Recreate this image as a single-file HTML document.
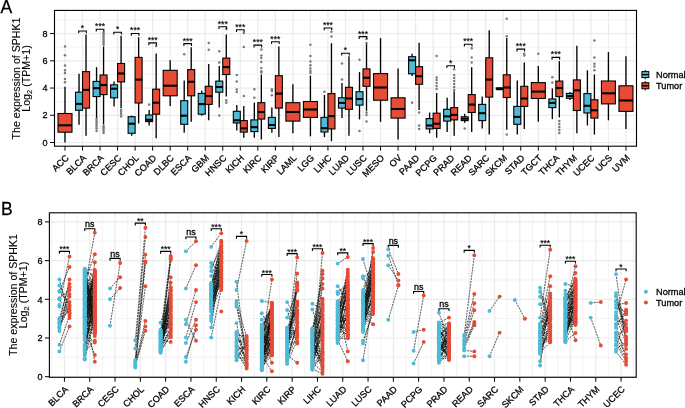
<!DOCTYPE html>
<html><head><meta charset="utf-8"><title>SPHK1 expression</title>
<style>html,body{margin:0;padding:0;background:#fff;width:685px;height:408px;overflow:hidden}
text{stroke:#000;stroke-width:0.28px}
svg{display:block;will-change:transform;font-family:"Liberation Sans",sans-serif}</style></head>
<body><svg width="685" height="408" viewBox="0 0 685 408">
<rect width="685" height="408" fill="#fff"/>
<line x1="54.5" y1="128.89" x2="636.5" y2="128.89" stroke="#EBEBEB" stroke-width="0.6" />
<line x1="54.5" y1="101.67" x2="636.5" y2="101.67" stroke="#EBEBEB" stroke-width="0.6" />
<line x1="54.5" y1="74.45" x2="636.5" y2="74.45" stroke="#EBEBEB" stroke-width="0.6" />
<line x1="54.5" y1="47.23" x2="636.5" y2="47.23" stroke="#EBEBEB" stroke-width="0.6" />
<line x1="54.5" y1="20.01" x2="636.5" y2="20.01" stroke="#EBEBEB" stroke-width="0.6" />
<line x1="54.5" y1="142.5" x2="636.5" y2="142.5" stroke="#EBEBEB" stroke-width="1.2" />
<line x1="54.5" y1="115.28" x2="636.5" y2="115.28" stroke="#EBEBEB" stroke-width="1.2" />
<line x1="54.5" y1="88.06" x2="636.5" y2="88.06" stroke="#EBEBEB" stroke-width="1.2" />
<line x1="54.5" y1="60.84" x2="636.5" y2="60.84" stroke="#EBEBEB" stroke-width="1.2" />
<line x1="54.5" y1="33.62" x2="636.5" y2="33.62" stroke="#EBEBEB" stroke-width="1.2" />
<line x1="65" y1="10.4" x2="65" y2="146.2" stroke="#EBEBEB" stroke-width="1.2" />
<line x1="82.53" y1="10.4" x2="82.53" y2="146.2" stroke="#EBEBEB" stroke-width="1.2" />
<line x1="100.06" y1="10.4" x2="100.06" y2="146.2" stroke="#EBEBEB" stroke-width="1.2" />
<line x1="117.59" y1="10.4" x2="117.59" y2="146.2" stroke="#EBEBEB" stroke-width="1.2" />
<line x1="135.12" y1="10.4" x2="135.12" y2="146.2" stroke="#EBEBEB" stroke-width="1.2" />
<line x1="152.65" y1="10.4" x2="152.65" y2="146.2" stroke="#EBEBEB" stroke-width="1.2" />
<line x1="170.18" y1="10.4" x2="170.18" y2="146.2" stroke="#EBEBEB" stroke-width="1.2" />
<line x1="187.71" y1="10.4" x2="187.71" y2="146.2" stroke="#EBEBEB" stroke-width="1.2" />
<line x1="205.24" y1="10.4" x2="205.24" y2="146.2" stroke="#EBEBEB" stroke-width="1.2" />
<line x1="222.77" y1="10.4" x2="222.77" y2="146.2" stroke="#EBEBEB" stroke-width="1.2" />
<line x1="240.3" y1="10.4" x2="240.3" y2="146.2" stroke="#EBEBEB" stroke-width="1.2" />
<line x1="257.83" y1="10.4" x2="257.83" y2="146.2" stroke="#EBEBEB" stroke-width="1.2" />
<line x1="275.36" y1="10.4" x2="275.36" y2="146.2" stroke="#EBEBEB" stroke-width="1.2" />
<line x1="292.89" y1="10.4" x2="292.89" y2="146.2" stroke="#EBEBEB" stroke-width="1.2" />
<line x1="310.42" y1="10.4" x2="310.42" y2="146.2" stroke="#EBEBEB" stroke-width="1.2" />
<line x1="327.95" y1="10.4" x2="327.95" y2="146.2" stroke="#EBEBEB" stroke-width="1.2" />
<line x1="345.48" y1="10.4" x2="345.48" y2="146.2" stroke="#EBEBEB" stroke-width="1.2" />
<line x1="363.01" y1="10.4" x2="363.01" y2="146.2" stroke="#EBEBEB" stroke-width="1.2" />
<line x1="380.54" y1="10.4" x2="380.54" y2="146.2" stroke="#EBEBEB" stroke-width="1.2" />
<line x1="398.07" y1="10.4" x2="398.07" y2="146.2" stroke="#EBEBEB" stroke-width="1.2" />
<line x1="415.6" y1="10.4" x2="415.6" y2="146.2" stroke="#EBEBEB" stroke-width="1.2" />
<line x1="433.13" y1="10.4" x2="433.13" y2="146.2" stroke="#EBEBEB" stroke-width="1.2" />
<line x1="450.66" y1="10.4" x2="450.66" y2="146.2" stroke="#EBEBEB" stroke-width="1.2" />
<line x1="468.19" y1="10.4" x2="468.19" y2="146.2" stroke="#EBEBEB" stroke-width="1.2" />
<line x1="485.72" y1="10.4" x2="485.72" y2="146.2" stroke="#EBEBEB" stroke-width="1.2" />
<line x1="503.25" y1="10.4" x2="503.25" y2="146.2" stroke="#EBEBEB" stroke-width="1.2" />
<line x1="520.78" y1="10.4" x2="520.78" y2="146.2" stroke="#EBEBEB" stroke-width="1.2" />
<line x1="538.31" y1="10.4" x2="538.31" y2="146.2" stroke="#EBEBEB" stroke-width="1.2" />
<line x1="555.84" y1="10.4" x2="555.84" y2="146.2" stroke="#EBEBEB" stroke-width="1.2" />
<line x1="573.37" y1="10.4" x2="573.37" y2="146.2" stroke="#EBEBEB" stroke-width="1.2" />
<line x1="590.9" y1="10.4" x2="590.9" y2="146.2" stroke="#EBEBEB" stroke-width="1.2" />
<line x1="608.43" y1="10.4" x2="608.43" y2="146.2" stroke="#EBEBEB" stroke-width="1.2" />
<line x1="625.96" y1="10.4" x2="625.96" y2="146.2" stroke="#EBEBEB" stroke-width="1.2" />
<line x1="65" y1="86.8" x2="65" y2="142.6" stroke="#000" stroke-width="1.35" />
<circle cx="65" cy="46.5" r="1.25" fill="#7a7a7a"/>
<circle cx="65" cy="55.2" r="1.25" fill="#7a7a7a"/>
<circle cx="65" cy="65.6" r="1.25" fill="#7a7a7a"/>
<circle cx="65" cy="70.3" r="1.25" fill="#7a7a7a"/>
<circle cx="65" cy="73" r="1.25" fill="#7a7a7a"/>
<circle cx="65" cy="79.1" r="1.25" fill="#7a7a7a"/>
<circle cx="65" cy="82.2" r="1.25" fill="#7a7a7a"/>
<rect x="58" y="113.5" width="14" height="18.7" fill="#E64B35" stroke="#000" stroke-width="1.1"/>
<line x1="58" y1="125.3" x2="72" y2="125.3" stroke="#000" stroke-width="2.1" />
<line x1="79.03" y1="73.8" x2="79.03" y2="124.8" stroke="#000" stroke-width="1.35" />
<rect x="75.53" y="92.2" width="7" height="18.1" fill="#4DBBD5" stroke="#000" stroke-width="1.1"/>
<line x1="75.53" y1="103.9" x2="82.53" y2="103.9" stroke="#000" stroke-width="2.1" />
<line x1="86.03" y1="34.4" x2="86.03" y2="135.8" stroke="#000" stroke-width="1.35" />
<rect x="82.53" y="71.6" width="7" height="36.5" fill="#E64B35" stroke="#000" stroke-width="1.1"/>
<line x1="82.53" y1="89.9" x2="89.53" y2="89.9" stroke="#000" stroke-width="2.1" />
<path d="M78.73 33.3V31H86.33V33.3" fill="none" stroke="#000" stroke-width="1.1"/>
<text x="82.53" y="30.9" font-size="8.6" text-anchor="middle" fill="#000" style="stroke-width:0.15px">*</text>
<line x1="96.56" y1="67.2" x2="96.56" y2="118.6" stroke="#000" stroke-width="1.35" />
<circle cx="96.56" cy="119" r="1.25" fill="#7a7a7a"/>
<circle cx="96.56" cy="121" r="1.25" fill="#7a7a7a"/>
<circle cx="96.56" cy="122.8" r="1.25" fill="#7a7a7a"/>
<circle cx="96.56" cy="124.5" r="1.25" fill="#7a7a7a"/>
<circle cx="96.56" cy="126.5" r="1.25" fill="#7a7a7a"/>
<circle cx="96.56" cy="128.5" r="1.25" fill="#7a7a7a"/>
<circle cx="96.56" cy="131" r="1.25" fill="#7a7a7a"/>
<rect x="93.06" y="81.4" width="7" height="15.2" fill="#4DBBD5" stroke="#000" stroke-width="1.1"/>
<line x1="93.06" y1="88.2" x2="100.06" y2="88.2" stroke="#000" stroke-width="2.1" />
<line x1="103.56" y1="46.5" x2="103.56" y2="124.5" stroke="#000" stroke-width="1.35" />
<circle cx="103.56" cy="32.3" r="1.25" fill="#7a7a7a"/>
<circle cx="103.56" cy="34" r="1.25" fill="#7a7a7a"/>
<circle cx="103.56" cy="35.8" r="1.25" fill="#7a7a7a"/>
<circle cx="103.56" cy="37.6" r="1.25" fill="#7a7a7a"/>
<circle cx="103.56" cy="39.4" r="1.25" fill="#7a7a7a"/>
<circle cx="103.56" cy="41.2" r="1.25" fill="#7a7a7a"/>
<circle cx="103.56" cy="43" r="1.25" fill="#7a7a7a"/>
<circle cx="103.56" cy="44.8" r="1.25" fill="#7a7a7a"/>
<circle cx="103.56" cy="126" r="1.25" fill="#7a7a7a"/>
<circle cx="103.56" cy="127.5" r="1.25" fill="#7a7a7a"/>
<circle cx="103.56" cy="129" r="1.25" fill="#7a7a7a"/>
<circle cx="103.56" cy="131" r="1.25" fill="#7a7a7a"/>
<circle cx="103.56" cy="133" r="1.25" fill="#7a7a7a"/>
<rect x="100.06" y="75" width="7" height="19.6" fill="#E64B35" stroke="#000" stroke-width="1.1"/>
<line x1="100.06" y1="85" x2="107.06" y2="85" stroke="#000" stroke-width="2.1" />
<path d="M96.26 31.5V29.2H103.86V31.5" fill="none" stroke="#000" stroke-width="1.1"/>
<text x="100.06" y="29.1" font-size="8.6" text-anchor="middle" fill="#000" style="stroke-width:0.15px">***</text>
<line x1="114.09" y1="81.4" x2="114.09" y2="106.6" stroke="#000" stroke-width="1.35" />
<rect x="110.59" y="84.8" width="7" height="13" fill="#4DBBD5" stroke="#000" stroke-width="1.1"/>
<line x1="110.59" y1="88.7" x2="117.59" y2="88.7" stroke="#000" stroke-width="2.1" />
<line x1="121.09" y1="35.8" x2="121.09" y2="108.2" stroke="#000" stroke-width="1.35" />
<circle cx="121.09" cy="110" r="1.25" fill="#7a7a7a"/>
<circle cx="121.09" cy="112" r="1.25" fill="#7a7a7a"/>
<circle cx="121.09" cy="114.2" r="1.25" fill="#7a7a7a"/>
<circle cx="121.09" cy="116.4" r="1.25" fill="#7a7a7a"/>
<rect x="117.59" y="63.5" width="7" height="18.4" fill="#E64B35" stroke="#000" stroke-width="1.1"/>
<line x1="117.59" y1="73.5" x2="124.59" y2="73.5" stroke="#000" stroke-width="2.1" />
<path d="M113.79 34.5V32.2H121.39V34.5" fill="none" stroke="#000" stroke-width="1.1"/>
<text x="117.59" y="32.1" font-size="8.6" text-anchor="middle" fill="#000" style="stroke-width:0.15px">*</text>
<line x1="131.62" y1="115.7" x2="131.62" y2="135.8" stroke="#000" stroke-width="1.35" />
<rect x="128.12" y="116.7" width="7" height="16.6" fill="#4DBBD5" stroke="#000" stroke-width="1.1"/>
<line x1="128.12" y1="123.7" x2="135.12" y2="123.7" stroke="#000" stroke-width="2.1" />
<line x1="138.62" y1="37.2" x2="138.62" y2="123.5" stroke="#000" stroke-width="1.35" />
<rect x="135.12" y="57.4" width="7" height="45.6" fill="#E64B35" stroke="#000" stroke-width="1.1"/>
<line x1="135.12" y1="79.6" x2="142.12" y2="79.6" stroke="#000" stroke-width="2.1" />
<path d="M131.32 35.8V33.5H138.92V35.8" fill="none" stroke="#000" stroke-width="1.1"/>
<text x="135.12" y="33.4" font-size="8.6" text-anchor="middle" fill="#000" style="stroke-width:0.15px">***</text>
<line x1="149.15" y1="110" x2="149.15" y2="125.5" stroke="#000" stroke-width="1.35" />
<circle cx="149.15" cy="104.4" r="1.25" fill="#7a7a7a"/>
<rect x="145.65" y="115" width="7" height="6.6" fill="#4DBBD5" stroke="#000" stroke-width="1.1"/>
<line x1="145.65" y1="119.8" x2="152.65" y2="119.8" stroke="#000" stroke-width="2.1" />
<line x1="156.15" y1="53.4" x2="156.15" y2="138.2" stroke="#000" stroke-width="1.35" />
<circle cx="156.15" cy="46.1" r="1.25" fill="#7a7a7a"/>
<rect x="152.65" y="89.2" width="7" height="25" fill="#E64B35" stroke="#000" stroke-width="1.1"/>
<line x1="152.65" y1="102.7" x2="159.65" y2="102.7" stroke="#000" stroke-width="2.1" />
<path d="M148.85 45.2V42.9H156.45V45.2" fill="none" stroke="#000" stroke-width="1.1"/>
<text x="152.65" y="42.8" font-size="8.6" text-anchor="middle" fill="#000" style="stroke-width:0.15px">***</text>
<line x1="170.18" y1="60.3" x2="170.18" y2="105.9" stroke="#000" stroke-width="1.35" />
<rect x="163.18" y="70.3" width="14" height="25.5" fill="#E64B35" stroke="#000" stroke-width="1.1"/>
<line x1="163.18" y1="85.7" x2="177.18" y2="85.7" stroke="#000" stroke-width="2.1" />
<line x1="184.21" y1="80.6" x2="184.21" y2="132.8" stroke="#000" stroke-width="1.35" />
<circle cx="184.21" cy="54.2" r="1.25" fill="#7a7a7a"/>
<rect x="180.71" y="100.7" width="7" height="23.6" fill="#4DBBD5" stroke="#000" stroke-width="1.1"/>
<line x1="180.71" y1="115.7" x2="187.71" y2="115.7" stroke="#000" stroke-width="2.1" />
<line x1="191.21" y1="47.3" x2="191.21" y2="121.8" stroke="#000" stroke-width="1.35" />
<rect x="187.71" y="69.6" width="7" height="26.2" fill="#E64B35" stroke="#000" stroke-width="1.1"/>
<line x1="187.71" y1="81.8" x2="194.71" y2="81.8" stroke="#000" stroke-width="2.1" />
<path d="M183.91 45.9V43.6H191.51V45.9" fill="none" stroke="#000" stroke-width="1.1"/>
<text x="187.71" y="43.5" font-size="8.6" text-anchor="middle" fill="#000" style="stroke-width:0.15px">***</text>
<line x1="201.74" y1="90.4" x2="201.74" y2="115.7" stroke="#000" stroke-width="1.35" />
<rect x="198.24" y="93.4" width="7" height="20.8" fill="#4DBBD5" stroke="#000" stroke-width="1.1"/>
<line x1="198.24" y1="104.1" x2="205.24" y2="104.1" stroke="#000" stroke-width="2.1" />
<line x1="208.74" y1="64" x2="208.74" y2="120.3" stroke="#000" stroke-width="1.35" />
<circle cx="208.74" cy="43" r="1.25" fill="#7a7a7a"/>
<circle cx="208.74" cy="49.7" r="1.25" fill="#7a7a7a"/>
<rect x="205.24" y="86.3" width="7" height="18.1" fill="#E64B35" stroke="#000" stroke-width="1.1"/>
<line x1="205.24" y1="96" x2="212.24" y2="96" stroke="#000" stroke-width="2.1" />
<line x1="219.27" y1="65.9" x2="219.27" y2="107.6" stroke="#000" stroke-width="1.35" />
<circle cx="219.27" cy="51.3" r="1.25" fill="#7a7a7a"/>
<circle cx="219.27" cy="62.4" r="1.25" fill="#7a7a7a"/>
<circle cx="219.27" cy="115.4" r="1.25" fill="#7a7a7a"/>
<rect x="215.77" y="81.1" width="7" height="11.1" fill="#4DBBD5" stroke="#000" stroke-width="1.1"/>
<line x1="215.77" y1="87" x2="222.77" y2="87" stroke="#000" stroke-width="2.1" />
<line x1="226.27" y1="34.4" x2="226.27" y2="96.6" stroke="#000" stroke-width="1.35" />
<circle cx="226.27" cy="28.9" r="1.25" fill="#7a7a7a"/>
<circle cx="226.27" cy="100.2" r="1.25" fill="#7a7a7a"/>
<circle cx="226.27" cy="102.7" r="1.25" fill="#7a7a7a"/>
<rect x="222.77" y="58.1" width="7" height="16.4" fill="#E64B35" stroke="#000" stroke-width="1.1"/>
<line x1="222.77" y1="67.1" x2="229.77" y2="67.1" stroke="#000" stroke-width="2.1" />
<path d="M218.97 29V26.7H226.57V29" fill="none" stroke="#000" stroke-width="1.1"/>
<text x="222.77" y="26.6" font-size="8.6" text-anchor="middle" fill="#000" style="stroke-width:0.15px">***</text>
<line x1="236.8" y1="105.1" x2="236.8" y2="130.6" stroke="#000" stroke-width="1.35" />
<circle cx="236.8" cy="75" r="1.25" fill="#7a7a7a"/>
<circle cx="236.8" cy="81.5" r="1.25" fill="#7a7a7a"/>
<circle cx="236.8" cy="89.5" r="1.25" fill="#7a7a7a"/>
<circle cx="236.8" cy="92" r="1.25" fill="#7a7a7a"/>
<rect x="233.3" y="111.3" width="7" height="11.7" fill="#4DBBD5" stroke="#000" stroke-width="1.1"/>
<line x1="233.3" y1="120.3" x2="240.3" y2="120.3" stroke="#000" stroke-width="2.1" />
<line x1="243.8" y1="105.9" x2="243.8" y2="137.7" stroke="#000" stroke-width="1.35" />
<circle cx="243.8" cy="33" r="1.25" fill="#7a7a7a"/>
<circle cx="243.8" cy="46.9" r="1.25" fill="#7a7a7a"/>
<circle cx="243.8" cy="96.1" r="1.25" fill="#7a7a7a"/>
<rect x="240.3" y="120.6" width="7" height="11.5" fill="#E64B35" stroke="#000" stroke-width="1.1"/>
<line x1="240.3" y1="128.4" x2="247.3" y2="128.4" stroke="#000" stroke-width="2.1" />
<path d="M236.5 32.1V29.8H244.1V32.1" fill="none" stroke="#000" stroke-width="1.1"/>
<text x="240.3" y="29.7" font-size="8.6" text-anchor="middle" fill="#000" style="stroke-width:0.15px">***</text>
<line x1="254.33" y1="102.7" x2="254.33" y2="137.7" stroke="#000" stroke-width="1.35" />
<circle cx="254.33" cy="89.2" r="1.25" fill="#7a7a7a"/>
<circle cx="254.33" cy="97.8" r="1.25" fill="#7a7a7a"/>
<rect x="250.83" y="119.9" width="7" height="11.7" fill="#4DBBD5" stroke="#000" stroke-width="1.1"/>
<line x1="250.83" y1="127.2" x2="257.83" y2="127.2" stroke="#000" stroke-width="2.1" />
<line x1="261.33" y1="74.5" x2="261.33" y2="139.5" stroke="#000" stroke-width="1.35" />
<circle cx="261.33" cy="49.4" r="1.25" fill="#7a7a7a"/>
<circle cx="261.33" cy="55.5" r="1.25" fill="#7a7a7a"/>
<circle cx="261.33" cy="58" r="1.25" fill="#7a7a7a"/>
<circle cx="261.33" cy="62" r="1.25" fill="#7a7a7a"/>
<circle cx="261.33" cy="68" r="1.25" fill="#7a7a7a"/>
<circle cx="261.33" cy="71.2" r="1.25" fill="#7a7a7a"/>
<circle cx="261.33" cy="72.6" r="1.25" fill="#7a7a7a"/>
<rect x="257.83" y="102.7" width="7" height="16.4" fill="#E64B35" stroke="#000" stroke-width="1.1"/>
<line x1="257.83" y1="112" x2="264.83" y2="112" stroke="#000" stroke-width="2.1" />
<path d="M254.03 47.4V45.1H261.63V47.4" fill="none" stroke="#000" stroke-width="1.1"/>
<text x="257.83" y="45" font-size="8.6" text-anchor="middle" fill="#000" style="stroke-width:0.15px">***</text>
<line x1="271.86" y1="107.6" x2="271.86" y2="132.8" stroke="#000" stroke-width="1.35" />
<circle cx="271.86" cy="89.2" r="1.25" fill="#7a7a7a"/>
<circle cx="271.86" cy="90.9" r="1.25" fill="#7a7a7a"/>
<circle cx="271.86" cy="95.3" r="1.25" fill="#7a7a7a"/>
<rect x="268.36" y="117.4" width="7" height="11" fill="#4DBBD5" stroke="#000" stroke-width="1.1"/>
<line x1="268.36" y1="125" x2="275.36" y2="125" stroke="#000" stroke-width="2.1" />
<line x1="278.86" y1="46.4" x2="278.86" y2="137" stroke="#000" stroke-width="1.35" />
<rect x="275.36" y="75.7" width="7" height="32.4" fill="#E64B35" stroke="#000" stroke-width="1.1"/>
<line x1="275.36" y1="93.6" x2="282.36" y2="93.6" stroke="#000" stroke-width="2.1" />
<path d="M271.56 44.1V41.8H279.16V44.1" fill="none" stroke="#000" stroke-width="1.1"/>
<text x="275.36" y="41.7" font-size="8.6" text-anchor="middle" fill="#000" style="stroke-width:0.15px">***</text>
<line x1="292.89" y1="84.3" x2="292.89" y2="133.3" stroke="#000" stroke-width="1.35" />
<rect x="285.89" y="102.7" width="14" height="18.4" fill="#E64B35" stroke="#000" stroke-width="1.1"/>
<line x1="285.89" y1="112" x2="299.89" y2="112" stroke="#000" stroke-width="2.1" />
<line x1="310.42" y1="75.7" x2="310.42" y2="136.3" stroke="#000" stroke-width="1.35" />
<circle cx="310.42" cy="44.7" r="1.25" fill="#7a7a7a"/>
<circle cx="310.42" cy="55.9" r="1.25" fill="#7a7a7a"/>
<circle cx="310.42" cy="61.4" r="1.25" fill="#7a7a7a"/>
<circle cx="310.42" cy="65.3" r="1.25" fill="#7a7a7a"/>
<circle cx="310.42" cy="68.5" r="1.25" fill="#7a7a7a"/>
<circle cx="310.42" cy="71" r="1.25" fill="#7a7a7a"/>
<circle cx="310.42" cy="73" r="1.25" fill="#7a7a7a"/>
<rect x="303.42" y="101.5" width="14" height="15.9" fill="#E64B35" stroke="#000" stroke-width="1.1"/>
<line x1="303.42" y1="109.5" x2="317.42" y2="109.5" stroke="#000" stroke-width="2.1" />
<line x1="324.45" y1="95" x2="324.45" y2="137.2" stroke="#000" stroke-width="1.35" />
<circle cx="324.45" cy="91.7" r="1.25" fill="#7a7a7a"/>
<rect x="320.95" y="117.4" width="7" height="14.6" fill="#4DBBD5" stroke="#000" stroke-width="1.1"/>
<line x1="320.95" y1="128.2" x2="327.95" y2="128.2" stroke="#000" stroke-width="2.1" />
<line x1="331.45" y1="43.2" x2="331.45" y2="141.2" stroke="#000" stroke-width="1.35" />
<circle cx="331.45" cy="31.7" r="1.25" fill="#7a7a7a"/>
<circle cx="331.45" cy="36.6" r="1.25" fill="#7a7a7a"/>
<rect x="327.95" y="93.6" width="7" height="35.3" fill="#E64B35" stroke="#000" stroke-width="1.1"/>
<line x1="327.95" y1="116.1" x2="334.95" y2="116.1" stroke="#000" stroke-width="2.1" />
<path d="M324.15 30.3V28H331.75V30.3" fill="none" stroke="#000" stroke-width="1.1"/>
<text x="327.95" y="27.9" font-size="8.6" text-anchor="middle" fill="#000" style="stroke-width:0.15px">***</text>
<line x1="341.98" y1="83.1" x2="341.98" y2="117.9" stroke="#000" stroke-width="1.35" />
<circle cx="341.98" cy="63.5" r="1.25" fill="#7a7a7a"/>
<circle cx="341.98" cy="79.4" r="1.25" fill="#7a7a7a"/>
<rect x="338.48" y="97.8" width="7" height="10.3" fill="#4DBBD5" stroke="#000" stroke-width="1.1"/>
<line x1="338.48" y1="102.9" x2="345.48" y2="102.9" stroke="#000" stroke-width="2.1" />
<line x1="348.98" y1="56.3" x2="348.98" y2="135.8" stroke="#000" stroke-width="1.35" />
<rect x="345.48" y="87.3" width="7" height="22" fill="#E64B35" stroke="#000" stroke-width="1.1"/>
<line x1="345.48" y1="98.5" x2="352.48" y2="98.5" stroke="#000" stroke-width="2.1" />
<path d="M341.68 55.5V53.2H349.28V55.5" fill="none" stroke="#000" stroke-width="1.1"/>
<text x="345.48" y="53.1" font-size="8.6" text-anchor="middle" fill="#000" style="stroke-width:0.15px">*</text>
<line x1="359.51" y1="72.1" x2="359.51" y2="119.4" stroke="#000" stroke-width="1.35" />
<circle cx="359.51" cy="59.8" r="1.25" fill="#7a7a7a"/>
<circle cx="359.51" cy="130.9" r="1.25" fill="#7a7a7a"/>
<rect x="356.01" y="91.7" width="7" height="13.4" fill="#4DBBD5" stroke="#000" stroke-width="1.1"/>
<line x1="356.01" y1="99" x2="363.01" y2="99" stroke="#000" stroke-width="2.1" />
<line x1="366.51" y1="43.6" x2="366.51" y2="110.8" stroke="#000" stroke-width="1.35" />
<circle cx="366.51" cy="39" r="1.25" fill="#7a7a7a"/>
<circle cx="366.51" cy="43" r="1.25" fill="#7a7a7a"/>
<circle cx="366.51" cy="112.5" r="1.25" fill="#7a7a7a"/>
<circle cx="366.51" cy="115" r="1.25" fill="#7a7a7a"/>
<circle cx="366.51" cy="121.6" r="1.25" fill="#7a7a7a"/>
<rect x="363.01" y="68.9" width="7" height="17.4" fill="#E64B35" stroke="#000" stroke-width="1.1"/>
<line x1="363.01" y1="77.7" x2="370.01" y2="77.7" stroke="#000" stroke-width="2.1" />
<path d="M359.21 38.9V36.6H366.81V38.9" fill="none" stroke="#000" stroke-width="1.1"/>
<text x="363.01" y="36.5" font-size="8.6" text-anchor="middle" fill="#000" style="stroke-width:0.15px">***</text>
<line x1="380.54" y1="38.1" x2="380.54" y2="121.8" stroke="#000" stroke-width="1.35" />
<rect x="373.54" y="73.6" width="14" height="26.6" fill="#E64B35" stroke="#000" stroke-width="1.1"/>
<line x1="373.54" y1="87.5" x2="387.54" y2="87.5" stroke="#000" stroke-width="2.1" />
<line x1="398.07" y1="68.4" x2="398.07" y2="139.5" stroke="#000" stroke-width="1.35" />
<rect x="391.07" y="97.8" width="14" height="20.3" fill="#E64B35" stroke="#000" stroke-width="1.1"/>
<line x1="391.07" y1="109" x2="405.07" y2="109" stroke="#000" stroke-width="2.1" />
<line x1="412.1" y1="53.7" x2="412.1" y2="76" stroke="#000" stroke-width="1.35" />
<circle cx="412.1" cy="102.7" r="1.25" fill="#7a7a7a"/>
<rect x="408.6" y="56.7" width="7" height="17.1" fill="#4DBBD5" stroke="#000" stroke-width="1.1"/>
<line x1="408.6" y1="60.3" x2="415.6" y2="60.3" stroke="#000" stroke-width="2.1" />
<line x1="419.1" y1="42.7" x2="419.1" y2="110" stroke="#000" stroke-width="1.35" />
<circle cx="419.1" cy="112.5" r="1.25" fill="#7a7a7a"/>
<circle cx="419.1" cy="125.5" r="1.25" fill="#7a7a7a"/>
<circle cx="419.1" cy="129" r="1.25" fill="#7a7a7a"/>
<rect x="415.6" y="66.7" width="7" height="17.6" fill="#E64B35" stroke="#000" stroke-width="1.1"/>
<line x1="415.6" y1="76.2" x2="422.6" y2="76.2" stroke="#000" stroke-width="2.1" />
<line x1="429.63" y1="112.5" x2="429.63" y2="133.3" stroke="#000" stroke-width="1.35" />
<rect x="426.13" y="118.6" width="7" height="10.3" fill="#4DBBD5" stroke="#000" stroke-width="1.1"/>
<line x1="426.13" y1="125.5" x2="433.13" y2="125.5" stroke="#000" stroke-width="2.1" />
<line x1="436.63" y1="92.9" x2="436.63" y2="137.7" stroke="#000" stroke-width="1.35" />
<circle cx="436.63" cy="56.1" r="1.25" fill="#7a7a7a"/>
<circle cx="436.63" cy="77.6" r="1.25" fill="#7a7a7a"/>
<circle cx="436.63" cy="80" r="1.25" fill="#7a7a7a"/>
<circle cx="436.63" cy="83" r="1.25" fill="#7a7a7a"/>
<circle cx="436.63" cy="86" r="1.25" fill="#7a7a7a"/>
<circle cx="436.63" cy="89" r="1.25" fill="#7a7a7a"/>
<rect x="433.13" y="113.2" width="7" height="15.2" fill="#E64B35" stroke="#000" stroke-width="1.1"/>
<line x1="433.13" y1="123.7" x2="440.13" y2="123.7" stroke="#000" stroke-width="2.1" />
<line x1="447.16" y1="97.8" x2="447.16" y2="132.1" stroke="#000" stroke-width="1.35" />
<rect x="443.66" y="109.3" width="7" height="11.8" fill="#4DBBD5" stroke="#000" stroke-width="1.1"/>
<line x1="443.66" y1="116.4" x2="450.66" y2="116.4" stroke="#000" stroke-width="2.1" />
<line x1="454.16" y1="91.2" x2="454.16" y2="135.8" stroke="#000" stroke-width="1.35" />
<circle cx="454.16" cy="69.3" r="1.25" fill="#7a7a7a"/>
<circle cx="454.16" cy="74.9" r="1.25" fill="#7a7a7a"/>
<circle cx="454.16" cy="78" r="1.25" fill="#7a7a7a"/>
<circle cx="454.16" cy="81" r="1.25" fill="#7a7a7a"/>
<circle cx="454.16" cy="84" r="1.25" fill="#7a7a7a"/>
<circle cx="454.16" cy="87" r="1.25" fill="#7a7a7a"/>
<circle cx="454.16" cy="90" r="1.25" fill="#7a7a7a"/>
<rect x="450.66" y="107.6" width="7" height="12.3" fill="#E64B35" stroke="#000" stroke-width="1.1"/>
<line x1="450.66" y1="114.9" x2="457.66" y2="114.9" stroke="#000" stroke-width="2.1" />
<path d="M446.86 68V65.7H454.46V68" fill="none" stroke="#000" stroke-width="1.1"/>
<text x="450.66" y="65.6" font-size="8.6" text-anchor="middle" fill="#000" style="stroke-width:0.15px">*</text>
<line x1="464.69" y1="113.8" x2="464.69" y2="122.7" stroke="#000" stroke-width="1.35" />
<circle cx="464.69" cy="128.4" r="1.25" fill="#7a7a7a"/>
<rect x="461.19" y="116.8" width="7" height="3.8" fill="#4DBBD5" stroke="#000" stroke-width="1.1"/>
<line x1="461.19" y1="118.7" x2="468.19" y2="118.7" stroke="#000" stroke-width="2.1" />
<line x1="471.69" y1="67.2" x2="471.69" y2="132.1" stroke="#000" stroke-width="1.35" />
<circle cx="471.69" cy="48.2" r="1.25" fill="#7a7a7a"/>
<circle cx="471.69" cy="57.4" r="1.25" fill="#7a7a7a"/>
<circle cx="471.69" cy="62.4" r="1.25" fill="#7a7a7a"/>
<rect x="468.19" y="94.6" width="7" height="17.9" fill="#E64B35" stroke="#000" stroke-width="1.1"/>
<line x1="468.19" y1="104.6" x2="475.19" y2="104.6" stroke="#000" stroke-width="2.1" />
<path d="M464.39 46.5V44.2H471.99V46.5" fill="none" stroke="#000" stroke-width="1.1"/>
<text x="468.19" y="44.1" font-size="8.6" text-anchor="middle" fill="#000" style="stroke-width:0.15px">***</text>
<line x1="482.22" y1="96.6" x2="482.22" y2="128.4" stroke="#000" stroke-width="1.35" />
<rect x="478.72" y="104.4" width="7" height="16.2" fill="#4DBBD5" stroke="#000" stroke-width="1.1"/>
<line x1="478.72" y1="113.2" x2="485.72" y2="113.2" stroke="#000" stroke-width="2.1" />
<line x1="489.22" y1="30.2" x2="489.22" y2="134.6" stroke="#000" stroke-width="1.35" />
<rect x="485.72" y="57.8" width="7" height="39.3" fill="#E64B35" stroke="#000" stroke-width="1.1"/>
<line x1="485.72" y1="79.6" x2="492.72" y2="79.6" stroke="#000" stroke-width="2.1" />
<line x1="499.75" y1="87.8" x2="499.75" y2="89.2" stroke="#000" stroke-width="1.35" />
<rect x="496.25" y="87.8" width="7" height="1.4" fill="#4DBBD5" stroke="#000" stroke-width="1.1"/>
<line x1="496.25" y1="89.2" x2="503.25" y2="89.2" stroke="#000" stroke-width="2.1" />
<line x1="506.75" y1="38.1" x2="506.75" y2="129.7" stroke="#000" stroke-width="1.35" />
<circle cx="506.75" cy="18.8" r="1.25" fill="#7a7a7a"/>
<circle cx="506.75" cy="36.3" r="1.25" fill="#7a7a7a"/>
<circle cx="506.75" cy="134.6" r="1.25" fill="#7a7a7a"/>
<rect x="503.25" y="74.8" width="7" height="22.7" fill="#E64B35" stroke="#000" stroke-width="1.1"/>
<line x1="503.25" y1="87.5" x2="510.25" y2="87.5" stroke="#000" stroke-width="2.1" />
<line x1="517.28" y1="80.6" x2="517.28" y2="134.6" stroke="#000" stroke-width="1.35" />
<rect x="513.78" y="106.4" width="7" height="17.9" fill="#4DBBD5" stroke="#000" stroke-width="1.1"/>
<line x1="513.78" y1="116.9" x2="520.78" y2="116.9" stroke="#000" stroke-width="2.1" />
<line x1="524.28" y1="62.4" x2="524.28" y2="128.9" stroke="#000" stroke-width="1.35" />
<circle cx="524.28" cy="53.7" r="1.25" fill="#7a7a7a"/>
<circle cx="524.28" cy="55.5" r="1.25" fill="#7a7a7a"/>
<rect x="520.78" y="86.3" width="7" height="20.1" fill="#E64B35" stroke="#000" stroke-width="1.1"/>
<line x1="520.78" y1="98.5" x2="527.78" y2="98.5" stroke="#000" stroke-width="2.1" />
<path d="M516.98 51.4V49.1H524.58V51.4" fill="none" stroke="#000" stroke-width="1.1"/>
<text x="520.78" y="49" font-size="8.6" text-anchor="middle" fill="#000" style="stroke-width:0.15px">***</text>
<line x1="538.31" y1="65.9" x2="538.31" y2="121.8" stroke="#000" stroke-width="1.35" />
<circle cx="538.31" cy="53.7" r="1.25" fill="#7a7a7a"/>
<rect x="531.31" y="82.6" width="14" height="15.9" fill="#E64B35" stroke="#000" stroke-width="1.1"/>
<line x1="531.31" y1="91.6" x2="545.31" y2="91.6" stroke="#000" stroke-width="2.1" />
<line x1="552.34" y1="88.5" x2="552.34" y2="119.1" stroke="#000" stroke-width="1.35" />
<circle cx="552.34" cy="77.3" r="1.25" fill="#7a7a7a"/>
<circle cx="552.34" cy="82.4" r="1.25" fill="#7a7a7a"/>
<rect x="548.84" y="99" width="7" height="8.6" fill="#4DBBD5" stroke="#000" stroke-width="1.1"/>
<line x1="548.84" y1="102.9" x2="555.84" y2="102.9" stroke="#000" stroke-width="2.1" />
<line x1="559.34" y1="61.1" x2="559.34" y2="117.4" stroke="#000" stroke-width="1.35" />
<circle cx="559.34" cy="121" r="1.25" fill="#7a7a7a"/>
<circle cx="559.34" cy="124" r="1.25" fill="#7a7a7a"/>
<circle cx="559.34" cy="127" r="1.25" fill="#7a7a7a"/>
<circle cx="559.34" cy="130" r="1.25" fill="#7a7a7a"/>
<circle cx="559.34" cy="133" r="1.25" fill="#7a7a7a"/>
<rect x="555.84" y="81.1" width="7" height="15.5" fill="#E64B35" stroke="#000" stroke-width="1.1"/>
<line x1="555.84" y1="88" x2="562.84" y2="88" stroke="#000" stroke-width="2.1" />
<path d="M552.04 59.7V57.4H559.64V59.7" fill="none" stroke="#000" stroke-width="1.1"/>
<text x="555.84" y="57.3" font-size="8.6" text-anchor="middle" fill="#000" style="stroke-width:0.15px">***</text>
<line x1="569.87" y1="92" x2="569.87" y2="100" stroke="#000" stroke-width="1.35" />
<rect x="566.37" y="93.4" width="7" height="4.9" fill="#4DBBD5" stroke="#000" stroke-width="1.1"/>
<line x1="566.37" y1="96" x2="573.37" y2="96" stroke="#000" stroke-width="2.1" />
<line x1="576.87" y1="45.8" x2="576.87" y2="133.3" stroke="#000" stroke-width="1.35" />
<rect x="573.37" y="79.9" width="7" height="30.6" fill="#E64B35" stroke="#000" stroke-width="1.1"/>
<line x1="573.37" y1="90.4" x2="580.37" y2="90.4" stroke="#000" stroke-width="2.1" />
<line x1="587.4" y1="70.3" x2="587.4" y2="125.5" stroke="#000" stroke-width="1.35" />
<rect x="583.9" y="93.6" width="7" height="19.4" fill="#4DBBD5" stroke="#000" stroke-width="1.1"/>
<line x1="583.9" y1="105.8" x2="590.9" y2="105.8" stroke="#000" stroke-width="2.1" />
<line x1="594.4" y1="74.5" x2="594.4" y2="134.6" stroke="#000" stroke-width="1.35" />
<circle cx="594.4" cy="40.5" r="1.25" fill="#7a7a7a"/>
<circle cx="594.4" cy="57.4" r="1.25" fill="#7a7a7a"/>
<circle cx="594.4" cy="63.8" r="1.25" fill="#7a7a7a"/>
<circle cx="594.4" cy="66.5" r="1.25" fill="#7a7a7a"/>
<circle cx="594.4" cy="70.3" r="1.25" fill="#7a7a7a"/>
<rect x="590.9" y="99.8" width="7" height="18.3" fill="#E64B35" stroke="#000" stroke-width="1.1"/>
<line x1="590.9" y1="110.3" x2="597.9" y2="110.3" stroke="#000" stroke-width="2.1" />
<line x1="608.43" y1="52.1" x2="608.43" y2="120.3" stroke="#000" stroke-width="1.35" />
<rect x="601.43" y="81" width="14" height="22.9" fill="#E64B35" stroke="#000" stroke-width="1.1"/>
<line x1="601.43" y1="93.3" x2="615.43" y2="93.3" stroke="#000" stroke-width="2.1" />
<line x1="625.96" y1="56.2" x2="625.96" y2="129" stroke="#000" stroke-width="1.35" />
<rect x="618.96" y="85.8" width="14" height="25.6" fill="#E64B35" stroke="#000" stroke-width="1.1"/>
<line x1="618.96" y1="100.5" x2="632.96" y2="100.5" stroke="#000" stroke-width="2.1" />
<rect x="54.5" y="10.4" width="582" height="135.8" fill="none" stroke="#000" stroke-width="1.1"/>
<line x1="50.1" y1="142.5" x2="54.5" y2="142.5" stroke="#000" stroke-width="1" />
<text x="47.6" y="145.7" font-size="9.1" text-anchor="end" fill="#000" >0</text>
<line x1="50.1" y1="115.28" x2="54.5" y2="115.28" stroke="#000" stroke-width="1" />
<text x="47.6" y="118.48" font-size="9.1" text-anchor="end" fill="#000" >2</text>
<line x1="50.1" y1="88.06" x2="54.5" y2="88.06" stroke="#000" stroke-width="1" />
<text x="47.6" y="91.26" font-size="9.1" text-anchor="end" fill="#000" >4</text>
<line x1="50.1" y1="60.84" x2="54.5" y2="60.84" stroke="#000" stroke-width="1" />
<text x="47.6" y="64.04" font-size="9.1" text-anchor="end" fill="#000" >6</text>
<line x1="50.1" y1="33.62" x2="54.5" y2="33.62" stroke="#000" stroke-width="1" />
<text x="47.6" y="36.82" font-size="9.1" text-anchor="end" fill="#000" >8</text>
<line x1="65" y1="146.2" x2="65" y2="150.6" stroke="#000" stroke-width="1" />
<text x="69.3" y="158.5" font-size="9.1" text-anchor="end" fill="#000" transform="rotate(-45 69.3 158.5)">ACC</text>
<line x1="82.53" y1="146.2" x2="82.53" y2="150.6" stroke="#000" stroke-width="1" />
<text x="86.83" y="158.5" font-size="9.1" text-anchor="end" fill="#000" transform="rotate(-45 86.83 158.5)">BLCA</text>
<line x1="100.06" y1="146.2" x2="100.06" y2="150.6" stroke="#000" stroke-width="1" />
<text x="104.36" y="158.5" font-size="9.1" text-anchor="end" fill="#000" transform="rotate(-45 104.36 158.5)">BRCA</text>
<line x1="117.59" y1="146.2" x2="117.59" y2="150.6" stroke="#000" stroke-width="1" />
<text x="121.89" y="158.5" font-size="9.1" text-anchor="end" fill="#000" transform="rotate(-45 121.89 158.5)">CESC</text>
<line x1="135.12" y1="146.2" x2="135.12" y2="150.6" stroke="#000" stroke-width="1" />
<text x="139.42" y="158.5" font-size="9.1" text-anchor="end" fill="#000" transform="rotate(-45 139.42 158.5)">CHOL</text>
<line x1="152.65" y1="146.2" x2="152.65" y2="150.6" stroke="#000" stroke-width="1" />
<text x="156.95" y="158.5" font-size="9.1" text-anchor="end" fill="#000" transform="rotate(-45 156.95 158.5)">COAD</text>
<line x1="170.18" y1="146.2" x2="170.18" y2="150.6" stroke="#000" stroke-width="1" />
<text x="174.48" y="158.5" font-size="9.1" text-anchor="end" fill="#000" transform="rotate(-45 174.48 158.5)">DLBC</text>
<line x1="187.71" y1="146.2" x2="187.71" y2="150.6" stroke="#000" stroke-width="1" />
<text x="192.01" y="158.5" font-size="9.1" text-anchor="end" fill="#000" transform="rotate(-45 192.01 158.5)">ESCA</text>
<line x1="205.24" y1="146.2" x2="205.24" y2="150.6" stroke="#000" stroke-width="1" />
<text x="209.54" y="158.5" font-size="9.1" text-anchor="end" fill="#000" transform="rotate(-45 209.54 158.5)">GBM</text>
<line x1="222.77" y1="146.2" x2="222.77" y2="150.6" stroke="#000" stroke-width="1" />
<text x="227.07" y="158.5" font-size="9.1" text-anchor="end" fill="#000" transform="rotate(-45 227.07 158.5)">HNSC</text>
<line x1="240.3" y1="146.2" x2="240.3" y2="150.6" stroke="#000" stroke-width="1" />
<text x="244.6" y="158.5" font-size="9.1" text-anchor="end" fill="#000" transform="rotate(-45 244.6 158.5)">KICH</text>
<line x1="257.83" y1="146.2" x2="257.83" y2="150.6" stroke="#000" stroke-width="1" />
<text x="262.13" y="158.5" font-size="9.1" text-anchor="end" fill="#000" transform="rotate(-45 262.13 158.5)">KIRC</text>
<line x1="275.36" y1="146.2" x2="275.36" y2="150.6" stroke="#000" stroke-width="1" />
<text x="279.66" y="158.5" font-size="9.1" text-anchor="end" fill="#000" transform="rotate(-45 279.66 158.5)">KIRP</text>
<line x1="292.89" y1="146.2" x2="292.89" y2="150.6" stroke="#000" stroke-width="1" />
<text x="297.19" y="158.5" font-size="9.1" text-anchor="end" fill="#000" transform="rotate(-45 297.19 158.5)">LAML</text>
<line x1="310.42" y1="146.2" x2="310.42" y2="150.6" stroke="#000" stroke-width="1" />
<text x="314.72" y="158.5" font-size="9.1" text-anchor="end" fill="#000" transform="rotate(-45 314.72 158.5)">LGG</text>
<line x1="327.95" y1="146.2" x2="327.95" y2="150.6" stroke="#000" stroke-width="1" />
<text x="332.25" y="158.5" font-size="9.1" text-anchor="end" fill="#000" transform="rotate(-45 332.25 158.5)">LIHC</text>
<line x1="345.48" y1="146.2" x2="345.48" y2="150.6" stroke="#000" stroke-width="1" />
<text x="349.78" y="158.5" font-size="9.1" text-anchor="end" fill="#000" transform="rotate(-45 349.78 158.5)">LUAD</text>
<line x1="363.01" y1="146.2" x2="363.01" y2="150.6" stroke="#000" stroke-width="1" />
<text x="367.31" y="158.5" font-size="9.1" text-anchor="end" fill="#000" transform="rotate(-45 367.31 158.5)">LUSC</text>
<line x1="380.54" y1="146.2" x2="380.54" y2="150.6" stroke="#000" stroke-width="1" />
<text x="384.84" y="158.5" font-size="9.1" text-anchor="end" fill="#000" transform="rotate(-45 384.84 158.5)">MESO</text>
<line x1="398.07" y1="146.2" x2="398.07" y2="150.6" stroke="#000" stroke-width="1" />
<text x="402.37" y="158.5" font-size="9.1" text-anchor="end" fill="#000" transform="rotate(-45 402.37 158.5)">OV</text>
<line x1="415.6" y1="146.2" x2="415.6" y2="150.6" stroke="#000" stroke-width="1" />
<text x="419.9" y="158.5" font-size="9.1" text-anchor="end" fill="#000" transform="rotate(-45 419.9 158.5)">PAAD</text>
<line x1="433.13" y1="146.2" x2="433.13" y2="150.6" stroke="#000" stroke-width="1" />
<text x="437.43" y="158.5" font-size="9.1" text-anchor="end" fill="#000" transform="rotate(-45 437.43 158.5)">PCPG</text>
<line x1="450.66" y1="146.2" x2="450.66" y2="150.6" stroke="#000" stroke-width="1" />
<text x="454.96" y="158.5" font-size="9.1" text-anchor="end" fill="#000" transform="rotate(-45 454.96 158.5)">PRAD</text>
<line x1="468.19" y1="146.2" x2="468.19" y2="150.6" stroke="#000" stroke-width="1" />
<text x="472.49" y="158.5" font-size="9.1" text-anchor="end" fill="#000" transform="rotate(-45 472.49 158.5)">READ</text>
<line x1="485.72" y1="146.2" x2="485.72" y2="150.6" stroke="#000" stroke-width="1" />
<text x="490.02" y="158.5" font-size="9.1" text-anchor="end" fill="#000" transform="rotate(-45 490.02 158.5)">SARC</text>
<line x1="503.25" y1="146.2" x2="503.25" y2="150.6" stroke="#000" stroke-width="1" />
<text x="507.55" y="158.5" font-size="9.1" text-anchor="end" fill="#000" transform="rotate(-45 507.55 158.5)">SKCM</text>
<line x1="520.78" y1="146.2" x2="520.78" y2="150.6" stroke="#000" stroke-width="1" />
<text x="525.08" y="158.5" font-size="9.1" text-anchor="end" fill="#000" transform="rotate(-45 525.08 158.5)">STAD</text>
<line x1="538.31" y1="146.2" x2="538.31" y2="150.6" stroke="#000" stroke-width="1" />
<text x="542.61" y="158.5" font-size="9.1" text-anchor="end" fill="#000" transform="rotate(-45 542.61 158.5)">TGCT</text>
<line x1="555.84" y1="146.2" x2="555.84" y2="150.6" stroke="#000" stroke-width="1" />
<text x="560.14" y="158.5" font-size="9.1" text-anchor="end" fill="#000" transform="rotate(-45 560.14 158.5)">THCA</text>
<line x1="573.37" y1="146.2" x2="573.37" y2="150.6" stroke="#000" stroke-width="1" />
<text x="577.67" y="158.5" font-size="9.1" text-anchor="end" fill="#000" transform="rotate(-45 577.67 158.5)">THYM</text>
<line x1="590.9" y1="146.2" x2="590.9" y2="150.6" stroke="#000" stroke-width="1" />
<text x="595.2" y="158.5" font-size="9.1" text-anchor="end" fill="#000" transform="rotate(-45 595.2 158.5)">UCEC</text>
<line x1="608.43" y1="146.2" x2="608.43" y2="150.6" stroke="#000" stroke-width="1" />
<text x="612.73" y="158.5" font-size="9.1" text-anchor="end" fill="#000" transform="rotate(-45 612.73 158.5)">UCS</text>
<line x1="625.96" y1="146.2" x2="625.96" y2="150.6" stroke="#000" stroke-width="1" />
<text x="630.26" y="158.5" font-size="9.1" text-anchor="end" fill="#000" transform="rotate(-45 630.26 158.5)">UVM</text>
<text x="19.8" y="78.5" font-size="10.6" text-anchor="middle" fill="#000" style="stroke-width:0.1px" transform="rotate(-90 19.8 78.5)">The expression of SPHK1</text>
<text x="29.7" y="78.5" font-size="10.6" text-anchor="middle" fill="#000" style="stroke-width:0.1px" transform="rotate(-90 29.7 78.5)">Log<tspan font-size="7.6" dy="2.4">2</tspan><tspan dy="-2.4"> (TPM+1)</tspan></text>
<text x="0.6" y="12.6" font-size="17.5" text-anchor="start" fill="#000" >A</text>
<line x1="645.3" y1="70" x2="645.3" y2="79.2" stroke="#000" stroke-width="1" />
<rect x="641.9" y="71.6" width="6.9" height="6" fill="#4DBBD5" stroke="#000" stroke-width="1"/>
<line x1="641.9" y1="74.6" x2="648.8" y2="74.6" stroke="#000" stroke-width="1.4" />
<line x1="645.3" y1="81.15" x2="645.3" y2="90.35" stroke="#000" stroke-width="1" />
<rect x="641.9" y="82.75" width="6.9" height="6" fill="#E64B35" stroke="#000" stroke-width="1"/>
<line x1="641.9" y1="85.75" x2="648.8" y2="85.75" stroke="#000" stroke-width="1.4" />
<text x="656" y="77.8" font-size="9.2" text-anchor="start" fill="#000" >Normal</text>
<text x="656" y="88.8" font-size="9.2" text-anchor="start" fill="#000" >Tumor</text>
<line x1="49.4" y1="357.35" x2="636.2" y2="357.35" stroke="#EBEBEB" stroke-width="0.6" />
<line x1="49.4" y1="318.65" x2="636.2" y2="318.65" stroke="#EBEBEB" stroke-width="0.6" />
<line x1="49.4" y1="279.95" x2="636.2" y2="279.95" stroke="#EBEBEB" stroke-width="0.6" />
<line x1="49.4" y1="241.25" x2="636.2" y2="241.25" stroke="#EBEBEB" stroke-width="0.6" />
<line x1="49.4" y1="376.7" x2="636.2" y2="376.7" stroke="#EBEBEB" stroke-width="1.2" />
<line x1="49.4" y1="338" x2="636.2" y2="338" stroke="#EBEBEB" stroke-width="1.2" />
<line x1="49.4" y1="299.3" x2="636.2" y2="299.3" stroke="#EBEBEB" stroke-width="1.2" />
<line x1="49.4" y1="260.6" x2="636.2" y2="260.6" stroke="#EBEBEB" stroke-width="1.2" />
<line x1="49.4" y1="221.9" x2="636.2" y2="221.9" stroke="#EBEBEB" stroke-width="1.2" />
<line x1="51.79" y1="212.8" x2="51.79" y2="377.3" stroke="#EBEBEB" stroke-width="0.6" />
<line x1="77.09" y1="212.8" x2="77.09" y2="377.3" stroke="#EBEBEB" stroke-width="0.6" />
<line x1="102.39" y1="212.8" x2="102.39" y2="377.3" stroke="#EBEBEB" stroke-width="0.6" />
<line x1="127.69" y1="212.8" x2="127.69" y2="377.3" stroke="#EBEBEB" stroke-width="0.6" />
<line x1="152.99" y1="212.8" x2="152.99" y2="377.3" stroke="#EBEBEB" stroke-width="0.6" />
<line x1="178.28" y1="212.8" x2="178.28" y2="377.3" stroke="#EBEBEB" stroke-width="0.6" />
<line x1="203.58" y1="212.8" x2="203.58" y2="377.3" stroke="#EBEBEB" stroke-width="0.6" />
<line x1="228.88" y1="212.8" x2="228.88" y2="377.3" stroke="#EBEBEB" stroke-width="0.6" />
<line x1="254.19" y1="212.8" x2="254.19" y2="377.3" stroke="#EBEBEB" stroke-width="0.6" />
<line x1="279.49" y1="212.8" x2="279.49" y2="377.3" stroke="#EBEBEB" stroke-width="0.6" />
<line x1="304.79" y1="212.8" x2="304.79" y2="377.3" stroke="#EBEBEB" stroke-width="0.6" />
<line x1="330.08" y1="212.8" x2="330.08" y2="377.3" stroke="#EBEBEB" stroke-width="0.6" />
<line x1="355.38" y1="212.8" x2="355.38" y2="377.3" stroke="#EBEBEB" stroke-width="0.6" />
<line x1="380.69" y1="212.8" x2="380.69" y2="377.3" stroke="#EBEBEB" stroke-width="0.6" />
<line x1="405.99" y1="212.8" x2="405.99" y2="377.3" stroke="#EBEBEB" stroke-width="0.6" />
<line x1="431.28" y1="212.8" x2="431.28" y2="377.3" stroke="#EBEBEB" stroke-width="0.6" />
<line x1="456.58" y1="212.8" x2="456.58" y2="377.3" stroke="#EBEBEB" stroke-width="0.6" />
<line x1="481.88" y1="212.8" x2="481.88" y2="377.3" stroke="#EBEBEB" stroke-width="0.6" />
<line x1="507.19" y1="212.8" x2="507.19" y2="377.3" stroke="#EBEBEB" stroke-width="0.6" />
<line x1="532.49" y1="212.8" x2="532.49" y2="377.3" stroke="#EBEBEB" stroke-width="0.6" />
<line x1="557.78" y1="212.8" x2="557.78" y2="377.3" stroke="#EBEBEB" stroke-width="0.6" />
<line x1="583.09" y1="212.8" x2="583.09" y2="377.3" stroke="#EBEBEB" stroke-width="0.6" />
<line x1="608.39" y1="212.8" x2="608.39" y2="377.3" stroke="#EBEBEB" stroke-width="0.6" />
<line x1="633.69" y1="212.8" x2="633.69" y2="377.3" stroke="#EBEBEB" stroke-width="0.6" />
<line x1="64.45" y1="212.8" x2="64.45" y2="377.3" stroke="#EBEBEB" stroke-width="1.2" />
<line x1="89.75" y1="212.8" x2="89.75" y2="377.3" stroke="#EBEBEB" stroke-width="1.2" />
<line x1="115.05" y1="212.8" x2="115.05" y2="377.3" stroke="#EBEBEB" stroke-width="1.2" />
<line x1="140.35" y1="212.8" x2="140.35" y2="377.3" stroke="#EBEBEB" stroke-width="1.2" />
<line x1="165.65" y1="212.8" x2="165.65" y2="377.3" stroke="#EBEBEB" stroke-width="1.2" />
<line x1="190.95" y1="212.8" x2="190.95" y2="377.3" stroke="#EBEBEB" stroke-width="1.2" />
<line x1="216.25" y1="212.8" x2="216.25" y2="377.3" stroke="#EBEBEB" stroke-width="1.2" />
<line x1="241.55" y1="212.8" x2="241.55" y2="377.3" stroke="#EBEBEB" stroke-width="1.2" />
<line x1="266.85" y1="212.8" x2="266.85" y2="377.3" stroke="#EBEBEB" stroke-width="1.2" />
<line x1="292.15" y1="212.8" x2="292.15" y2="377.3" stroke="#EBEBEB" stroke-width="1.2" />
<line x1="317.45" y1="212.8" x2="317.45" y2="377.3" stroke="#EBEBEB" stroke-width="1.2" />
<line x1="342.75" y1="212.8" x2="342.75" y2="377.3" stroke="#EBEBEB" stroke-width="1.2" />
<line x1="368.05" y1="212.8" x2="368.05" y2="377.3" stroke="#EBEBEB" stroke-width="1.2" />
<line x1="393.35" y1="212.8" x2="393.35" y2="377.3" stroke="#EBEBEB" stroke-width="1.2" />
<line x1="418.65" y1="212.8" x2="418.65" y2="377.3" stroke="#EBEBEB" stroke-width="1.2" />
<line x1="443.95" y1="212.8" x2="443.95" y2="377.3" stroke="#EBEBEB" stroke-width="1.2" />
<line x1="469.25" y1="212.8" x2="469.25" y2="377.3" stroke="#EBEBEB" stroke-width="1.2" />
<line x1="494.55" y1="212.8" x2="494.55" y2="377.3" stroke="#EBEBEB" stroke-width="1.2" />
<line x1="519.85" y1="212.8" x2="519.85" y2="377.3" stroke="#EBEBEB" stroke-width="1.2" />
<line x1="545.15" y1="212.8" x2="545.15" y2="377.3" stroke="#EBEBEB" stroke-width="1.2" />
<line x1="570.45" y1="212.8" x2="570.45" y2="377.3" stroke="#EBEBEB" stroke-width="1.2" />
<line x1="595.75" y1="212.8" x2="595.75" y2="377.3" stroke="#EBEBEB" stroke-width="1.2" />
<line x1="621.05" y1="212.8" x2="621.05" y2="377.3" stroke="#EBEBEB" stroke-width="1.2" />
<line x1="59.4" y1="279.5" x2="69.5" y2="318.01" stroke="#111" stroke-width="0.7" stroke-dasharray="2 0.9"/>
<line x1="59.4" y1="285.5" x2="69.5" y2="305.84" stroke="#111" stroke-width="0.7" stroke-dasharray="2 0.9"/>
<line x1="59.4" y1="291" x2="69.5" y2="304.66" stroke="#111" stroke-width="0.7" stroke-dasharray="2 0.9"/>
<line x1="59.4" y1="291.7" x2="69.5" y2="267" stroke="#111" stroke-width="0.7" stroke-dasharray="2 0.9"/>
<line x1="59.4" y1="298.3" x2="69.5" y2="290" stroke="#111" stroke-width="0.7" stroke-dasharray="2 0.9"/>
<line x1="59.4" y1="299.3" x2="69.5" y2="312.81" stroke="#111" stroke-width="0.7" stroke-dasharray="2 0.9"/>
<line x1="59.4" y1="305" x2="69.5" y2="256.4" stroke="#111" stroke-width="0.7" stroke-dasharray="2 0.9"/>
<line x1="59.4" y1="306.6" x2="69.5" y2="313.36" stroke="#111" stroke-width="0.7" stroke-dasharray="2 0.9"/>
<line x1="59.4" y1="318.18" x2="69.5" y2="284" stroke="#111" stroke-width="0.7" stroke-dasharray="2 0.9"/>
<line x1="59.4" y1="319.67" x2="69.5" y2="310.21" stroke="#111" stroke-width="0.7" stroke-dasharray="2 0.9"/>
<line x1="59.4" y1="322.37" x2="69.5" y2="294" stroke="#111" stroke-width="0.7" stroke-dasharray="2 0.9"/>
<line x1="59.4" y1="323.13" x2="69.5" y2="279.5" stroke="#111" stroke-width="0.7" stroke-dasharray="2 0.9"/>
<line x1="59.4" y1="325.76" x2="69.5" y2="307.73" stroke="#111" stroke-width="0.7" stroke-dasharray="2 0.9"/>
<line x1="59.4" y1="327.26" x2="69.5" y2="296.6" stroke="#111" stroke-width="0.7" stroke-dasharray="2 0.9"/>
<line x1="59.4" y1="328.5" x2="69.5" y2="302.07" stroke="#111" stroke-width="0.7" stroke-dasharray="2 0.9"/>
<line x1="59.4" y1="331.11" x2="69.5" y2="287.3" stroke="#111" stroke-width="0.7" stroke-dasharray="2 0.9"/>
<line x1="59.4" y1="344.7" x2="69.5" y2="315.4" stroke="#111" stroke-width="0.7" stroke-dasharray="2 0.9"/>
<line x1="59.4" y1="351.4" x2="69.5" y2="326.4" stroke="#111" stroke-width="0.7" stroke-dasharray="2 0.9"/>
<path d="M59.4 253.7V251.4H69.5V253.7" fill="none" stroke="#000" stroke-width="1.1"/>
<text x="64.45" y="252.4" font-size="8.6" text-anchor="middle" fill="#000" style="stroke-width:0.15px">***</text>
<line x1="84.7" y1="268.66" x2="94.8" y2="286.17" stroke="#111" stroke-width="0.7" stroke-dasharray="2 0.9"/>
<line x1="84.7" y1="269.1" x2="94.8" y2="270.04" stroke="#111" stroke-width="0.7" stroke-dasharray="2 0.9"/>
<line x1="84.7" y1="269.67" x2="94.8" y2="331.32" stroke="#111" stroke-width="0.7" stroke-dasharray="2 0.9"/>
<line x1="84.7" y1="270.76" x2="94.8" y2="275.18" stroke="#111" stroke-width="0.7" stroke-dasharray="2 0.9"/>
<line x1="84.7" y1="270.81" x2="94.8" y2="313.03" stroke="#111" stroke-width="0.7" stroke-dasharray="2 0.9"/>
<line x1="84.7" y1="272.07" x2="94.8" y2="276.42" stroke="#111" stroke-width="0.7" stroke-dasharray="2 0.9"/>
<line x1="84.7" y1="272.37" x2="94.8" y2="322.59" stroke="#111" stroke-width="0.7" stroke-dasharray="2 0.9"/>
<line x1="84.7" y1="272.96" x2="94.8" y2="310.28" stroke="#111" stroke-width="0.7" stroke-dasharray="2 0.9"/>
<line x1="84.7" y1="273.64" x2="94.8" y2="328.35" stroke="#111" stroke-width="0.7" stroke-dasharray="2 0.9"/>
<line x1="84.7" y1="274.47" x2="94.8" y2="292.1" stroke="#111" stroke-width="0.7" stroke-dasharray="2 0.9"/>
<line x1="84.7" y1="275.51" x2="94.8" y2="284.79" stroke="#111" stroke-width="0.7" stroke-dasharray="2 0.9"/>
<line x1="84.7" y1="275.77" x2="94.8" y2="311.57" stroke="#111" stroke-width="0.7" stroke-dasharray="2 0.9"/>
<line x1="84.7" y1="276.74" x2="94.8" y2="298.94" stroke="#111" stroke-width="0.7" stroke-dasharray="2 0.9"/>
<line x1="84.7" y1="277.48" x2="94.8" y2="284.13" stroke="#111" stroke-width="0.7" stroke-dasharray="2 0.9"/>
<line x1="84.7" y1="277.99" x2="94.8" y2="289.17" stroke="#111" stroke-width="0.7" stroke-dasharray="2 0.9"/>
<line x1="84.7" y1="278.8" x2="94.8" y2="290.83" stroke="#111" stroke-width="0.7" stroke-dasharray="2 0.9"/>
<line x1="84.7" y1="279.16" x2="94.8" y2="321.06" stroke="#111" stroke-width="0.7" stroke-dasharray="2 0.9"/>
<line x1="84.7" y1="279.85" x2="94.8" y2="326.58" stroke="#111" stroke-width="0.7" stroke-dasharray="2 0.9"/>
<line x1="84.7" y1="280.65" x2="94.8" y2="301.88" stroke="#111" stroke-width="0.7" stroke-dasharray="2 0.9"/>
<line x1="84.7" y1="281.67" x2="94.8" y2="318.51" stroke="#111" stroke-width="0.7" stroke-dasharray="2 0.9"/>
<line x1="84.7" y1="282.19" x2="94.8" y2="254.2" stroke="#111" stroke-width="0.7" stroke-dasharray="2 0.9"/>
<line x1="84.7" y1="282.81" x2="94.8" y2="303.43" stroke="#111" stroke-width="0.7" stroke-dasharray="2 0.9"/>
<line x1="84.7" y1="283.69" x2="94.8" y2="301.27" stroke="#111" stroke-width="0.7" stroke-dasharray="2 0.9"/>
<line x1="84.7" y1="284.29" x2="94.8" y2="311.83" stroke="#111" stroke-width="0.7" stroke-dasharray="2 0.9"/>
<line x1="84.7" y1="284.88" x2="94.8" y2="323.97" stroke="#111" stroke-width="0.7" stroke-dasharray="2 0.9"/>
<line x1="84.7" y1="285.92" x2="94.8" y2="271.41" stroke="#111" stroke-width="0.7" stroke-dasharray="2 0.9"/>
<line x1="84.7" y1="286.55" x2="94.8" y2="291.14" stroke="#111" stroke-width="0.7" stroke-dasharray="2 0.9"/>
<line x1="84.7" y1="286.93" x2="94.8" y2="306.66" stroke="#111" stroke-width="0.7" stroke-dasharray="2 0.9"/>
<line x1="84.7" y1="287.85" x2="94.8" y2="280.96" stroke="#111" stroke-width="0.7" stroke-dasharray="2 0.9"/>
<line x1="84.7" y1="288.51" x2="94.8" y2="232.7" stroke="#111" stroke-width="0.7" stroke-dasharray="2 0.9"/>
<line x1="84.7" y1="289.45" x2="94.8" y2="283.75" stroke="#111" stroke-width="0.7" stroke-dasharray="2 0.9"/>
<line x1="84.7" y1="290.04" x2="94.8" y2="328.06" stroke="#111" stroke-width="0.7" stroke-dasharray="2 0.9"/>
<line x1="84.7" y1="290.43" x2="94.8" y2="323.63" stroke="#111" stroke-width="0.7" stroke-dasharray="2 0.9"/>
<line x1="84.7" y1="291.61" x2="94.8" y2="277.6" stroke="#111" stroke-width="0.7" stroke-dasharray="2 0.9"/>
<line x1="84.7" y1="291.7" x2="94.8" y2="287.38" stroke="#111" stroke-width="0.7" stroke-dasharray="2 0.9"/>
<line x1="84.7" y1="292.61" x2="94.8" y2="320.5" stroke="#111" stroke-width="0.7" stroke-dasharray="2 0.9"/>
<line x1="84.7" y1="293.54" x2="94.8" y2="287.93" stroke="#111" stroke-width="0.7" stroke-dasharray="2 0.9"/>
<line x1="84.7" y1="293.81" x2="94.8" y2="304.79" stroke="#111" stroke-width="0.7" stroke-dasharray="2 0.9"/>
<line x1="84.7" y1="294.74" x2="94.8" y2="309.01" stroke="#111" stroke-width="0.7" stroke-dasharray="2 0.9"/>
<line x1="84.7" y1="295.12" x2="94.8" y2="282.8" stroke="#111" stroke-width="0.7" stroke-dasharray="2 0.9"/>
<line x1="84.7" y1="296.25" x2="94.8" y2="308.2" stroke="#111" stroke-width="0.7" stroke-dasharray="2 0.9"/>
<line x1="84.7" y1="297.02" x2="94.8" y2="287.17" stroke="#111" stroke-width="0.7" stroke-dasharray="2 0.9"/>
<line x1="84.7" y1="297.58" x2="94.8" y2="329.62" stroke="#111" stroke-width="0.7" stroke-dasharray="2 0.9"/>
<line x1="84.7" y1="298.48" x2="94.8" y2="333.78" stroke="#111" stroke-width="0.7" stroke-dasharray="2 0.9"/>
<line x1="84.7" y1="298.79" x2="94.8" y2="272.02" stroke="#111" stroke-width="0.7" stroke-dasharray="2 0.9"/>
<line x1="84.7" y1="299.75" x2="94.8" y2="282.06" stroke="#111" stroke-width="0.7" stroke-dasharray="2 0.9"/>
<line x1="84.7" y1="300.37" x2="94.8" y2="298.37" stroke="#111" stroke-width="0.7" stroke-dasharray="2 0.9"/>
<line x1="84.7" y1="301.06" x2="94.8" y2="324.91" stroke="#111" stroke-width="0.7" stroke-dasharray="2 0.9"/>
<line x1="84.7" y1="301.66" x2="94.8" y2="295.19" stroke="#111" stroke-width="0.7" stroke-dasharray="2 0.9"/>
<line x1="84.7" y1="302.63" x2="94.8" y2="317.03" stroke="#111" stroke-width="0.7" stroke-dasharray="2 0.9"/>
<line x1="84.7" y1="303.39" x2="94.8" y2="295.71" stroke="#111" stroke-width="0.7" stroke-dasharray="2 0.9"/>
<line x1="84.7" y1="303.76" x2="94.8" y2="289.93" stroke="#111" stroke-width="0.7" stroke-dasharray="2 0.9"/>
<line x1="84.7" y1="304.59" x2="94.8" y2="279.82" stroke="#111" stroke-width="0.7" stroke-dasharray="2 0.9"/>
<line x1="84.7" y1="304.86" x2="94.8" y2="330.74" stroke="#111" stroke-width="0.7" stroke-dasharray="2 0.9"/>
<line x1="84.7" y1="306" x2="94.8" y2="302.52" stroke="#111" stroke-width="0.7" stroke-dasharray="2 0.9"/>
<line x1="84.7" y1="306.66" x2="94.8" y2="299.96" stroke="#111" stroke-width="0.7" stroke-dasharray="2 0.9"/>
<line x1="84.7" y1="307.6" x2="94.8" y2="298.02" stroke="#111" stroke-width="0.7" stroke-dasharray="2 0.9"/>
<line x1="84.7" y1="308.17" x2="94.8" y2="307.29" stroke="#111" stroke-width="0.7" stroke-dasharray="2 0.9"/>
<line x1="84.7" y1="308.49" x2="94.8" y2="361.7" stroke="#111" stroke-width="0.7" stroke-dasharray="2 0.9"/>
<line x1="84.7" y1="309.26" x2="94.8" y2="273.84" stroke="#111" stroke-width="0.7" stroke-dasharray="2 0.9"/>
<line x1="84.7" y1="310.15" x2="94.8" y2="270.68" stroke="#111" stroke-width="0.7" stroke-dasharray="2 0.9"/>
<line x1="84.7" y1="310.39" x2="94.8" y2="318.69" stroke="#111" stroke-width="0.7" stroke-dasharray="2 0.9"/>
<line x1="84.7" y1="311.39" x2="94.8" y2="300.71" stroke="#111" stroke-width="0.7" stroke-dasharray="2 0.9"/>
<line x1="84.7" y1="311.89" x2="94.8" y2="272.78" stroke="#111" stroke-width="0.7" stroke-dasharray="2 0.9"/>
<line x1="84.7" y1="312.54" x2="94.8" y2="278.07" stroke="#111" stroke-width="0.7" stroke-dasharray="2 0.9"/>
<line x1="84.7" y1="313.2" x2="94.8" y2="327.57" stroke="#111" stroke-width="0.7" stroke-dasharray="2 0.9"/>
<line x1="84.7" y1="314.39" x2="94.8" y2="322.15" stroke="#111" stroke-width="0.7" stroke-dasharray="2 0.9"/>
<line x1="84.7" y1="314.64" x2="94.8" y2="316.62" stroke="#111" stroke-width="0.7" stroke-dasharray="2 0.9"/>
<line x1="84.7" y1="315.41" x2="94.8" y2="274.58" stroke="#111" stroke-width="0.7" stroke-dasharray="2 0.9"/>
<line x1="84.7" y1="316.21" x2="94.8" y2="293.03" stroke="#111" stroke-width="0.7" stroke-dasharray="2 0.9"/>
<line x1="84.7" y1="317.24" x2="94.8" y2="332.61" stroke="#111" stroke-width="0.7" stroke-dasharray="2 0.9"/>
<line x1="84.7" y1="317.38" x2="94.8" y2="305.22" stroke="#111" stroke-width="0.7" stroke-dasharray="2 0.9"/>
<line x1="84.7" y1="318.33" x2="94.8" y2="275.99" stroke="#111" stroke-width="0.7" stroke-dasharray="2 0.9"/>
<line x1="84.7" y1="319.1" x2="94.8" y2="303.11" stroke="#111" stroke-width="0.7" stroke-dasharray="2 0.9"/>
<line x1="84.7" y1="320.02" x2="94.8" y2="310.95" stroke="#111" stroke-width="0.7" stroke-dasharray="2 0.9"/>
<line x1="84.7" y1="320.67" x2="94.8" y2="309.33" stroke="#111" stroke-width="0.7" stroke-dasharray="2 0.9"/>
<line x1="84.7" y1="321.4" x2="94.8" y2="289.54" stroke="#111" stroke-width="0.7" stroke-dasharray="2 0.9"/>
<line x1="84.7" y1="321.69" x2="94.8" y2="296.73" stroke="#111" stroke-width="0.7" stroke-dasharray="2 0.9"/>
<line x1="84.7" y1="322.48" x2="94.8" y2="321.68" stroke="#111" stroke-width="0.7" stroke-dasharray="2 0.9"/>
<line x1="84.7" y1="323.13" x2="94.8" y2="283.1" stroke="#111" stroke-width="0.7" stroke-dasharray="2 0.9"/>
<line x1="84.7" y1="324.19" x2="94.8" y2="280.47" stroke="#111" stroke-width="0.7" stroke-dasharray="2 0.9"/>
<line x1="84.7" y1="324.94" x2="94.8" y2="319.7" stroke="#111" stroke-width="0.7" stroke-dasharray="2 0.9"/>
<line x1="84.7" y1="325.07" x2="94.8" y2="325.66" stroke="#111" stroke-width="0.7" stroke-dasharray="2 0.9"/>
<line x1="84.7" y1="325.79" x2="94.8" y2="335.93" stroke="#111" stroke-width="0.7" stroke-dasharray="2 0.9"/>
<line x1="84.7" y1="326.52" x2="94.8" y2="279.12" stroke="#111" stroke-width="0.7" stroke-dasharray="2 0.9"/>
<line x1="84.7" y1="327.21" x2="94.8" y2="331.53" stroke="#111" stroke-width="0.7" stroke-dasharray="2 0.9"/>
<line x1="84.7" y1="328.08" x2="94.8" y2="304.25" stroke="#111" stroke-width="0.7" stroke-dasharray="2 0.9"/>
<line x1="84.7" y1="328.85" x2="94.8" y2="316.02" stroke="#111" stroke-width="0.7" stroke-dasharray="2 0.9"/>
<line x1="84.7" y1="329.32" x2="94.8" y2="355" stroke="#111" stroke-width="0.7" stroke-dasharray="2 0.9"/>
<line x1="84.7" y1="329.83" x2="94.8" y2="312.38" stroke="#111" stroke-width="0.7" stroke-dasharray="2 0.9"/>
<line x1="84.7" y1="330.82" x2="94.8" y2="328.96" stroke="#111" stroke-width="0.7" stroke-dasharray="2 0.9"/>
<line x1="84.7" y1="331.48" x2="94.8" y2="294.49" stroke="#111" stroke-width="0.7" stroke-dasharray="2 0.9"/>
<line x1="84.7" y1="332.31" x2="94.8" y2="333.35" stroke="#111" stroke-width="0.7" stroke-dasharray="2 0.9"/>
<line x1="84.7" y1="333.27" x2="94.8" y2="342.52" stroke="#111" stroke-width="0.7" stroke-dasharray="2 0.9"/>
<line x1="84.7" y1="333.78" x2="94.8" y2="325.93" stroke="#111" stroke-width="0.7" stroke-dasharray="2 0.9"/>
<line x1="84.7" y1="335.1" x2="94.8" y2="262.3" stroke="#111" stroke-width="0.7" stroke-dasharray="2 0.9"/>
<line x1="84.7" y1="337.44" x2="94.8" y2="278.42" stroke="#111" stroke-width="0.7" stroke-dasharray="2 0.9"/>
<line x1="84.7" y1="339.69" x2="94.8" y2="315.2" stroke="#111" stroke-width="0.7" stroke-dasharray="2 0.9"/>
<line x1="84.7" y1="340.49" x2="94.8" y2="313.65" stroke="#111" stroke-width="0.7" stroke-dasharray="2 0.9"/>
<line x1="84.7" y1="344.41" x2="94.8" y2="294.13" stroke="#111" stroke-width="0.7" stroke-dasharray="2 0.9"/>
<line x1="84.7" y1="346.28" x2="94.8" y2="305.86" stroke="#111" stroke-width="0.7" stroke-dasharray="2 0.9"/>
<line x1="84.7" y1="348.61" x2="94.8" y2="297.22" stroke="#111" stroke-width="0.7" stroke-dasharray="2 0.9"/>
<line x1="84.7" y1="350.57" x2="94.8" y2="273.23" stroke="#111" stroke-width="0.7" stroke-dasharray="2 0.9"/>
<line x1="84.7" y1="351.83" x2="94.8" y2="340.8" stroke="#111" stroke-width="0.7" stroke-dasharray="2 0.9"/>
<line x1="84.7" y1="353.97" x2="94.8" y2="293.59" stroke="#111" stroke-width="0.7" stroke-dasharray="2 0.9"/>
<line x1="84.7" y1="355.47" x2="94.8" y2="314.29" stroke="#111" stroke-width="0.7" stroke-dasharray="2 0.9"/>
<line x1="84.7" y1="358.72" x2="94.8" y2="285.58" stroke="#111" stroke-width="0.7" stroke-dasharray="2 0.9"/>
<line x1="84.7" y1="359.5" x2="94.8" y2="317.78" stroke="#111" stroke-width="0.7" stroke-dasharray="2 0.9"/>
<path d="M84.7 231.1V228.8H94.8V231.1" fill="none" stroke="#000" stroke-width="1.1"/>
<text x="89.75" y="227" font-size="8.9" text-anchor="middle" fill="#000" >ns</text>
<line x1="110" y1="325.8" x2="120.1" y2="263" stroke="#111" stroke-width="0.7" stroke-dasharray="2 0.9"/>
<line x1="110" y1="299.3" x2="120.1" y2="288" stroke="#111" stroke-width="0.7" stroke-dasharray="2 0.9"/>
<line x1="110" y1="288.4" x2="120.1" y2="277.3" stroke="#111" stroke-width="0.7" stroke-dasharray="2 0.9"/>
<path d="M110 260.7V258.4H120.1V260.7" fill="none" stroke="#000" stroke-width="1.1"/>
<text x="115.05" y="256.6" font-size="8.9" text-anchor="middle" fill="#000" >ns</text>
<line x1="135.3" y1="340.3" x2="145.4" y2="227.7" stroke="#111" stroke-width="0.7" stroke-dasharray="2 0.9"/>
<line x1="135.3" y1="348.5" x2="145.4" y2="237" stroke="#111" stroke-width="0.7" stroke-dasharray="2 0.9"/>
<line x1="135.3" y1="360" x2="145.4" y2="254.8" stroke="#111" stroke-width="0.7" stroke-dasharray="2 0.9"/>
<line x1="135.3" y1="361.5" x2="145.4" y2="261.4" stroke="#111" stroke-width="0.7" stroke-dasharray="2 0.9"/>
<line x1="135.3" y1="363" x2="145.4" y2="286.2" stroke="#111" stroke-width="0.7" stroke-dasharray="2 0.9"/>
<line x1="135.3" y1="364" x2="145.4" y2="320.9" stroke="#111" stroke-width="0.7" stroke-dasharray="2 0.9"/>
<line x1="135.3" y1="365" x2="145.4" y2="326.4" stroke="#111" stroke-width="0.7" stroke-dasharray="2 0.9"/>
<line x1="135.3" y1="366.5" x2="145.4" y2="330.8" stroke="#111" stroke-width="0.7" stroke-dasharray="2 0.9"/>
<line x1="135.3" y1="367.5" x2="145.4" y2="262.5" stroke="#111" stroke-width="0.7" stroke-dasharray="2 0.9"/>
<path d="M135.3 225.4V223.1H145.4V225.4" fill="none" stroke="#000" stroke-width="1.1"/>
<text x="140.35" y="224.1" font-size="8.6" text-anchor="middle" fill="#000" style="stroke-width:0.15px">**</text>
<line x1="160.6" y1="322.7" x2="170.7" y2="294.09" stroke="#111" stroke-width="0.7" stroke-dasharray="2 0.9"/>
<line x1="160.6" y1="329.78" x2="170.7" y2="324.34" stroke="#111" stroke-width="0.7" stroke-dasharray="2 0.9"/>
<line x1="160.6" y1="330.29" x2="170.7" y2="298.53" stroke="#111" stroke-width="0.7" stroke-dasharray="2 0.9"/>
<line x1="160.6" y1="331.42" x2="170.7" y2="313.65" stroke="#111" stroke-width="0.7" stroke-dasharray="2 0.9"/>
<line x1="160.6" y1="331.82" x2="170.7" y2="255.9" stroke="#111" stroke-width="0.7" stroke-dasharray="2 0.9"/>
<line x1="160.6" y1="332.33" x2="170.7" y2="314.77" stroke="#111" stroke-width="0.7" stroke-dasharray="2 0.9"/>
<line x1="160.6" y1="333.14" x2="170.7" y2="325.8" stroke="#111" stroke-width="0.7" stroke-dasharray="2 0.9"/>
<line x1="160.6" y1="333.43" x2="170.7" y2="337.35" stroke="#111" stroke-width="0.7" stroke-dasharray="2 0.9"/>
<line x1="160.6" y1="334.27" x2="170.7" y2="289.32" stroke="#111" stroke-width="0.7" stroke-dasharray="2 0.9"/>
<line x1="160.6" y1="334.82" x2="170.7" y2="330.43" stroke="#111" stroke-width="0.7" stroke-dasharray="2 0.9"/>
<line x1="160.6" y1="335.04" x2="170.7" y2="300.24" stroke="#111" stroke-width="0.7" stroke-dasharray="2 0.9"/>
<line x1="160.6" y1="335.65" x2="170.7" y2="320.51" stroke="#111" stroke-width="0.7" stroke-dasharray="2 0.9"/>
<line x1="160.6" y1="336.25" x2="170.7" y2="304.09" stroke="#111" stroke-width="0.7" stroke-dasharray="2 0.9"/>
<line x1="160.6" y1="336.8" x2="170.7" y2="322.56" stroke="#111" stroke-width="0.7" stroke-dasharray="2 0.9"/>
<line x1="160.6" y1="337.58" x2="170.7" y2="318.11" stroke="#111" stroke-width="0.7" stroke-dasharray="2 0.9"/>
<line x1="160.6" y1="337.97" x2="170.7" y2="302.76" stroke="#111" stroke-width="0.7" stroke-dasharray="2 0.9"/>
<line x1="160.6" y1="338.64" x2="170.7" y2="287.16" stroke="#111" stroke-width="0.7" stroke-dasharray="2 0.9"/>
<line x1="160.6" y1="339.06" x2="170.7" y2="291.87" stroke="#111" stroke-width="0.7" stroke-dasharray="2 0.9"/>
<line x1="160.6" y1="340.09" x2="170.7" y2="259" stroke="#111" stroke-width="0.7" stroke-dasharray="2 0.9"/>
<line x1="160.6" y1="340.35" x2="170.7" y2="341.9" stroke="#111" stroke-width="0.7" stroke-dasharray="2 0.9"/>
<line x1="160.6" y1="340.99" x2="170.7" y2="260" stroke="#111" stroke-width="0.7" stroke-dasharray="2 0.9"/>
<line x1="160.6" y1="341.64" x2="170.7" y2="323.89" stroke="#111" stroke-width="0.7" stroke-dasharray="2 0.9"/>
<line x1="160.6" y1="342.4" x2="170.7" y2="316.52" stroke="#111" stroke-width="0.7" stroke-dasharray="2 0.9"/>
<line x1="160.6" y1="342.7" x2="170.7" y2="301.03" stroke="#111" stroke-width="0.7" stroke-dasharray="2 0.9"/>
<line x1="160.6" y1="343.57" x2="170.7" y2="290.34" stroke="#111" stroke-width="0.7" stroke-dasharray="2 0.9"/>
<line x1="160.6" y1="343.91" x2="170.7" y2="305.58" stroke="#111" stroke-width="0.7" stroke-dasharray="2 0.9"/>
<line x1="160.6" y1="344.51" x2="170.7" y2="310.07" stroke="#111" stroke-width="0.7" stroke-dasharray="2 0.9"/>
<line x1="160.6" y1="345.08" x2="170.7" y2="318.58" stroke="#111" stroke-width="0.7" stroke-dasharray="2 0.9"/>
<line x1="160.6" y1="345.37" x2="170.7" y2="296.75" stroke="#111" stroke-width="0.7" stroke-dasharray="2 0.9"/>
<line x1="160.6" y1="346.2" x2="170.7" y2="328.7" stroke="#111" stroke-width="0.7" stroke-dasharray="2 0.9"/>
<line x1="160.6" y1="346.63" x2="170.7" y2="257.5" stroke="#111" stroke-width="0.7" stroke-dasharray="2 0.9"/>
<line x1="160.6" y1="347.1" x2="170.7" y2="311.47" stroke="#111" stroke-width="0.7" stroke-dasharray="2 0.9"/>
<line x1="160.6" y1="348.14" x2="170.7" y2="331.67" stroke="#111" stroke-width="0.7" stroke-dasharray="2 0.9"/>
<line x1="160.6" y1="348.36" x2="170.7" y2="277.3" stroke="#111" stroke-width="0.7" stroke-dasharray="2 0.9"/>
<line x1="160.6" y1="349.11" x2="170.7" y2="327.76" stroke="#111" stroke-width="0.7" stroke-dasharray="2 0.9"/>
<line x1="160.6" y1="349.84" x2="170.7" y2="307.34" stroke="#111" stroke-width="0.7" stroke-dasharray="2 0.9"/>
<line x1="160.6" y1="350.32" x2="170.7" y2="308.47" stroke="#111" stroke-width="0.7" stroke-dasharray="2 0.9"/>
<line x1="160.6" y1="350.77" x2="170.7" y2="335.69" stroke="#111" stroke-width="0.7" stroke-dasharray="2 0.9"/>
<line x1="160.6" y1="351.46" x2="170.7" y2="295.18" stroke="#111" stroke-width="0.7" stroke-dasharray="2 0.9"/>
<line x1="160.6" y1="352.06" x2="170.7" y2="334.04" stroke="#111" stroke-width="0.7" stroke-dasharray="2 0.9"/>
<line x1="160.6" y1="352.77" x2="170.7" y2="282.8" stroke="#111" stroke-width="0.7" stroke-dasharray="2 0.9"/>
<path d="M160.6 253.7V251.4H170.7V253.7" fill="none" stroke="#000" stroke-width="1.1"/>
<text x="165.65" y="252.4" font-size="8.6" text-anchor="middle" fill="#000" style="stroke-width:0.15px">***</text>
<line x1="185.9" y1="251.3" x2="196" y2="241.3" stroke="#111" stroke-width="0.7" stroke-dasharray="2 0.9"/>
<line x1="185.9" y1="288.4" x2="196" y2="265.2" stroke="#111" stroke-width="0.7" stroke-dasharray="2 0.9"/>
<line x1="185.9" y1="319.8" x2="196" y2="340.8" stroke="#111" stroke-width="0.7" stroke-dasharray="2 0.9"/>
<line x1="185.9" y1="324.2" x2="196" y2="290" stroke="#111" stroke-width="0.7" stroke-dasharray="2 0.9"/>
<line x1="185.9" y1="337.5" x2="196" y2="302.1" stroke="#111" stroke-width="0.7" stroke-dasharray="2 0.9"/>
<line x1="185.9" y1="343" x2="196" y2="319.8" stroke="#111" stroke-width="0.7" stroke-dasharray="2 0.9"/>
<line x1="185.9" y1="357" x2="196" y2="329.7" stroke="#111" stroke-width="0.7" stroke-dasharray="2 0.9"/>
<line x1="185.9" y1="361.7" x2="196" y2="325.3" stroke="#111" stroke-width="0.7" stroke-dasharray="2 0.9"/>
<path d="M185.9 239.3V237H196V239.3" fill="none" stroke="#000" stroke-width="1.1"/>
<text x="190.95" y="235.2" font-size="8.9" text-anchor="middle" fill="#000" >ns</text>
<line x1="211.2" y1="246.9" x2="221.3" y2="233.2" stroke="#111" stroke-width="0.7" stroke-dasharray="2 0.9"/>
<line x1="211.2" y1="263" x2="221.3" y2="275.02" stroke="#111" stroke-width="0.7" stroke-dasharray="2 0.9"/>
<line x1="211.2" y1="267" x2="221.3" y2="248.61" stroke="#111" stroke-width="0.7" stroke-dasharray="2 0.9"/>
<line x1="211.2" y1="271" x2="221.3" y2="242.1" stroke="#111" stroke-width="0.7" stroke-dasharray="2 0.9"/>
<line x1="211.2" y1="276" x2="221.3" y2="252.19" stroke="#111" stroke-width="0.7" stroke-dasharray="2 0.9"/>
<line x1="211.2" y1="282.95" x2="221.3" y2="256.37" stroke="#111" stroke-width="0.7" stroke-dasharray="2 0.9"/>
<line x1="211.2" y1="284.47" x2="221.3" y2="265.67" stroke="#111" stroke-width="0.7" stroke-dasharray="2 0.9"/>
<line x1="211.2" y1="285.39" x2="221.3" y2="258.29" stroke="#111" stroke-width="0.7" stroke-dasharray="2 0.9"/>
<line x1="211.2" y1="285.86" x2="221.3" y2="243.07" stroke="#111" stroke-width="0.7" stroke-dasharray="2 0.9"/>
<line x1="211.2" y1="287.55" x2="221.3" y2="240.63" stroke="#111" stroke-width="0.7" stroke-dasharray="2 0.9"/>
<line x1="211.2" y1="288.61" x2="221.3" y2="263.32" stroke="#111" stroke-width="0.7" stroke-dasharray="2 0.9"/>
<line x1="211.2" y1="288.85" x2="221.3" y2="284.89" stroke="#111" stroke-width="0.7" stroke-dasharray="2 0.9"/>
<line x1="211.2" y1="290.54" x2="221.3" y2="266.55" stroke="#111" stroke-width="0.7" stroke-dasharray="2 0.9"/>
<line x1="211.2" y1="290.97" x2="221.3" y2="278.71" stroke="#111" stroke-width="0.7" stroke-dasharray="2 0.9"/>
<line x1="211.2" y1="292.03" x2="221.3" y2="283.56" stroke="#111" stroke-width="0.7" stroke-dasharray="2 0.9"/>
<line x1="211.2" y1="293.5" x2="221.3" y2="282.46" stroke="#111" stroke-width="0.7" stroke-dasharray="2 0.9"/>
<line x1="211.2" y1="294.32" x2="221.3" y2="245.89" stroke="#111" stroke-width="0.7" stroke-dasharray="2 0.9"/>
<line x1="211.2" y1="294.64" x2="221.3" y2="246.98" stroke="#111" stroke-width="0.7" stroke-dasharray="2 0.9"/>
<line x1="211.2" y1="295.87" x2="221.3" y2="251.63" stroke="#111" stroke-width="0.7" stroke-dasharray="2 0.9"/>
<line x1="211.2" y1="296.93" x2="221.3" y2="286.01" stroke="#111" stroke-width="0.7" stroke-dasharray="2 0.9"/>
<line x1="211.2" y1="297.73" x2="221.3" y2="270.88" stroke="#111" stroke-width="0.7" stroke-dasharray="2 0.9"/>
<line x1="211.2" y1="298.56" x2="221.3" y2="262.5" stroke="#111" stroke-width="0.7" stroke-dasharray="2 0.9"/>
<line x1="211.2" y1="299.66" x2="221.3" y2="253.31" stroke="#111" stroke-width="0.7" stroke-dasharray="2 0.9"/>
<line x1="211.2" y1="301.02" x2="221.3" y2="279.8" stroke="#111" stroke-width="0.7" stroke-dasharray="2 0.9"/>
<line x1="211.2" y1="301.31" x2="221.3" y2="276.55" stroke="#111" stroke-width="0.7" stroke-dasharray="2 0.9"/>
<line x1="211.2" y1="302.81" x2="221.3" y2="245.27" stroke="#111" stroke-width="0.7" stroke-dasharray="2 0.9"/>
<line x1="211.2" y1="303.67" x2="221.3" y2="273.15" stroke="#111" stroke-width="0.7" stroke-dasharray="2 0.9"/>
<line x1="211.2" y1="304.23" x2="221.3" y2="270.62" stroke="#111" stroke-width="0.7" stroke-dasharray="2 0.9"/>
<line x1="211.2" y1="305.51" x2="221.3" y2="281.57" stroke="#111" stroke-width="0.7" stroke-dasharray="2 0.9"/>
<line x1="211.2" y1="306.77" x2="221.3" y2="257.8" stroke="#111" stroke-width="0.7" stroke-dasharray="2 0.9"/>
<line x1="211.2" y1="307.63" x2="221.3" y2="278.28" stroke="#111" stroke-width="0.7" stroke-dasharray="2 0.9"/>
<line x1="211.2" y1="308.17" x2="221.3" y2="268.38" stroke="#111" stroke-width="0.7" stroke-dasharray="2 0.9"/>
<line x1="211.2" y1="310.04" x2="221.3" y2="287.47" stroke="#111" stroke-width="0.7" stroke-dasharray="2 0.9"/>
<line x1="211.2" y1="310.82" x2="221.3" y2="261.57" stroke="#111" stroke-width="0.7" stroke-dasharray="2 0.9"/>
<line x1="211.2" y1="311.97" x2="221.3" y2="250.49" stroke="#111" stroke-width="0.7" stroke-dasharray="2 0.9"/>
<line x1="211.2" y1="316" x2="221.3" y2="273.9" stroke="#111" stroke-width="0.7" stroke-dasharray="2 0.9"/>
<line x1="211.2" y1="318.5" x2="221.3" y2="259.51" stroke="#111" stroke-width="0.7" stroke-dasharray="2 0.9"/>
<line x1="211.2" y1="321" x2="221.3" y2="268.02" stroke="#111" stroke-width="0.7" stroke-dasharray="2 0.9"/>
<line x1="211.2" y1="327.5" x2="221.3" y2="255.55" stroke="#111" stroke-width="0.7" stroke-dasharray="2 0.9"/>
<line x1="211.2" y1="337.5" x2="221.3" y2="288.87" stroke="#111" stroke-width="0.7" stroke-dasharray="2 0.9"/>
<path d="M211.2 231.1V228.8H221.3V231.1" fill="none" stroke="#000" stroke-width="1.1"/>
<text x="216.25" y="229.8" font-size="8.6" text-anchor="middle" fill="#000" style="stroke-width:0.15px">***</text>
<line x1="236.5" y1="281.7" x2="246.6" y2="361.83" stroke="#111" stroke-width="0.7" stroke-dasharray="2 0.9"/>
<line x1="236.5" y1="290" x2="246.6" y2="240.9" stroke="#111" stroke-width="0.7" stroke-dasharray="2 0.9"/>
<line x1="236.5" y1="301" x2="246.6" y2="337.54" stroke="#111" stroke-width="0.7" stroke-dasharray="2 0.9"/>
<line x1="236.5" y1="303.5" x2="246.6" y2="350.25" stroke="#111" stroke-width="0.7" stroke-dasharray="2 0.9"/>
<line x1="236.5" y1="306.5" x2="246.6" y2="355.73" stroke="#111" stroke-width="0.7" stroke-dasharray="2 0.9"/>
<line x1="236.5" y1="323.1" x2="246.6" y2="366.89" stroke="#111" stroke-width="0.7" stroke-dasharray="2 0.9"/>
<line x1="236.5" y1="332.06" x2="246.6" y2="341.22" stroke="#111" stroke-width="0.7" stroke-dasharray="2 0.9"/>
<line x1="236.5" y1="332.94" x2="246.6" y2="363.36" stroke="#111" stroke-width="0.7" stroke-dasharray="2 0.9"/>
<line x1="236.5" y1="334.94" x2="246.6" y2="335.88" stroke="#111" stroke-width="0.7" stroke-dasharray="2 0.9"/>
<line x1="236.5" y1="336.06" x2="246.6" y2="353.25" stroke="#111" stroke-width="0.7" stroke-dasharray="2 0.9"/>
<line x1="236.5" y1="338" x2="246.6" y2="347.8" stroke="#111" stroke-width="0.7" stroke-dasharray="2 0.9"/>
<line x1="236.5" y1="339.11" x2="246.6" y2="343.97" stroke="#111" stroke-width="0.7" stroke-dasharray="2 0.9"/>
<line x1="236.5" y1="341.15" x2="246.6" y2="339.3" stroke="#111" stroke-width="0.7" stroke-dasharray="2 0.9"/>
<line x1="236.5" y1="342.41" x2="246.6" y2="359.22" stroke="#111" stroke-width="0.7" stroke-dasharray="2 0.9"/>
<line x1="236.5" y1="345.26" x2="246.6" y2="356.5" stroke="#111" stroke-width="0.7" stroke-dasharray="2 0.9"/>
<line x1="236.5" y1="346.61" x2="246.6" y2="364.55" stroke="#111" stroke-width="0.7" stroke-dasharray="2 0.9"/>
<line x1="236.5" y1="347.67" x2="246.6" y2="349.2" stroke="#111" stroke-width="0.7" stroke-dasharray="2 0.9"/>
<line x1="236.5" y1="349.8" x2="246.6" y2="346.65" stroke="#111" stroke-width="0.7" stroke-dasharray="2 0.9"/>
<line x1="236.5" y1="352.21" x2="246.6" y2="368.45" stroke="#111" stroke-width="0.7" stroke-dasharray="2 0.9"/>
<line x1="236.5" y1="352.5" x2="246.6" y2="365.46" stroke="#111" stroke-width="0.7" stroke-dasharray="2 0.9"/>
<line x1="236.5" y1="355.33" x2="246.6" y2="351.85" stroke="#111" stroke-width="0.7" stroke-dasharray="2 0.9"/>
<line x1="236.5" y1="356.35" x2="246.6" y2="345.27" stroke="#111" stroke-width="0.7" stroke-dasharray="2 0.9"/>
<line x1="236.5" y1="358.11" x2="246.6" y2="357.85" stroke="#111" stroke-width="0.7" stroke-dasharray="2 0.9"/>
<line x1="236.5" y1="360.33" x2="246.6" y2="341.76" stroke="#111" stroke-width="0.7" stroke-dasharray="2 0.9"/>
<path d="M236.5 238.7V236.4H246.6V238.7" fill="none" stroke="#000" stroke-width="1.1"/>
<text x="241.55" y="237.4" font-size="8.6" text-anchor="middle" fill="#000" style="stroke-width:0.15px">*</text>
<line x1="261.8" y1="301" x2="271.9" y2="302.94" stroke="#111" stroke-width="0.7" stroke-dasharray="2 0.9"/>
<line x1="261.8" y1="313.2" x2="271.9" y2="331.84" stroke="#111" stroke-width="0.7" stroke-dasharray="2 0.9"/>
<line x1="261.8" y1="319.8" x2="271.9" y2="309.92" stroke="#111" stroke-width="0.7" stroke-dasharray="2 0.9"/>
<line x1="261.8" y1="324.51" x2="271.9" y2="327.56" stroke="#111" stroke-width="0.7" stroke-dasharray="2 0.9"/>
<line x1="261.8" y1="324.98" x2="271.9" y2="308.95" stroke="#111" stroke-width="0.7" stroke-dasharray="2 0.9"/>
<line x1="261.8" y1="325.84" x2="271.9" y2="315.15" stroke="#111" stroke-width="0.7" stroke-dasharray="2 0.9"/>
<line x1="261.8" y1="326.39" x2="271.9" y2="311.02" stroke="#111" stroke-width="0.7" stroke-dasharray="2 0.9"/>
<line x1="261.8" y1="327.54" x2="271.9" y2="348.38" stroke="#111" stroke-width="0.7" stroke-dasharray="2 0.9"/>
<line x1="261.8" y1="328.22" x2="271.9" y2="304.65" stroke="#111" stroke-width="0.7" stroke-dasharray="2 0.9"/>
<line x1="261.8" y1="328.6" x2="271.9" y2="335.01" stroke="#111" stroke-width="0.7" stroke-dasharray="2 0.9"/>
<line x1="261.8" y1="329.07" x2="271.9" y2="326.77" stroke="#111" stroke-width="0.7" stroke-dasharray="2 0.9"/>
<line x1="261.8" y1="330.23" x2="271.9" y2="324.58" stroke="#111" stroke-width="0.7" stroke-dasharray="2 0.9"/>
<line x1="261.8" y1="330.46" x2="271.9" y2="304.25" stroke="#111" stroke-width="0.7" stroke-dasharray="2 0.9"/>
<line x1="261.8" y1="331.16" x2="271.9" y2="326.03" stroke="#111" stroke-width="0.7" stroke-dasharray="2 0.9"/>
<line x1="261.8" y1="331.6" x2="271.9" y2="305.29" stroke="#111" stroke-width="0.7" stroke-dasharray="2 0.9"/>
<line x1="261.8" y1="332.53" x2="271.9" y2="321.91" stroke="#111" stroke-width="0.7" stroke-dasharray="2 0.9"/>
<line x1="261.8" y1="333.26" x2="271.9" y2="353.33" stroke="#111" stroke-width="0.7" stroke-dasharray="2 0.9"/>
<line x1="261.8" y1="333.95" x2="271.9" y2="350.31" stroke="#111" stroke-width="0.7" stroke-dasharray="2 0.9"/>
<line x1="261.8" y1="334.42" x2="271.9" y2="342.19" stroke="#111" stroke-width="0.7" stroke-dasharray="2 0.9"/>
<line x1="261.8" y1="335.3" x2="271.9" y2="355.29" stroke="#111" stroke-width="0.7" stroke-dasharray="2 0.9"/>
<line x1="261.8" y1="335.64" x2="271.9" y2="347.5" stroke="#111" stroke-width="0.7" stroke-dasharray="2 0.9"/>
<line x1="261.8" y1="336.48" x2="271.9" y2="306.23" stroke="#111" stroke-width="0.7" stroke-dasharray="2 0.9"/>
<line x1="261.8" y1="337.04" x2="271.9" y2="311.88" stroke="#111" stroke-width="0.7" stroke-dasharray="2 0.9"/>
<line x1="261.8" y1="337.92" x2="271.9" y2="307.75" stroke="#111" stroke-width="0.7" stroke-dasharray="2 0.9"/>
<line x1="261.8" y1="338.35" x2="271.9" y2="333.04" stroke="#111" stroke-width="0.7" stroke-dasharray="2 0.9"/>
<line x1="261.8" y1="339.01" x2="271.9" y2="362.8" stroke="#111" stroke-width="0.7" stroke-dasharray="2 0.9"/>
<line x1="261.8" y1="339.87" x2="271.9" y2="345.77" stroke="#111" stroke-width="0.7" stroke-dasharray="2 0.9"/>
<line x1="261.8" y1="340.5" x2="271.9" y2="338.12" stroke="#111" stroke-width="0.7" stroke-dasharray="2 0.9"/>
<line x1="261.8" y1="341.41" x2="271.9" y2="316.33" stroke="#111" stroke-width="0.7" stroke-dasharray="2 0.9"/>
<line x1="261.8" y1="342.04" x2="271.9" y2="329.7" stroke="#111" stroke-width="0.7" stroke-dasharray="2 0.9"/>
<line x1="261.8" y1="342.86" x2="271.9" y2="320.96" stroke="#111" stroke-width="0.7" stroke-dasharray="2 0.9"/>
<line x1="261.8" y1="343.47" x2="271.9" y2="351.73" stroke="#111" stroke-width="0.7" stroke-dasharray="2 0.9"/>
<line x1="261.8" y1="344.18" x2="271.9" y2="318.36" stroke="#111" stroke-width="0.7" stroke-dasharray="2 0.9"/>
<line x1="261.8" y1="344.97" x2="271.9" y2="279.5" stroke="#111" stroke-width="0.7" stroke-dasharray="2 0.9"/>
<line x1="261.8" y1="345.31" x2="271.9" y2="352.39" stroke="#111" stroke-width="0.7" stroke-dasharray="2 0.9"/>
<line x1="261.8" y1="345.94" x2="271.9" y2="319.79" stroke="#111" stroke-width="0.7" stroke-dasharray="2 0.9"/>
<line x1="261.8" y1="347.05" x2="271.9" y2="302.62" stroke="#111" stroke-width="0.7" stroke-dasharray="2 0.9"/>
<line x1="261.8" y1="347.16" x2="271.9" y2="323.01" stroke="#111" stroke-width="0.7" stroke-dasharray="2 0.9"/>
<line x1="261.8" y1="348.22" x2="271.9" y2="320.14" stroke="#111" stroke-width="0.7" stroke-dasharray="2 0.9"/>
<line x1="261.8" y1="348.84" x2="271.9" y2="325.07" stroke="#111" stroke-width="0.7" stroke-dasharray="2 0.9"/>
<line x1="261.8" y1="349.11" x2="271.9" y2="336.03" stroke="#111" stroke-width="0.7" stroke-dasharray="2 0.9"/>
<line x1="261.8" y1="350.32" x2="271.9" y2="338.33" stroke="#111" stroke-width="0.7" stroke-dasharray="2 0.9"/>
<line x1="261.8" y1="351.03" x2="271.9" y2="331.91" stroke="#111" stroke-width="0.7" stroke-dasharray="2 0.9"/>
<line x1="261.8" y1="351.52" x2="271.9" y2="310.33" stroke="#111" stroke-width="0.7" stroke-dasharray="2 0.9"/>
<line x1="261.8" y1="352.26" x2="271.9" y2="329.46" stroke="#111" stroke-width="0.7" stroke-dasharray="2 0.9"/>
<line x1="261.8" y1="352.99" x2="271.9" y2="335.38" stroke="#111" stroke-width="0.7" stroke-dasharray="2 0.9"/>
<line x1="261.8" y1="353.21" x2="271.9" y2="354.1" stroke="#111" stroke-width="0.7" stroke-dasharray="2 0.9"/>
<line x1="261.8" y1="354.14" x2="271.9" y2="342.05" stroke="#111" stroke-width="0.7" stroke-dasharray="2 0.9"/>
<line x1="261.8" y1="354.8" x2="271.9" y2="345.13" stroke="#111" stroke-width="0.7" stroke-dasharray="2 0.9"/>
<line x1="261.8" y1="355.69" x2="271.9" y2="371.2" stroke="#111" stroke-width="0.7" stroke-dasharray="2 0.9"/>
<line x1="261.8" y1="356.35" x2="271.9" y2="347.96" stroke="#111" stroke-width="0.7" stroke-dasharray="2 0.9"/>
<line x1="261.8" y1="357.03" x2="271.9" y2="339.85" stroke="#111" stroke-width="0.7" stroke-dasharray="2 0.9"/>
<line x1="261.8" y1="357.54" x2="271.9" y2="339.41" stroke="#111" stroke-width="0.7" stroke-dasharray="2 0.9"/>
<line x1="261.8" y1="358.42" x2="271.9" y2="307.38" stroke="#111" stroke-width="0.7" stroke-dasharray="2 0.9"/>
<line x1="261.8" y1="358.95" x2="271.9" y2="351.07" stroke="#111" stroke-width="0.7" stroke-dasharray="2 0.9"/>
<line x1="261.8" y1="359.63" x2="271.9" y2="340.93" stroke="#111" stroke-width="0.7" stroke-dasharray="2 0.9"/>
<line x1="261.8" y1="360" x2="271.9" y2="334.11" stroke="#111" stroke-width="0.7" stroke-dasharray="2 0.9"/>
<line x1="261.8" y1="360.53" x2="271.9" y2="323.81" stroke="#111" stroke-width="0.7" stroke-dasharray="2 0.9"/>
<line x1="261.8" y1="361.28" x2="271.9" y2="317.2" stroke="#111" stroke-width="0.7" stroke-dasharray="2 0.9"/>
<line x1="261.8" y1="362.1" x2="271.9" y2="318.8" stroke="#111" stroke-width="0.7" stroke-dasharray="2 0.9"/>
<line x1="261.8" y1="362.6" x2="271.9" y2="312.83" stroke="#111" stroke-width="0.7" stroke-dasharray="2 0.9"/>
<line x1="261.8" y1="363.76" x2="271.9" y2="331.09" stroke="#111" stroke-width="0.7" stroke-dasharray="2 0.9"/>
<line x1="261.8" y1="364.25" x2="271.9" y2="313.68" stroke="#111" stroke-width="0.7" stroke-dasharray="2 0.9"/>
<line x1="261.8" y1="364.97" x2="271.9" y2="314.34" stroke="#111" stroke-width="0.7" stroke-dasharray="2 0.9"/>
<line x1="261.8" y1="365.64" x2="271.9" y2="346.19" stroke="#111" stroke-width="0.7" stroke-dasharray="2 0.9"/>
<line x1="261.8" y1="366.35" x2="271.9" y2="355.42" stroke="#111" stroke-width="0.7" stroke-dasharray="2 0.9"/>
<line x1="261.8" y1="366.89" x2="271.9" y2="315.49" stroke="#111" stroke-width="0.7" stroke-dasharray="2 0.9"/>
<line x1="261.8" y1="367.24" x2="271.9" y2="343.51" stroke="#111" stroke-width="0.7" stroke-dasharray="2 0.9"/>
<line x1="261.8" y1="368.45" x2="271.9" y2="336.76" stroke="#111" stroke-width="0.7" stroke-dasharray="2 0.9"/>
<line x1="261.8" y1="369.09" x2="271.9" y2="349.15" stroke="#111" stroke-width="0.7" stroke-dasharray="2 0.9"/>
<line x1="261.8" y1="369.59" x2="271.9" y2="328.07" stroke="#111" stroke-width="0.7" stroke-dasharray="2 0.9"/>
<line x1="261.8" y1="370.29" x2="271.9" y2="344.05" stroke="#111" stroke-width="0.7" stroke-dasharray="2 0.9"/>
<path d="M261.8 276.8V274.5H271.9V276.8" fill="none" stroke="#000" stroke-width="1.1"/>
<text x="266.85" y="275.5" font-size="8.6" text-anchor="middle" fill="#000" style="stroke-width:0.15px">***</text>
<line x1="287.1" y1="302.1" x2="297.2" y2="320.01" stroke="#111" stroke-width="0.7" stroke-dasharray="2 0.9"/>
<line x1="287.1" y1="309.9" x2="297.2" y2="343.6" stroke="#111" stroke-width="0.7" stroke-dasharray="2 0.9"/>
<line x1="287.1" y1="317.6" x2="297.2" y2="290.68" stroke="#111" stroke-width="0.7" stroke-dasharray="2 0.9"/>
<line x1="287.1" y1="327.37" x2="297.2" y2="310.53" stroke="#111" stroke-width="0.7" stroke-dasharray="2 0.9"/>
<line x1="287.1" y1="328.78" x2="297.2" y2="310.12" stroke="#111" stroke-width="0.7" stroke-dasharray="2 0.9"/>
<line x1="287.1" y1="329.15" x2="297.2" y2="331.63" stroke="#111" stroke-width="0.7" stroke-dasharray="2 0.9"/>
<line x1="287.1" y1="331.49" x2="297.2" y2="317.05" stroke="#111" stroke-width="0.7" stroke-dasharray="2 0.9"/>
<line x1="287.1" y1="332.51" x2="297.2" y2="333.22" stroke="#111" stroke-width="0.7" stroke-dasharray="2 0.9"/>
<line x1="287.1" y1="334.05" x2="297.2" y2="313.3" stroke="#111" stroke-width="0.7" stroke-dasharray="2 0.9"/>
<line x1="287.1" y1="334.56" x2="297.2" y2="304.7" stroke="#111" stroke-width="0.7" stroke-dasharray="2 0.9"/>
<line x1="287.1" y1="335.96" x2="297.2" y2="301.55" stroke="#111" stroke-width="0.7" stroke-dasharray="2 0.9"/>
<line x1="287.1" y1="337.28" x2="297.2" y2="337.41" stroke="#111" stroke-width="0.7" stroke-dasharray="2 0.9"/>
<line x1="287.1" y1="339.36" x2="297.2" y2="303.38" stroke="#111" stroke-width="0.7" stroke-dasharray="2 0.9"/>
<line x1="287.1" y1="340.13" x2="297.2" y2="327.33" stroke="#111" stroke-width="0.7" stroke-dasharray="2 0.9"/>
<line x1="287.1" y1="341.13" x2="297.2" y2="329.91" stroke="#111" stroke-width="0.7" stroke-dasharray="2 0.9"/>
<line x1="287.1" y1="342.51" x2="297.2" y2="257.5" stroke="#111" stroke-width="0.7" stroke-dasharray="2 0.9"/>
<line x1="287.1" y1="343.61" x2="297.2" y2="285.63" stroke="#111" stroke-width="0.7" stroke-dasharray="2 0.9"/>
<line x1="287.1" y1="344.61" x2="297.2" y2="342.11" stroke="#111" stroke-width="0.7" stroke-dasharray="2 0.9"/>
<line x1="287.1" y1="345.98" x2="297.2" y2="273.4" stroke="#111" stroke-width="0.7" stroke-dasharray="2 0.9"/>
<line x1="287.1" y1="348.23" x2="297.2" y2="286.24" stroke="#111" stroke-width="0.7" stroke-dasharray="2 0.9"/>
<line x1="287.1" y1="348.81" x2="297.2" y2="306.26" stroke="#111" stroke-width="0.7" stroke-dasharray="2 0.9"/>
<line x1="287.1" y1="350.95" x2="297.2" y2="282.34" stroke="#111" stroke-width="0.7" stroke-dasharray="2 0.9"/>
<line x1="287.1" y1="351.36" x2="297.2" y2="315.09" stroke="#111" stroke-width="0.7" stroke-dasharray="2 0.9"/>
<line x1="287.1" y1="352.68" x2="297.2" y2="289.35" stroke="#111" stroke-width="0.7" stroke-dasharray="2 0.9"/>
<line x1="287.1" y1="354.29" x2="297.2" y2="283.47" stroke="#111" stroke-width="0.7" stroke-dasharray="2 0.9"/>
<line x1="287.1" y1="355.17" x2="297.2" y2="362.8" stroke="#111" stroke-width="0.7" stroke-dasharray="2 0.9"/>
<line x1="287.1" y1="356.7" x2="297.2" y2="326" stroke="#111" stroke-width="0.7" stroke-dasharray="2 0.9"/>
<line x1="287.1" y1="358.76" x2="297.2" y2="335.26" stroke="#111" stroke-width="0.7" stroke-dasharray="2 0.9"/>
<line x1="287.1" y1="359.96" x2="297.2" y2="322.55" stroke="#111" stroke-width="0.7" stroke-dasharray="2 0.9"/>
<line x1="287.1" y1="361.16" x2="297.2" y2="323.13" stroke="#111" stroke-width="0.7" stroke-dasharray="2 0.9"/>
<line x1="287.1" y1="362.22" x2="297.2" y2="340.9" stroke="#111" stroke-width="0.7" stroke-dasharray="2 0.9"/>
<path d="M287.1 255.9V253.6H297.2V255.9" fill="none" stroke="#000" stroke-width="1.1"/>
<text x="292.15" y="254.6" font-size="8.6" text-anchor="middle" fill="#000" style="stroke-width:0.15px">***</text>
<line x1="312.4" y1="303.7" x2="322.5" y2="308.88" stroke="#111" stroke-width="0.7" stroke-dasharray="2 0.9"/>
<line x1="312.4" y1="309.4" x2="322.5" y2="341.01" stroke="#111" stroke-width="0.7" stroke-dasharray="2 0.9"/>
<line x1="312.4" y1="328.31" x2="322.5" y2="359.53" stroke="#111" stroke-width="0.7" stroke-dasharray="2 0.9"/>
<line x1="312.4" y1="329.29" x2="322.5" y2="298.6" stroke="#111" stroke-width="0.7" stroke-dasharray="2 0.9"/>
<line x1="312.4" y1="329.7" x2="322.5" y2="274" stroke="#111" stroke-width="0.7" stroke-dasharray="2 0.9"/>
<line x1="312.4" y1="330.32" x2="322.5" y2="305.75" stroke="#111" stroke-width="0.7" stroke-dasharray="2 0.9"/>
<line x1="312.4" y1="331.26" x2="322.5" y2="333.24" stroke="#111" stroke-width="0.7" stroke-dasharray="2 0.9"/>
<line x1="312.4" y1="332.07" x2="322.5" y2="278.4" stroke="#111" stroke-width="0.7" stroke-dasharray="2 0.9"/>
<line x1="312.4" y1="333.19" x2="322.5" y2="288.4" stroke="#111" stroke-width="0.7" stroke-dasharray="2 0.9"/>
<line x1="312.4" y1="333.87" x2="322.5" y2="315.42" stroke="#111" stroke-width="0.7" stroke-dasharray="2 0.9"/>
<line x1="312.4" y1="334.9" x2="322.5" y2="304.15" stroke="#111" stroke-width="0.7" stroke-dasharray="2 0.9"/>
<line x1="312.4" y1="335.81" x2="322.5" y2="353.52" stroke="#111" stroke-width="0.7" stroke-dasharray="2 0.9"/>
<line x1="312.4" y1="336.99" x2="322.5" y2="328.35" stroke="#111" stroke-width="0.7" stroke-dasharray="2 0.9"/>
<line x1="312.4" y1="338.17" x2="322.5" y2="367.7" stroke="#111" stroke-width="0.7" stroke-dasharray="2 0.9"/>
<line x1="312.4" y1="338.95" x2="322.5" y2="310.78" stroke="#111" stroke-width="0.7" stroke-dasharray="2 0.9"/>
<line x1="312.4" y1="339.54" x2="322.5" y2="360.58" stroke="#111" stroke-width="0.7" stroke-dasharray="2 0.9"/>
<line x1="312.4" y1="340.44" x2="322.5" y2="366.41" stroke="#111" stroke-width="0.7" stroke-dasharray="2 0.9"/>
<line x1="312.4" y1="341.44" x2="322.5" y2="364.37" stroke="#111" stroke-width="0.7" stroke-dasharray="2 0.9"/>
<line x1="312.4" y1="342.21" x2="322.5" y2="311.62" stroke="#111" stroke-width="0.7" stroke-dasharray="2 0.9"/>
<line x1="312.4" y1="343.07" x2="322.5" y2="335.08" stroke="#111" stroke-width="0.7" stroke-dasharray="2 0.9"/>
<line x1="312.4" y1="343.72" x2="322.5" y2="355.28" stroke="#111" stroke-width="0.7" stroke-dasharray="2 0.9"/>
<line x1="312.4" y1="344.81" x2="322.5" y2="361.82" stroke="#111" stroke-width="0.7" stroke-dasharray="2 0.9"/>
<line x1="312.4" y1="346.33" x2="322.5" y2="369.15" stroke="#111" stroke-width="0.7" stroke-dasharray="2 0.9"/>
<line x1="312.4" y1="346.47" x2="322.5" y2="329.07" stroke="#111" stroke-width="0.7" stroke-dasharray="2 0.9"/>
<line x1="312.4" y1="347.71" x2="322.5" y2="324.11" stroke="#111" stroke-width="0.7" stroke-dasharray="2 0.9"/>
<line x1="312.4" y1="348.72" x2="322.5" y2="270.7" stroke="#111" stroke-width="0.7" stroke-dasharray="2 0.9"/>
<line x1="312.4" y1="349.82" x2="322.5" y2="319.6" stroke="#111" stroke-width="0.7" stroke-dasharray="2 0.9"/>
<line x1="312.4" y1="350.14" x2="322.5" y2="340.3" stroke="#111" stroke-width="0.7" stroke-dasharray="2 0.9"/>
<line x1="312.4" y1="351.09" x2="322.5" y2="337.92" stroke="#111" stroke-width="0.7" stroke-dasharray="2 0.9"/>
<line x1="312.4" y1="351.97" x2="322.5" y2="302.79" stroke="#111" stroke-width="0.7" stroke-dasharray="2 0.9"/>
<line x1="312.4" y1="353" x2="322.5" y2="343.25" stroke="#111" stroke-width="0.7" stroke-dasharray="2 0.9"/>
<line x1="312.4" y1="353.94" x2="322.5" y2="300.61" stroke="#111" stroke-width="0.7" stroke-dasharray="2 0.9"/>
<line x1="312.4" y1="355.29" x2="322.5" y2="345.26" stroke="#111" stroke-width="0.7" stroke-dasharray="2 0.9"/>
<line x1="312.4" y1="356.1" x2="322.5" y2="336.47" stroke="#111" stroke-width="0.7" stroke-dasharray="2 0.9"/>
<line x1="312.4" y1="357.02" x2="322.5" y2="284" stroke="#111" stroke-width="0.7" stroke-dasharray="2 0.9"/>
<line x1="312.4" y1="357.15" x2="322.5" y2="347.85" stroke="#111" stroke-width="0.7" stroke-dasharray="2 0.9"/>
<line x1="312.4" y1="358.06" x2="322.5" y2="307.68" stroke="#111" stroke-width="0.7" stroke-dasharray="2 0.9"/>
<line x1="312.4" y1="359.56" x2="322.5" y2="326.51" stroke="#111" stroke-width="0.7" stroke-dasharray="2 0.9"/>
<line x1="312.4" y1="360.63" x2="322.5" y2="349.04" stroke="#111" stroke-width="0.7" stroke-dasharray="2 0.9"/>
<line x1="312.4" y1="361.15" x2="322.5" y2="318.34" stroke="#111" stroke-width="0.7" stroke-dasharray="2 0.9"/>
<line x1="312.4" y1="362.15" x2="322.5" y2="253" stroke="#111" stroke-width="0.7" stroke-dasharray="2 0.9"/>
<line x1="312.4" y1="362.52" x2="322.5" y2="371.59" stroke="#111" stroke-width="0.7" stroke-dasharray="2 0.9"/>
<line x1="312.4" y1="363.77" x2="322.5" y2="330.73" stroke="#111" stroke-width="0.7" stroke-dasharray="2 0.9"/>
<line x1="312.4" y1="365.15" x2="322.5" y2="358.25" stroke="#111" stroke-width="0.7" stroke-dasharray="2 0.9"/>
<line x1="312.4" y1="365.95" x2="322.5" y2="351.19" stroke="#111" stroke-width="0.7" stroke-dasharray="2 0.9"/>
<line x1="312.4" y1="366.88" x2="322.5" y2="320.74" stroke="#111" stroke-width="0.7" stroke-dasharray="2 0.9"/>
<line x1="312.4" y1="367.88" x2="322.5" y2="322.17" stroke="#111" stroke-width="0.7" stroke-dasharray="2 0.9"/>
<line x1="312.4" y1="368.13" x2="322.5" y2="314.64" stroke="#111" stroke-width="0.7" stroke-dasharray="2 0.9"/>
<line x1="312.4" y1="368.9" x2="322.5" y2="373.77" stroke="#111" stroke-width="0.7" stroke-dasharray="2 0.9"/>
<line x1="312.4" y1="369.84" x2="322.5" y2="352.21" stroke="#111" stroke-width="0.7" stroke-dasharray="2 0.9"/>
<path d="M312.4 251V248.7H322.5V251" fill="none" stroke="#000" stroke-width="1.1"/>
<text x="317.45" y="249.7" font-size="8.6" text-anchor="middle" fill="#000" style="stroke-width:0.15px">***</text>
<line x1="337.7" y1="263.6" x2="347.8" y2="257" stroke="#111" stroke-width="0.7" stroke-dasharray="2 0.9"/>
<line x1="337.7" y1="286.2" x2="347.8" y2="301.98" stroke="#111" stroke-width="0.7" stroke-dasharray="2 0.9"/>
<line x1="337.7" y1="291.7" x2="347.8" y2="283.94" stroke="#111" stroke-width="0.7" stroke-dasharray="2 0.9"/>
<line x1="337.7" y1="292.2" x2="347.8" y2="286.58" stroke="#111" stroke-width="0.7" stroke-dasharray="2 0.9"/>
<line x1="337.7" y1="294" x2="347.8" y2="292.87" stroke="#111" stroke-width="0.7" stroke-dasharray="2 0.9"/>
<line x1="337.7" y1="301.18" x2="347.8" y2="337.18" stroke="#111" stroke-width="0.7" stroke-dasharray="2 0.9"/>
<line x1="337.7" y1="301.82" x2="347.8" y2="304.18" stroke="#111" stroke-width="0.7" stroke-dasharray="2 0.9"/>
<line x1="337.7" y1="302.85" x2="347.8" y2="282.21" stroke="#111" stroke-width="0.7" stroke-dasharray="2 0.9"/>
<line x1="337.7" y1="303.71" x2="347.8" y2="311.33" stroke="#111" stroke-width="0.7" stroke-dasharray="2 0.9"/>
<line x1="337.7" y1="304.71" x2="347.8" y2="307.7" stroke="#111" stroke-width="0.7" stroke-dasharray="2 0.9"/>
<line x1="337.7" y1="305.12" x2="347.8" y2="291.16" stroke="#111" stroke-width="0.7" stroke-dasharray="2 0.9"/>
<line x1="337.7" y1="306.39" x2="347.8" y2="312.11" stroke="#111" stroke-width="0.7" stroke-dasharray="2 0.9"/>
<line x1="337.7" y1="307.13" x2="347.8" y2="351.4" stroke="#111" stroke-width="0.7" stroke-dasharray="2 0.9"/>
<line x1="337.7" y1="307.74" x2="347.8" y2="298.13" stroke="#111" stroke-width="0.7" stroke-dasharray="2 0.9"/>
<line x1="337.7" y1="308.29" x2="347.8" y2="323.15" stroke="#111" stroke-width="0.7" stroke-dasharray="2 0.9"/>
<line x1="337.7" y1="309.69" x2="347.8" y2="288.26" stroke="#111" stroke-width="0.7" stroke-dasharray="2 0.9"/>
<line x1="337.7" y1="309.96" x2="347.8" y2="296.47" stroke="#111" stroke-width="0.7" stroke-dasharray="2 0.9"/>
<line x1="337.7" y1="311.16" x2="347.8" y2="299.26" stroke="#111" stroke-width="0.7" stroke-dasharray="2 0.9"/>
<line x1="337.7" y1="311.48" x2="347.8" y2="304.58" stroke="#111" stroke-width="0.7" stroke-dasharray="2 0.9"/>
<line x1="337.7" y1="312.27" x2="347.8" y2="327.9" stroke="#111" stroke-width="0.7" stroke-dasharray="2 0.9"/>
<line x1="337.7" y1="313.49" x2="347.8" y2="321.6" stroke="#111" stroke-width="0.7" stroke-dasharray="2 0.9"/>
<line x1="337.7" y1="313.91" x2="347.8" y2="274" stroke="#111" stroke-width="0.7" stroke-dasharray="2 0.9"/>
<line x1="337.7" y1="315.23" x2="347.8" y2="269.6" stroke="#111" stroke-width="0.7" stroke-dasharray="2 0.9"/>
<line x1="337.7" y1="315.66" x2="347.8" y2="285.85" stroke="#111" stroke-width="0.7" stroke-dasharray="2 0.9"/>
<line x1="337.7" y1="316.21" x2="347.8" y2="306.34" stroke="#111" stroke-width="0.7" stroke-dasharray="2 0.9"/>
<line x1="337.7" y1="317.03" x2="347.8" y2="278.4" stroke="#111" stroke-width="0.7" stroke-dasharray="2 0.9"/>
<line x1="337.7" y1="317.97" x2="347.8" y2="272" stroke="#111" stroke-width="0.7" stroke-dasharray="2 0.9"/>
<line x1="337.7" y1="318.96" x2="347.8" y2="324.67" stroke="#111" stroke-width="0.7" stroke-dasharray="2 0.9"/>
<line x1="337.7" y1="319.98" x2="347.8" y2="294.84" stroke="#111" stroke-width="0.7" stroke-dasharray="2 0.9"/>
<line x1="337.7" y1="320.13" x2="347.8" y2="320.75" stroke="#111" stroke-width="0.7" stroke-dasharray="2 0.9"/>
<line x1="337.7" y1="321.12" x2="347.8" y2="291.48" stroke="#111" stroke-width="0.7" stroke-dasharray="2 0.9"/>
<line x1="337.7" y1="321.77" x2="347.8" y2="312.87" stroke="#111" stroke-width="0.7" stroke-dasharray="2 0.9"/>
<line x1="337.7" y1="323.17" x2="347.8" y2="319.37" stroke="#111" stroke-width="0.7" stroke-dasharray="2 0.9"/>
<line x1="337.7" y1="323.3" x2="347.8" y2="316.44" stroke="#111" stroke-width="0.7" stroke-dasharray="2 0.9"/>
<line x1="337.7" y1="324.02" x2="347.8" y2="330.61" stroke="#111" stroke-width="0.7" stroke-dasharray="2 0.9"/>
<line x1="337.7" y1="324.82" x2="347.8" y2="333.27" stroke="#111" stroke-width="0.7" stroke-dasharray="2 0.9"/>
<line x1="337.7" y1="325.88" x2="347.8" y2="329.59" stroke="#111" stroke-width="0.7" stroke-dasharray="2 0.9"/>
<line x1="337.7" y1="327.07" x2="347.8" y2="294.68" stroke="#111" stroke-width="0.7" stroke-dasharray="2 0.9"/>
<line x1="337.7" y1="327.85" x2="347.8" y2="335.27" stroke="#111" stroke-width="0.7" stroke-dasharray="2 0.9"/>
<line x1="337.7" y1="328.52" x2="347.8" y2="326.14" stroke="#111" stroke-width="0.7" stroke-dasharray="2 0.9"/>
<line x1="337.7" y1="329.53" x2="347.8" y2="323.24" stroke="#111" stroke-width="0.7" stroke-dasharray="2 0.9"/>
<line x1="337.7" y1="330.27" x2="347.8" y2="334.96" stroke="#111" stroke-width="0.7" stroke-dasharray="2 0.9"/>
<line x1="337.7" y1="330.58" x2="347.8" y2="289.33" stroke="#111" stroke-width="0.7" stroke-dasharray="2 0.9"/>
<line x1="337.7" y1="331.26" x2="347.8" y2="317.3" stroke="#111" stroke-width="0.7" stroke-dasharray="2 0.9"/>
<line x1="337.7" y1="332.65" x2="347.8" y2="308.23" stroke="#111" stroke-width="0.7" stroke-dasharray="2 0.9"/>
<line x1="337.7" y1="333.29" x2="347.8" y2="280.85" stroke="#111" stroke-width="0.7" stroke-dasharray="2 0.9"/>
<line x1="337.7" y1="333.52" x2="347.8" y2="315.3" stroke="#111" stroke-width="0.7" stroke-dasharray="2 0.9"/>
<line x1="337.7" y1="334.81" x2="347.8" y2="285.12" stroke="#111" stroke-width="0.7" stroke-dasharray="2 0.9"/>
<line x1="337.7" y1="335.38" x2="347.8" y2="300.76" stroke="#111" stroke-width="0.7" stroke-dasharray="2 0.9"/>
<line x1="337.7" y1="336.16" x2="347.8" y2="314.59" stroke="#111" stroke-width="0.7" stroke-dasharray="2 0.9"/>
<line x1="337.7" y1="336.92" x2="347.8" y2="299.59" stroke="#111" stroke-width="0.7" stroke-dasharray="2 0.9"/>
<line x1="337.7" y1="337.59" x2="347.8" y2="276.2" stroke="#111" stroke-width="0.7" stroke-dasharray="2 0.9"/>
<line x1="337.7" y1="338.25" x2="347.8" y2="338.29" stroke="#111" stroke-width="0.7" stroke-dasharray="2 0.9"/>
<line x1="337.7" y1="339.26" x2="347.8" y2="329.08" stroke="#111" stroke-width="0.7" stroke-dasharray="2 0.9"/>
<line x1="337.7" y1="340.11" x2="347.8" y2="361.3" stroke="#111" stroke-width="0.7" stroke-dasharray="2 0.9"/>
<line x1="337.7" y1="341.38" x2="347.8" y2="332.01" stroke="#111" stroke-width="0.7" stroke-dasharray="2 0.9"/>
<line x1="337.7" y1="341.51" x2="347.8" y2="309.33" stroke="#111" stroke-width="0.7" stroke-dasharray="2 0.9"/>
<path d="M337.7 255.2V252.9H347.8V255.2" fill="none" stroke="#000" stroke-width="1.1"/>
<text x="342.75" y="253.9" font-size="8.6" text-anchor="middle" fill="#000" style="stroke-width:0.15px">**</text>
<line x1="363" y1="259" x2="373.1" y2="293.59" stroke="#111" stroke-width="0.7" stroke-dasharray="2 0.9"/>
<line x1="363" y1="276.2" x2="373.1" y2="304.46" stroke="#111" stroke-width="0.7" stroke-dasharray="2 0.9"/>
<line x1="363" y1="278.4" x2="373.1" y2="268.85" stroke="#111" stroke-width="0.7" stroke-dasharray="2 0.9"/>
<line x1="363" y1="290.03" x2="373.1" y2="258.23" stroke="#111" stroke-width="0.7" stroke-dasharray="2 0.9"/>
<line x1="363" y1="291.91" x2="373.1" y2="267.16" stroke="#111" stroke-width="0.7" stroke-dasharray="2 0.9"/>
<line x1="363" y1="293.56" x2="373.1" y2="305.48" stroke="#111" stroke-width="0.7" stroke-dasharray="2 0.9"/>
<line x1="363" y1="294.99" x2="373.1" y2="295.64" stroke="#111" stroke-width="0.7" stroke-dasharray="2 0.9"/>
<line x1="363" y1="296.95" x2="373.1" y2="288.12" stroke="#111" stroke-width="0.7" stroke-dasharray="2 0.9"/>
<line x1="363" y1="298.63" x2="373.1" y2="279.2" stroke="#111" stroke-width="0.7" stroke-dasharray="2 0.9"/>
<line x1="363" y1="299.92" x2="373.1" y2="275.22" stroke="#111" stroke-width="0.7" stroke-dasharray="2 0.9"/>
<line x1="363" y1="300.19" x2="373.1" y2="286.36" stroke="#111" stroke-width="0.7" stroke-dasharray="2 0.9"/>
<line x1="363" y1="301.21" x2="373.1" y2="287.1" stroke="#111" stroke-width="0.7" stroke-dasharray="2 0.9"/>
<line x1="363" y1="302.63" x2="373.1" y2="252" stroke="#111" stroke-width="0.7" stroke-dasharray="2 0.9"/>
<line x1="363" y1="303.08" x2="373.1" y2="308.85" stroke="#111" stroke-width="0.7" stroke-dasharray="2 0.9"/>
<line x1="363" y1="303.82" x2="373.1" y2="273.71" stroke="#111" stroke-width="0.7" stroke-dasharray="2 0.9"/>
<line x1="363" y1="304.71" x2="373.1" y2="290.04" stroke="#111" stroke-width="0.7" stroke-dasharray="2 0.9"/>
<line x1="363" y1="306.09" x2="373.1" y2="260.52" stroke="#111" stroke-width="0.7" stroke-dasharray="2 0.9"/>
<line x1="363" y1="306.79" x2="373.1" y2="263.19" stroke="#111" stroke-width="0.7" stroke-dasharray="2 0.9"/>
<line x1="363" y1="308.3" x2="373.1" y2="281.45" stroke="#111" stroke-width="0.7" stroke-dasharray="2 0.9"/>
<line x1="363" y1="309.12" x2="373.1" y2="283.92" stroke="#111" stroke-width="0.7" stroke-dasharray="2 0.9"/>
<line x1="363" y1="310.13" x2="373.1" y2="303.76" stroke="#111" stroke-width="0.7" stroke-dasharray="2 0.9"/>
<line x1="363" y1="310.38" x2="373.1" y2="266.09" stroke="#111" stroke-width="0.7" stroke-dasharray="2 0.9"/>
<line x1="363" y1="311.13" x2="373.1" y2="282.22" stroke="#111" stroke-width="0.7" stroke-dasharray="2 0.9"/>
<line x1="363" y1="312.05" x2="373.1" y2="272.42" stroke="#111" stroke-width="0.7" stroke-dasharray="2 0.9"/>
<line x1="363" y1="313.33" x2="373.1" y2="264.1" stroke="#111" stroke-width="0.7" stroke-dasharray="2 0.9"/>
<line x1="363" y1="314.43" x2="373.1" y2="314.04" stroke="#111" stroke-width="0.7" stroke-dasharray="2 0.9"/>
<line x1="363" y1="315.1" x2="373.1" y2="300.74" stroke="#111" stroke-width="0.7" stroke-dasharray="2 0.9"/>
<line x1="363" y1="315.82" x2="373.1" y2="309.48" stroke="#111" stroke-width="0.7" stroke-dasharray="2 0.9"/>
<line x1="363" y1="316.9" x2="373.1" y2="324.2" stroke="#111" stroke-width="0.7" stroke-dasharray="2 0.9"/>
<line x1="363" y1="317.99" x2="373.1" y2="248" stroke="#111" stroke-width="0.7" stroke-dasharray="2 0.9"/>
<line x1="363" y1="318.95" x2="373.1" y2="297.09" stroke="#111" stroke-width="0.7" stroke-dasharray="2 0.9"/>
<line x1="363" y1="319.93" x2="373.1" y2="270.72" stroke="#111" stroke-width="0.7" stroke-dasharray="2 0.9"/>
<line x1="363" y1="320.93" x2="373.1" y2="277.85" stroke="#111" stroke-width="0.7" stroke-dasharray="2 0.9"/>
<line x1="363" y1="321.68" x2="373.1" y2="284.48" stroke="#111" stroke-width="0.7" stroke-dasharray="2 0.9"/>
<line x1="363" y1="322.09" x2="373.1" y2="259.17" stroke="#111" stroke-width="0.7" stroke-dasharray="2 0.9"/>
<line x1="363" y1="323.66" x2="373.1" y2="294.89" stroke="#111" stroke-width="0.7" stroke-dasharray="2 0.9"/>
<line x1="363" y1="324.07" x2="373.1" y2="268.99" stroke="#111" stroke-width="0.7" stroke-dasharray="2 0.9"/>
<line x1="363" y1="325.23" x2="373.1" y2="298.07" stroke="#111" stroke-width="0.7" stroke-dasharray="2 0.9"/>
<line x1="363" y1="325.96" x2="373.1" y2="275.06" stroke="#111" stroke-width="0.7" stroke-dasharray="2 0.9"/>
<line x1="363" y1="327.21" x2="373.1" y2="291.51" stroke="#111" stroke-width="0.7" stroke-dasharray="2 0.9"/>
<line x1="363" y1="327.63" x2="373.1" y2="291.71" stroke="#111" stroke-width="0.7" stroke-dasharray="2 0.9"/>
<line x1="363" y1="328.58" x2="373.1" y2="302.43" stroke="#111" stroke-width="0.7" stroke-dasharray="2 0.9"/>
<line x1="363" y1="329.49" x2="373.1" y2="276.8" stroke="#111" stroke-width="0.7" stroke-dasharray="2 0.9"/>
<line x1="363" y1="330.32" x2="373.1" y2="307.14" stroke="#111" stroke-width="0.7" stroke-dasharray="2 0.9"/>
<line x1="363" y1="331.89" x2="373.1" y2="262.54" stroke="#111" stroke-width="0.7" stroke-dasharray="2 0.9"/>
<line x1="363" y1="340.8" x2="373.1" y2="312.03" stroke="#111" stroke-width="0.7" stroke-dasharray="2 0.9"/>
<line x1="363" y1="343.6" x2="373.1" y2="310.91" stroke="#111" stroke-width="0.7" stroke-dasharray="2 0.9"/>
<line x1="363" y1="360.2" x2="373.1" y2="299.41" stroke="#111" stroke-width="0.7" stroke-dasharray="2 0.9"/>
<path d="M363 245.9V243.6H373.1V245.9" fill="none" stroke="#000" stroke-width="1.1"/>
<text x="368.05" y="244.6" font-size="8.6" text-anchor="middle" fill="#000" style="stroke-width:0.15px">***</text>
<line x1="388.3" y1="249.3" x2="398.4" y2="274" stroke="#111" stroke-width="0.7" stroke-dasharray="2 0.9"/>
<line x1="388.3" y1="255.7" x2="398.4" y2="285" stroke="#111" stroke-width="0.7" stroke-dasharray="2 0.9"/>
<line x1="388.3" y1="265.2" x2="398.4" y2="280.6" stroke="#111" stroke-width="0.7" stroke-dasharray="2 0.9"/>
<line x1="388.3" y1="319.8" x2="398.4" y2="285.5" stroke="#111" stroke-width="0.7" stroke-dasharray="2 0.9"/>
<path d="M388.3 247.7V245.4H398.4V247.7" fill="none" stroke="#000" stroke-width="1.1"/>
<text x="393.35" y="243.6" font-size="8.9" text-anchor="middle" fill="#000" >ns</text>
<line x1="413.6" y1="332" x2="423.7" y2="329.7" stroke="#111" stroke-width="0.7" stroke-dasharray="2 0.9"/>
<line x1="413.6" y1="350.7" x2="423.7" y2="295.5" stroke="#111" stroke-width="0.7" stroke-dasharray="2 0.9"/>
<line x1="413.6" y1="363.5" x2="423.7" y2="341.9" stroke="#111" stroke-width="0.7" stroke-dasharray="2 0.9"/>
<path d="M413.6 293.8V291.5H423.7V293.8" fill="none" stroke="#000" stroke-width="1.1"/>
<text x="418.65" y="289.7" font-size="8.9" text-anchor="middle" fill="#000" >ns</text>
<line x1="438.9" y1="312.7" x2="449" y2="341.46" stroke="#111" stroke-width="0.7" stroke-dasharray="2 0.9"/>
<line x1="438.9" y1="322.44" x2="449" y2="328.03" stroke="#111" stroke-width="0.7" stroke-dasharray="2 0.9"/>
<line x1="438.9" y1="322.85" x2="449" y2="317.6" stroke="#111" stroke-width="0.7" stroke-dasharray="2 0.9"/>
<line x1="438.9" y1="323.68" x2="449" y2="331.73" stroke="#111" stroke-width="0.7" stroke-dasharray="2 0.9"/>
<line x1="438.9" y1="324.72" x2="449" y2="323.78" stroke="#111" stroke-width="0.7" stroke-dasharray="2 0.9"/>
<line x1="438.9" y1="325.64" x2="449" y2="335.82" stroke="#111" stroke-width="0.7" stroke-dasharray="2 0.9"/>
<line x1="438.9" y1="326.51" x2="449" y2="347.76" stroke="#111" stroke-width="0.7" stroke-dasharray="2 0.9"/>
<line x1="438.9" y1="326.87" x2="449" y2="350.6" stroke="#111" stroke-width="0.7" stroke-dasharray="2 0.9"/>
<line x1="438.9" y1="327.73" x2="449" y2="328.28" stroke="#111" stroke-width="0.7" stroke-dasharray="2 0.9"/>
<line x1="438.9" y1="328.96" x2="449" y2="332.72" stroke="#111" stroke-width="0.7" stroke-dasharray="2 0.9"/>
<line x1="438.9" y1="329.53" x2="449" y2="344.79" stroke="#111" stroke-width="0.7" stroke-dasharray="2 0.9"/>
<line x1="438.9" y1="330.23" x2="449" y2="353.4" stroke="#111" stroke-width="0.7" stroke-dasharray="2 0.9"/>
<line x1="438.9" y1="331.05" x2="449" y2="354.53" stroke="#111" stroke-width="0.7" stroke-dasharray="2 0.9"/>
<line x1="438.9" y1="332.36" x2="449" y2="340.37" stroke="#111" stroke-width="0.7" stroke-dasharray="2 0.9"/>
<line x1="438.9" y1="332.65" x2="449" y2="337.19" stroke="#111" stroke-width="0.7" stroke-dasharray="2 0.9"/>
<line x1="438.9" y1="333.65" x2="449" y2="329.8" stroke="#111" stroke-width="0.7" stroke-dasharray="2 0.9"/>
<line x1="438.9" y1="334.29" x2="449" y2="333.48" stroke="#111" stroke-width="0.7" stroke-dasharray="2 0.9"/>
<line x1="438.9" y1="335.13" x2="449" y2="326.62" stroke="#111" stroke-width="0.7" stroke-dasharray="2 0.9"/>
<line x1="438.9" y1="336.29" x2="449" y2="325.16" stroke="#111" stroke-width="0.7" stroke-dasharray="2 0.9"/>
<line x1="438.9" y1="337.2" x2="449" y2="325.5" stroke="#111" stroke-width="0.7" stroke-dasharray="2 0.9"/>
<line x1="438.9" y1="337.49" x2="449" y2="344.09" stroke="#111" stroke-width="0.7" stroke-dasharray="2 0.9"/>
<line x1="438.9" y1="338.16" x2="449" y2="359.93" stroke="#111" stroke-width="0.7" stroke-dasharray="2 0.9"/>
<line x1="438.9" y1="339.38" x2="449" y2="359.44" stroke="#111" stroke-width="0.7" stroke-dasharray="2 0.9"/>
<line x1="438.9" y1="339.76" x2="449" y2="348.38" stroke="#111" stroke-width="0.7" stroke-dasharray="2 0.9"/>
<line x1="438.9" y1="340.4" x2="449" y2="329.48" stroke="#111" stroke-width="0.7" stroke-dasharray="2 0.9"/>
<line x1="438.9" y1="341.92" x2="449" y2="355.78" stroke="#111" stroke-width="0.7" stroke-dasharray="2 0.9"/>
<line x1="438.9" y1="342.34" x2="449" y2="341.25" stroke="#111" stroke-width="0.7" stroke-dasharray="2 0.9"/>
<line x1="438.9" y1="343.46" x2="449" y2="356.31" stroke="#111" stroke-width="0.7" stroke-dasharray="2 0.9"/>
<line x1="438.9" y1="343.92" x2="449" y2="339.25" stroke="#111" stroke-width="0.7" stroke-dasharray="2 0.9"/>
<line x1="438.9" y1="345.11" x2="449" y2="346.9" stroke="#111" stroke-width="0.7" stroke-dasharray="2 0.9"/>
<line x1="438.9" y1="345.57" x2="449" y2="342.79" stroke="#111" stroke-width="0.7" stroke-dasharray="2 0.9"/>
<line x1="438.9" y1="346.13" x2="449" y2="358.48" stroke="#111" stroke-width="0.7" stroke-dasharray="2 0.9"/>
<line x1="438.9" y1="346.81" x2="449" y2="355.28" stroke="#111" stroke-width="0.7" stroke-dasharray="2 0.9"/>
<line x1="438.9" y1="348.04" x2="449" y2="345.58" stroke="#111" stroke-width="0.7" stroke-dasharray="2 0.9"/>
<line x1="438.9" y1="348.91" x2="449" y2="349.29" stroke="#111" stroke-width="0.7" stroke-dasharray="2 0.9"/>
<line x1="438.9" y1="349.93" x2="449" y2="335.18" stroke="#111" stroke-width="0.7" stroke-dasharray="2 0.9"/>
<line x1="438.9" y1="350.07" x2="449" y2="351.03" stroke="#111" stroke-width="0.7" stroke-dasharray="2 0.9"/>
<line x1="438.9" y1="351.3" x2="449" y2="339.14" stroke="#111" stroke-width="0.7" stroke-dasharray="2 0.9"/>
<line x1="438.9" y1="351.9" x2="449" y2="330.67" stroke="#111" stroke-width="0.7" stroke-dasharray="2 0.9"/>
<line x1="438.9" y1="352.8" x2="449" y2="332.46" stroke="#111" stroke-width="0.7" stroke-dasharray="2 0.9"/>
<line x1="438.9" y1="353.32" x2="449" y2="327.14" stroke="#111" stroke-width="0.7" stroke-dasharray="2 0.9"/>
<line x1="438.9" y1="354.23" x2="449" y2="336.36" stroke="#111" stroke-width="0.7" stroke-dasharray="2 0.9"/>
<line x1="438.9" y1="355.22" x2="449" y2="357.26" stroke="#111" stroke-width="0.7" stroke-dasharray="2 0.9"/>
<line x1="438.9" y1="356.34" x2="449" y2="349.87" stroke="#111" stroke-width="0.7" stroke-dasharray="2 0.9"/>
<line x1="438.9" y1="356.49" x2="449" y2="346.08" stroke="#111" stroke-width="0.7" stroke-dasharray="2 0.9"/>
<line x1="438.9" y1="357.59" x2="449" y2="323.36" stroke="#111" stroke-width="0.7" stroke-dasharray="2 0.9"/>
<line x1="438.9" y1="358.64" x2="449" y2="338.28" stroke="#111" stroke-width="0.7" stroke-dasharray="2 0.9"/>
<line x1="438.9" y1="359.57" x2="449" y2="357.73" stroke="#111" stroke-width="0.7" stroke-dasharray="2 0.9"/>
<line x1="438.9" y1="359.76" x2="449" y2="342.99" stroke="#111" stroke-width="0.7" stroke-dasharray="2 0.9"/>
<line x1="438.9" y1="360.5" x2="449" y2="352.21" stroke="#111" stroke-width="0.7" stroke-dasharray="2 0.9"/>
<line x1="438.9" y1="361.95" x2="449" y2="334.35" stroke="#111" stroke-width="0.7" stroke-dasharray="2 0.9"/>
<line x1="438.9" y1="362.78" x2="449" y2="352.85" stroke="#111" stroke-width="0.7" stroke-dasharray="2 0.9"/>
<path d="M438.9 311.1V308.8H449V311.1" fill="none" stroke="#000" stroke-width="1.1"/>
<text x="443.95" y="307" font-size="8.9" text-anchor="middle" fill="#000" >ns</text>
<line x1="464.2" y1="334.8" x2="474.3" y2="255.3" stroke="#111" stroke-width="0.7" stroke-dasharray="2 0.9"/>
<line x1="464.2" y1="336.5" x2="474.3" y2="293.9" stroke="#111" stroke-width="0.7" stroke-dasharray="2 0.9"/>
<line x1="464.2" y1="339.7" x2="474.3" y2="303.2" stroke="#111" stroke-width="0.7" stroke-dasharray="2 0.9"/>
<line x1="464.2" y1="342" x2="474.3" y2="310.3" stroke="#111" stroke-width="0.7" stroke-dasharray="2 0.9"/>
<line x1="464.2" y1="344" x2="474.3" y2="322" stroke="#111" stroke-width="0.7" stroke-dasharray="2 0.9"/>
<line x1="464.2" y1="346" x2="474.3" y2="323.5" stroke="#111" stroke-width="0.7" stroke-dasharray="2 0.9"/>
<line x1="464.2" y1="348.5" x2="474.3" y2="325.3" stroke="#111" stroke-width="0.7" stroke-dasharray="2 0.9"/>
<line x1="464.2" y1="350.5" x2="474.3" y2="351.4" stroke="#111" stroke-width="0.7" stroke-dasharray="2 0.9"/>
<line x1="464.2" y1="356.2" x2="474.3" y2="356.2" stroke="#111" stroke-width="0.7" stroke-dasharray="2 0.9"/>
<path d="M464.2 252.7V250.4H474.3V252.7" fill="none" stroke="#000" stroke-width="1.1"/>
<text x="469.25" y="251.4" font-size="8.6" text-anchor="middle" fill="#000" style="stroke-width:0.15px">*</text>
<line x1="489.5" y1="311" x2="499.6" y2="296.6" stroke="#111" stroke-width="0.7" stroke-dasharray="2 0.9"/>
<line x1="489.5" y1="356.2" x2="499.6" y2="332.6" stroke="#111" stroke-width="0.7" stroke-dasharray="2 0.9"/>
<line x1="514.8" y1="299.9" x2="524.9" y2="318.7" stroke="#111" stroke-width="0.7" stroke-dasharray="2 0.9"/>
<line x1="540.1" y1="287.7" x2="550.2" y2="325.31" stroke="#111" stroke-width="0.7" stroke-dasharray="2 0.9"/>
<line x1="540.1" y1="291.7" x2="550.2" y2="330.63" stroke="#111" stroke-width="0.7" stroke-dasharray="2 0.9"/>
<line x1="540.1" y1="296.8" x2="550.2" y2="302.34" stroke="#111" stroke-width="0.7" stroke-dasharray="2 0.9"/>
<line x1="540.1" y1="304.3" x2="550.2" y2="301.69" stroke="#111" stroke-width="0.7" stroke-dasharray="2 0.9"/>
<line x1="540.1" y1="317.6" x2="550.2" y2="249.7" stroke="#111" stroke-width="0.7" stroke-dasharray="2 0.9"/>
<line x1="540.1" y1="323.55" x2="550.2" y2="317.36" stroke="#111" stroke-width="0.7" stroke-dasharray="2 0.9"/>
<line x1="540.1" y1="324.87" x2="550.2" y2="276.2" stroke="#111" stroke-width="0.7" stroke-dasharray="2 0.9"/>
<line x1="540.1" y1="325.53" x2="550.2" y2="307.87" stroke="#111" stroke-width="0.7" stroke-dasharray="2 0.9"/>
<line x1="540.1" y1="327.51" x2="550.2" y2="298.02" stroke="#111" stroke-width="0.7" stroke-dasharray="2 0.9"/>
<line x1="540.1" y1="328.06" x2="550.2" y2="286.2" stroke="#111" stroke-width="0.7" stroke-dasharray="2 0.9"/>
<line x1="540.1" y1="330.11" x2="550.2" y2="316.13" stroke="#111" stroke-width="0.7" stroke-dasharray="2 0.9"/>
<line x1="540.1" y1="331.4" x2="550.2" y2="321" stroke="#111" stroke-width="0.7" stroke-dasharray="2 0.9"/>
<line x1="540.1" y1="332.31" x2="550.2" y2="312.6" stroke="#111" stroke-width="0.7" stroke-dasharray="2 0.9"/>
<line x1="540.1" y1="332.99" x2="550.2" y2="333.63" stroke="#111" stroke-width="0.7" stroke-dasharray="2 0.9"/>
<line x1="540.1" y1="334.78" x2="550.2" y2="298.71" stroke="#111" stroke-width="0.7" stroke-dasharray="2 0.9"/>
<line x1="540.1" y1="335.87" x2="550.2" y2="319.32" stroke="#111" stroke-width="0.7" stroke-dasharray="2 0.9"/>
<line x1="540.1" y1="337.82" x2="550.2" y2="310.79" stroke="#111" stroke-width="0.7" stroke-dasharray="2 0.9"/>
<line x1="540.1" y1="338.05" x2="550.2" y2="327.87" stroke="#111" stroke-width="0.7" stroke-dasharray="2 0.9"/>
<line x1="540.1" y1="340.18" x2="550.2" y2="336.76" stroke="#111" stroke-width="0.7" stroke-dasharray="2 0.9"/>
<line x1="540.1" y1="341.6" x2="550.2" y2="339.35" stroke="#111" stroke-width="0.7" stroke-dasharray="2 0.9"/>
<line x1="540.1" y1="342.51" x2="550.2" y2="304.98" stroke="#111" stroke-width="0.7" stroke-dasharray="2 0.9"/>
<line x1="540.1" y1="343.85" x2="550.2" y2="295.62" stroke="#111" stroke-width="0.7" stroke-dasharray="2 0.9"/>
<line x1="540.1" y1="344.32" x2="550.2" y2="340.52" stroke="#111" stroke-width="0.7" stroke-dasharray="2 0.9"/>
<line x1="540.1" y1="346.54" x2="550.2" y2="335.52" stroke="#111" stroke-width="0.7" stroke-dasharray="2 0.9"/>
<line x1="540.1" y1="347.17" x2="550.2" y2="310.3" stroke="#111" stroke-width="0.7" stroke-dasharray="2 0.9"/>
<line x1="540.1" y1="348.99" x2="550.2" y2="331.2" stroke="#111" stroke-width="0.7" stroke-dasharray="2 0.9"/>
<line x1="540.1" y1="350.18" x2="550.2" y2="305.54" stroke="#111" stroke-width="0.7" stroke-dasharray="2 0.9"/>
<line x1="540.1" y1="350.48" x2="550.2" y2="327.4" stroke="#111" stroke-width="0.7" stroke-dasharray="2 0.9"/>
<line x1="540.1" y1="352.5" x2="550.2" y2="342.28" stroke="#111" stroke-width="0.7" stroke-dasharray="2 0.9"/>
<line x1="540.1" y1="353.91" x2="550.2" y2="324.04" stroke="#111" stroke-width="0.7" stroke-dasharray="2 0.9"/>
<line x1="540.1" y1="361.3" x2="550.2" y2="314.73" stroke="#111" stroke-width="0.7" stroke-dasharray="2 0.9"/>
<line x1="540.1" y1="365.5" x2="550.2" y2="293.41" stroke="#111" stroke-width="0.7" stroke-dasharray="2 0.9"/>
<path d="M540.1 247.5V245.2H550.2V247.5" fill="none" stroke="#000" stroke-width="1.1"/>
<text x="545.15" y="246.2" font-size="8.6" text-anchor="middle" fill="#000" style="stroke-width:0.15px">***</text>
<line x1="565.4" y1="284" x2="575.5" y2="286.4" stroke="#111" stroke-width="0.7" stroke-dasharray="2 0.9"/>
<line x1="565.4" y1="290.6" x2="575.5" y2="297.43" stroke="#111" stroke-width="0.7" stroke-dasharray="2 0.9"/>
<line x1="565.4" y1="294" x2="575.5" y2="303.96" stroke="#111" stroke-width="0.7" stroke-dasharray="2 0.9"/>
<line x1="565.4" y1="297.2" x2="575.5" y2="278.97" stroke="#111" stroke-width="0.7" stroke-dasharray="2 0.9"/>
<line x1="565.4" y1="297.95" x2="575.5" y2="299.79" stroke="#111" stroke-width="0.7" stroke-dasharray="2 0.9"/>
<line x1="565.4" y1="298.14" x2="575.5" y2="280.48" stroke="#111" stroke-width="0.7" stroke-dasharray="2 0.9"/>
<line x1="565.4" y1="299.74" x2="575.5" y2="289.96" stroke="#111" stroke-width="0.7" stroke-dasharray="2 0.9"/>
<line x1="565.4" y1="300.28" x2="575.5" y2="287.72" stroke="#111" stroke-width="0.7" stroke-dasharray="2 0.9"/>
<line x1="565.4" y1="300.93" x2="575.5" y2="283.65" stroke="#111" stroke-width="0.7" stroke-dasharray="2 0.9"/>
<line x1="565.4" y1="302.12" x2="575.5" y2="289.23" stroke="#111" stroke-width="0.7" stroke-dasharray="2 0.9"/>
<line x1="565.4" y1="302.51" x2="575.5" y2="286.28" stroke="#111" stroke-width="0.7" stroke-dasharray="2 0.9"/>
<line x1="565.4" y1="303.98" x2="575.5" y2="308.9" stroke="#111" stroke-width="0.7" stroke-dasharray="2 0.9"/>
<line x1="565.4" y1="304.47" x2="575.5" y2="302.34" stroke="#111" stroke-width="0.7" stroke-dasharray="2 0.9"/>
<line x1="565.4" y1="305.14" x2="575.5" y2="312.12" stroke="#111" stroke-width="0.7" stroke-dasharray="2 0.9"/>
<line x1="565.4" y1="306.33" x2="575.5" y2="310.03" stroke="#111" stroke-width="0.7" stroke-dasharray="2 0.9"/>
<line x1="565.4" y1="306.9" x2="575.5" y2="266.3" stroke="#111" stroke-width="0.7" stroke-dasharray="2 0.9"/>
<line x1="565.4" y1="307.53" x2="575.5" y2="294.45" stroke="#111" stroke-width="0.7" stroke-dasharray="2 0.9"/>
<line x1="565.4" y1="308.86" x2="575.5" y2="340.3" stroke="#111" stroke-width="0.7" stroke-dasharray="2 0.9"/>
<line x1="565.4" y1="309.12" x2="575.5" y2="313.12" stroke="#111" stroke-width="0.7" stroke-dasharray="2 0.9"/>
<line x1="565.4" y1="310.62" x2="575.5" y2="284.36" stroke="#111" stroke-width="0.7" stroke-dasharray="2 0.9"/>
<line x1="565.4" y1="310.99" x2="575.5" y2="305.58" stroke="#111" stroke-width="0.7" stroke-dasharray="2 0.9"/>
<line x1="565.4" y1="312.16" x2="575.5" y2="324.98" stroke="#111" stroke-width="0.7" stroke-dasharray="2 0.9"/>
<line x1="565.4" y1="313.3" x2="575.5" y2="296.64" stroke="#111" stroke-width="0.7" stroke-dasharray="2 0.9"/>
<line x1="565.4" y1="313.81" x2="575.5" y2="311.34" stroke="#111" stroke-width="0.7" stroke-dasharray="2 0.9"/>
<line x1="565.4" y1="314.73" x2="575.5" y2="282.33" stroke="#111" stroke-width="0.7" stroke-dasharray="2 0.9"/>
<line x1="565.4" y1="315.28" x2="575.5" y2="272.9" stroke="#111" stroke-width="0.7" stroke-dasharray="2 0.9"/>
<line x1="565.4" y1="315.86" x2="575.5" y2="304.76" stroke="#111" stroke-width="0.7" stroke-dasharray="2 0.9"/>
<line x1="565.4" y1="316.74" x2="575.5" y2="322.46" stroke="#111" stroke-width="0.7" stroke-dasharray="2 0.9"/>
<line x1="565.4" y1="317.68" x2="575.5" y2="321.26" stroke="#111" stroke-width="0.7" stroke-dasharray="2 0.9"/>
<line x1="565.4" y1="318.93" x2="575.5" y2="284.81" stroke="#111" stroke-width="0.7" stroke-dasharray="2 0.9"/>
<line x1="565.4" y1="319.62" x2="575.5" y2="291.48" stroke="#111" stroke-width="0.7" stroke-dasharray="2 0.9"/>
<line x1="565.4" y1="320.53" x2="575.5" y2="301.67" stroke="#111" stroke-width="0.7" stroke-dasharray="2 0.9"/>
<line x1="565.4" y1="321.71" x2="575.5" y2="294.28" stroke="#111" stroke-width="0.7" stroke-dasharray="2 0.9"/>
<line x1="565.4" y1="321.91" x2="575.5" y2="323.11" stroke="#111" stroke-width="0.7" stroke-dasharray="2 0.9"/>
<line x1="565.4" y1="322.84" x2="575.5" y2="317.07" stroke="#111" stroke-width="0.7" stroke-dasharray="2 0.9"/>
<line x1="565.4" y1="324.05" x2="575.5" y2="295.39" stroke="#111" stroke-width="0.7" stroke-dasharray="2 0.9"/>
<line x1="565.4" y1="324.36" x2="575.5" y2="313.83" stroke="#111" stroke-width="0.7" stroke-dasharray="2 0.9"/>
<line x1="565.4" y1="325.19" x2="575.5" y2="281.63" stroke="#111" stroke-width="0.7" stroke-dasharray="2 0.9"/>
<line x1="565.4" y1="326.34" x2="575.5" y2="318.08" stroke="#111" stroke-width="0.7" stroke-dasharray="2 0.9"/>
<line x1="565.4" y1="326.98" x2="575.5" y2="323.76" stroke="#111" stroke-width="0.7" stroke-dasharray="2 0.9"/>
<line x1="565.4" y1="328.04" x2="575.5" y2="314.98" stroke="#111" stroke-width="0.7" stroke-dasharray="2 0.9"/>
<line x1="565.4" y1="328.77" x2="575.5" y2="316.23" stroke="#111" stroke-width="0.7" stroke-dasharray="2 0.9"/>
<line x1="565.4" y1="329.92" x2="575.5" y2="305.84" stroke="#111" stroke-width="0.7" stroke-dasharray="2 0.9"/>
<line x1="565.4" y1="330.78" x2="575.5" y2="288.49" stroke="#111" stroke-width="0.7" stroke-dasharray="2 0.9"/>
<line x1="565.4" y1="331.3" x2="575.5" y2="318.85" stroke="#111" stroke-width="0.7" stroke-dasharray="2 0.9"/>
<line x1="565.4" y1="332.5" x2="575.5" y2="291.68" stroke="#111" stroke-width="0.7" stroke-dasharray="2 0.9"/>
<line x1="565.4" y1="333.23" x2="575.5" y2="307.46" stroke="#111" stroke-width="0.7" stroke-dasharray="2 0.9"/>
<line x1="565.4" y1="333.78" x2="575.5" y2="310.66" stroke="#111" stroke-width="0.7" stroke-dasharray="2 0.9"/>
<line x1="565.4" y1="335.31" x2="575.5" y2="319.34" stroke="#111" stroke-width="0.7" stroke-dasharray="2 0.9"/>
<line x1="565.4" y1="335.57" x2="575.5" y2="308.26" stroke="#111" stroke-width="0.7" stroke-dasharray="2 0.9"/>
<line x1="565.4" y1="336.34" x2="575.5" y2="299.47" stroke="#111" stroke-width="0.7" stroke-dasharray="2 0.9"/>
<line x1="565.4" y1="337.14" x2="575.5" y2="300.8" stroke="#111" stroke-width="0.7" stroke-dasharray="2 0.9"/>
<line x1="565.4" y1="338.45" x2="575.5" y2="298.44" stroke="#111" stroke-width="0.7" stroke-dasharray="2 0.9"/>
<line x1="565.4" y1="339.5" x2="575.5" y2="279.78" stroke="#111" stroke-width="0.7" stroke-dasharray="2 0.9"/>
<line x1="565.4" y1="340.27" x2="575.5" y2="320.48" stroke="#111" stroke-width="0.7" stroke-dasharray="2 0.9"/>
<line x1="565.4" y1="340.8" x2="575.5" y2="293.05" stroke="#111" stroke-width="0.7" stroke-dasharray="2 0.9"/>
<line x1="565.4" y1="341.53" x2="575.5" y2="333" stroke="#111" stroke-width="0.7" stroke-dasharray="2 0.9"/>
<path d="M565.4 263.6V261.3H575.5V263.6" fill="none" stroke="#000" stroke-width="1.1"/>
<text x="570.45" y="262.3" font-size="8.6" text-anchor="middle" fill="#000" style="stroke-width:0.15px">***</text>
<line x1="590.7" y1="302.9" x2="600.8" y2="302" stroke="#111" stroke-width="0.7" stroke-dasharray="2 0.9"/>
<line x1="590.7" y1="317.6" x2="600.8" y2="345.5" stroke="#111" stroke-width="0.7" stroke-dasharray="2 0.9"/>
<line x1="616" y1="274.1" x2="626.1" y2="345" stroke="#111" stroke-width="0.7" stroke-dasharray="2 0.9"/>
<line x1="616" y1="293.1" x2="626.1" y2="327.5" stroke="#111" stroke-width="0.7" stroke-dasharray="2 0.9"/>
<line x1="616" y1="295.73" x2="626.1" y2="339.2" stroke="#111" stroke-width="0.7" stroke-dasharray="2 0.9"/>
<line x1="616" y1="296.45" x2="626.1" y2="331.4" stroke="#111" stroke-width="0.7" stroke-dasharray="2 0.9"/>
<line x1="616" y1="301.16" x2="626.1" y2="329.5" stroke="#111" stroke-width="0.7" stroke-dasharray="2 0.9"/>
<line x1="616" y1="301.54" x2="626.1" y2="314.14" stroke="#111" stroke-width="0.7" stroke-dasharray="2 0.9"/>
<line x1="616" y1="305.07" x2="626.1" y2="303" stroke="#111" stroke-width="0.7" stroke-dasharray="2 0.9"/>
<line x1="616" y1="307.84" x2="626.1" y2="311.8" stroke="#111" stroke-width="0.7" stroke-dasharray="2 0.9"/>
<line x1="616" y1="312.11" x2="626.1" y2="336.39" stroke="#111" stroke-width="0.7" stroke-dasharray="2 0.9"/>
<line x1="616" y1="315.51" x2="626.1" y2="279.4" stroke="#111" stroke-width="0.7" stroke-dasharray="2 0.9"/>
<line x1="616" y1="317.78" x2="626.1" y2="343.39" stroke="#111" stroke-width="0.7" stroke-dasharray="2 0.9"/>
<line x1="616" y1="319.43" x2="626.1" y2="324.12" stroke="#111" stroke-width="0.7" stroke-dasharray="2 0.9"/>
<line x1="616" y1="323.83" x2="626.1" y2="313.7" stroke="#111" stroke-width="0.7" stroke-dasharray="2 0.9"/>
<line x1="616" y1="325.1" x2="626.1" y2="357.85" stroke="#111" stroke-width="0.7" stroke-dasharray="2 0.9"/>
<line x1="616" y1="327.68" x2="626.1" y2="309.65" stroke="#111" stroke-width="0.7" stroke-dasharray="2 0.9"/>
<line x1="616" y1="332.4" x2="626.1" y2="349" stroke="#111" stroke-width="0.7" stroke-dasharray="2 0.9"/>
<line x1="616" y1="334.45" x2="626.1" y2="330.67" stroke="#111" stroke-width="0.7" stroke-dasharray="2 0.9"/>
<line x1="616" y1="337.46" x2="626.1" y2="354.33" stroke="#111" stroke-width="0.7" stroke-dasharray="2 0.9"/>
<line x1="616" y1="340.22" x2="626.1" y2="358.8" stroke="#111" stroke-width="0.7" stroke-dasharray="2 0.9"/>
<line x1="616" y1="343.94" x2="626.1" y2="361.5" stroke="#111" stroke-width="0.7" stroke-dasharray="2 0.9"/>
<line x1="616" y1="345.33" x2="626.1" y2="320.6" stroke="#111" stroke-width="0.7" stroke-dasharray="2 0.9"/>
<line x1="616" y1="349.21" x2="626.1" y2="342" stroke="#111" stroke-width="0.7" stroke-dasharray="2 0.9"/>
<line x1="616" y1="351.64" x2="626.1" y2="364.7" stroke="#111" stroke-width="0.7" stroke-dasharray="2 0.9"/>
<path d="M616 271.3V269H626.1V271.3" fill="none" stroke="#000" stroke-width="1.1"/>
<text x="621.05" y="270" font-size="8.6" text-anchor="middle" fill="#000" style="stroke-width:0.15px">*</text>
<circle cx="59.4" cy="279.5" r="1.95" fill="#4DBBD5"/>
<circle cx="59.4" cy="285.5" r="1.95" fill="#4DBBD5"/>
<circle cx="59.4" cy="291" r="1.95" fill="#4DBBD5"/>
<circle cx="59.4" cy="291.7" r="1.95" fill="#4DBBD5"/>
<circle cx="59.4" cy="298.3" r="1.95" fill="#4DBBD5"/>
<circle cx="59.4" cy="299.3" r="1.95" fill="#4DBBD5"/>
<circle cx="59.4" cy="305" r="1.95" fill="#4DBBD5"/>
<circle cx="59.4" cy="306.6" r="1.95" fill="#4DBBD5"/>
<circle cx="59.4" cy="344.7" r="1.95" fill="#4DBBD5"/>
<circle cx="59.4" cy="351.4" r="1.95" fill="#4DBBD5"/>
<circle cx="59.4" cy="318.18" r="1.95" fill="#4DBBD5"/>
<circle cx="59.4" cy="319.67" r="1.95" fill="#4DBBD5"/>
<circle cx="59.4" cy="322.37" r="1.95" fill="#4DBBD5"/>
<circle cx="59.4" cy="323.13" r="1.95" fill="#4DBBD5"/>
<circle cx="59.4" cy="325.76" r="1.95" fill="#4DBBD5"/>
<circle cx="59.4" cy="327.26" r="1.95" fill="#4DBBD5"/>
<circle cx="59.4" cy="328.5" r="1.95" fill="#4DBBD5"/>
<circle cx="59.4" cy="331.11" r="1.95" fill="#4DBBD5"/>
<circle cx="69.5" cy="256.4" r="1.95" fill="#E64B35"/>
<circle cx="69.5" cy="267" r="1.95" fill="#E64B35"/>
<circle cx="69.5" cy="279.5" r="1.95" fill="#E64B35"/>
<circle cx="69.5" cy="284" r="1.95" fill="#E64B35"/>
<circle cx="69.5" cy="287.3" r="1.95" fill="#E64B35"/>
<circle cx="69.5" cy="290" r="1.95" fill="#E64B35"/>
<circle cx="69.5" cy="294" r="1.95" fill="#E64B35"/>
<circle cx="69.5" cy="296.6" r="1.95" fill="#E64B35"/>
<circle cx="69.5" cy="326.4" r="1.95" fill="#E64B35"/>
<circle cx="69.5" cy="302.07" r="1.95" fill="#E64B35"/>
<circle cx="69.5" cy="304.66" r="1.95" fill="#E64B35"/>
<circle cx="69.5" cy="305.84" r="1.95" fill="#E64B35"/>
<circle cx="69.5" cy="307.73" r="1.95" fill="#E64B35"/>
<circle cx="69.5" cy="310.21" r="1.95" fill="#E64B35"/>
<circle cx="69.5" cy="312.81" r="1.95" fill="#E64B35"/>
<circle cx="69.5" cy="313.36" r="1.95" fill="#E64B35"/>
<circle cx="69.5" cy="315.4" r="1.95" fill="#E64B35"/>
<circle cx="69.5" cy="318.01" r="1.95" fill="#E64B35"/>
<circle cx="84.7" cy="268.66" r="1.95" fill="#4DBBD5"/>
<circle cx="84.7" cy="269.1" r="1.95" fill="#4DBBD5"/>
<circle cx="84.7" cy="269.67" r="1.95" fill="#4DBBD5"/>
<circle cx="84.7" cy="270.76" r="1.95" fill="#4DBBD5"/>
<circle cx="84.7" cy="270.81" r="1.95" fill="#4DBBD5"/>
<circle cx="84.7" cy="272.07" r="1.95" fill="#4DBBD5"/>
<circle cx="84.7" cy="272.37" r="1.95" fill="#4DBBD5"/>
<circle cx="84.7" cy="272.96" r="1.95" fill="#4DBBD5"/>
<circle cx="84.7" cy="273.64" r="1.95" fill="#4DBBD5"/>
<circle cx="84.7" cy="274.47" r="1.95" fill="#4DBBD5"/>
<circle cx="84.7" cy="275.51" r="1.95" fill="#4DBBD5"/>
<circle cx="84.7" cy="275.77" r="1.95" fill="#4DBBD5"/>
<circle cx="84.7" cy="276.74" r="1.95" fill="#4DBBD5"/>
<circle cx="84.7" cy="277.48" r="1.95" fill="#4DBBD5"/>
<circle cx="84.7" cy="277.99" r="1.95" fill="#4DBBD5"/>
<circle cx="84.7" cy="278.8" r="1.95" fill="#4DBBD5"/>
<circle cx="84.7" cy="279.16" r="1.95" fill="#4DBBD5"/>
<circle cx="84.7" cy="279.85" r="1.95" fill="#4DBBD5"/>
<circle cx="84.7" cy="280.65" r="1.95" fill="#4DBBD5"/>
<circle cx="84.7" cy="281.67" r="1.95" fill="#4DBBD5"/>
<circle cx="84.7" cy="282.19" r="1.95" fill="#4DBBD5"/>
<circle cx="84.7" cy="282.81" r="1.95" fill="#4DBBD5"/>
<circle cx="84.7" cy="283.69" r="1.95" fill="#4DBBD5"/>
<circle cx="84.7" cy="284.29" r="1.95" fill="#4DBBD5"/>
<circle cx="84.7" cy="284.88" r="1.95" fill="#4DBBD5"/>
<circle cx="84.7" cy="285.92" r="1.95" fill="#4DBBD5"/>
<circle cx="84.7" cy="286.55" r="1.95" fill="#4DBBD5"/>
<circle cx="84.7" cy="286.93" r="1.95" fill="#4DBBD5"/>
<circle cx="84.7" cy="287.85" r="1.95" fill="#4DBBD5"/>
<circle cx="84.7" cy="288.51" r="1.95" fill="#4DBBD5"/>
<circle cx="84.7" cy="289.45" r="1.95" fill="#4DBBD5"/>
<circle cx="84.7" cy="290.04" r="1.95" fill="#4DBBD5"/>
<circle cx="84.7" cy="290.43" r="1.95" fill="#4DBBD5"/>
<circle cx="84.7" cy="291.61" r="1.95" fill="#4DBBD5"/>
<circle cx="84.7" cy="291.7" r="1.95" fill="#4DBBD5"/>
<circle cx="84.7" cy="292.61" r="1.95" fill="#4DBBD5"/>
<circle cx="84.7" cy="293.54" r="1.95" fill="#4DBBD5"/>
<circle cx="84.7" cy="293.81" r="1.95" fill="#4DBBD5"/>
<circle cx="84.7" cy="294.74" r="1.95" fill="#4DBBD5"/>
<circle cx="84.7" cy="295.12" r="1.95" fill="#4DBBD5"/>
<circle cx="84.7" cy="296.25" r="1.95" fill="#4DBBD5"/>
<circle cx="84.7" cy="297.02" r="1.95" fill="#4DBBD5"/>
<circle cx="84.7" cy="297.58" r="1.95" fill="#4DBBD5"/>
<circle cx="84.7" cy="298.48" r="1.95" fill="#4DBBD5"/>
<circle cx="84.7" cy="298.79" r="1.95" fill="#4DBBD5"/>
<circle cx="84.7" cy="299.75" r="1.95" fill="#4DBBD5"/>
<circle cx="84.7" cy="300.37" r="1.95" fill="#4DBBD5"/>
<circle cx="84.7" cy="301.06" r="1.95" fill="#4DBBD5"/>
<circle cx="84.7" cy="301.66" r="1.95" fill="#4DBBD5"/>
<circle cx="84.7" cy="302.63" r="1.95" fill="#4DBBD5"/>
<circle cx="84.7" cy="303.39" r="1.95" fill="#4DBBD5"/>
<circle cx="84.7" cy="303.76" r="1.95" fill="#4DBBD5"/>
<circle cx="84.7" cy="304.59" r="1.95" fill="#4DBBD5"/>
<circle cx="84.7" cy="304.86" r="1.95" fill="#4DBBD5"/>
<circle cx="84.7" cy="306" r="1.95" fill="#4DBBD5"/>
<circle cx="84.7" cy="306.66" r="1.95" fill="#4DBBD5"/>
<circle cx="84.7" cy="307.6" r="1.95" fill="#4DBBD5"/>
<circle cx="84.7" cy="308.17" r="1.95" fill="#4DBBD5"/>
<circle cx="84.7" cy="308.49" r="1.95" fill="#4DBBD5"/>
<circle cx="84.7" cy="309.26" r="1.95" fill="#4DBBD5"/>
<circle cx="84.7" cy="310.15" r="1.95" fill="#4DBBD5"/>
<circle cx="84.7" cy="310.39" r="1.95" fill="#4DBBD5"/>
<circle cx="84.7" cy="311.39" r="1.95" fill="#4DBBD5"/>
<circle cx="84.7" cy="311.89" r="1.95" fill="#4DBBD5"/>
<circle cx="84.7" cy="312.54" r="1.95" fill="#4DBBD5"/>
<circle cx="84.7" cy="313.2" r="1.95" fill="#4DBBD5"/>
<circle cx="84.7" cy="314.39" r="1.95" fill="#4DBBD5"/>
<circle cx="84.7" cy="314.64" r="1.95" fill="#4DBBD5"/>
<circle cx="84.7" cy="315.41" r="1.95" fill="#4DBBD5"/>
<circle cx="84.7" cy="316.21" r="1.95" fill="#4DBBD5"/>
<circle cx="84.7" cy="317.24" r="1.95" fill="#4DBBD5"/>
<circle cx="84.7" cy="317.38" r="1.95" fill="#4DBBD5"/>
<circle cx="84.7" cy="318.33" r="1.95" fill="#4DBBD5"/>
<circle cx="84.7" cy="319.1" r="1.95" fill="#4DBBD5"/>
<circle cx="84.7" cy="320.02" r="1.95" fill="#4DBBD5"/>
<circle cx="84.7" cy="320.67" r="1.95" fill="#4DBBD5"/>
<circle cx="84.7" cy="321.4" r="1.95" fill="#4DBBD5"/>
<circle cx="84.7" cy="321.69" r="1.95" fill="#4DBBD5"/>
<circle cx="84.7" cy="322.48" r="1.95" fill="#4DBBD5"/>
<circle cx="84.7" cy="323.13" r="1.95" fill="#4DBBD5"/>
<circle cx="84.7" cy="324.19" r="1.95" fill="#4DBBD5"/>
<circle cx="84.7" cy="324.94" r="1.95" fill="#4DBBD5"/>
<circle cx="84.7" cy="325.07" r="1.95" fill="#4DBBD5"/>
<circle cx="84.7" cy="325.79" r="1.95" fill="#4DBBD5"/>
<circle cx="84.7" cy="326.52" r="1.95" fill="#4DBBD5"/>
<circle cx="84.7" cy="327.21" r="1.95" fill="#4DBBD5"/>
<circle cx="84.7" cy="328.08" r="1.95" fill="#4DBBD5"/>
<circle cx="84.7" cy="328.85" r="1.95" fill="#4DBBD5"/>
<circle cx="84.7" cy="329.32" r="1.95" fill="#4DBBD5"/>
<circle cx="84.7" cy="329.83" r="1.95" fill="#4DBBD5"/>
<circle cx="84.7" cy="330.82" r="1.95" fill="#4DBBD5"/>
<circle cx="84.7" cy="331.48" r="1.95" fill="#4DBBD5"/>
<circle cx="84.7" cy="332.31" r="1.95" fill="#4DBBD5"/>
<circle cx="84.7" cy="333.27" r="1.95" fill="#4DBBD5"/>
<circle cx="84.7" cy="333.78" r="1.95" fill="#4DBBD5"/>
<circle cx="84.7" cy="335.1" r="1.95" fill="#4DBBD5"/>
<circle cx="84.7" cy="337.44" r="1.95" fill="#4DBBD5"/>
<circle cx="84.7" cy="339.69" r="1.95" fill="#4DBBD5"/>
<circle cx="84.7" cy="340.49" r="1.95" fill="#4DBBD5"/>
<circle cx="84.7" cy="344.41" r="1.95" fill="#4DBBD5"/>
<circle cx="84.7" cy="346.28" r="1.95" fill="#4DBBD5"/>
<circle cx="84.7" cy="348.61" r="1.95" fill="#4DBBD5"/>
<circle cx="84.7" cy="350.57" r="1.95" fill="#4DBBD5"/>
<circle cx="84.7" cy="351.83" r="1.95" fill="#4DBBD5"/>
<circle cx="84.7" cy="353.97" r="1.95" fill="#4DBBD5"/>
<circle cx="84.7" cy="355.47" r="1.95" fill="#4DBBD5"/>
<circle cx="84.7" cy="358.72" r="1.95" fill="#4DBBD5"/>
<circle cx="84.7" cy="359.5" r="1.95" fill="#4DBBD5"/>
<circle cx="94.8" cy="232.7" r="1.95" fill="#E64B35"/>
<circle cx="94.8" cy="254.2" r="1.95" fill="#E64B35"/>
<circle cx="94.8" cy="262.3" r="1.95" fill="#E64B35"/>
<circle cx="94.8" cy="270.04" r="1.95" fill="#E64B35"/>
<circle cx="94.8" cy="270.68" r="1.95" fill="#E64B35"/>
<circle cx="94.8" cy="271.41" r="1.95" fill="#E64B35"/>
<circle cx="94.8" cy="272.02" r="1.95" fill="#E64B35"/>
<circle cx="94.8" cy="272.78" r="1.95" fill="#E64B35"/>
<circle cx="94.8" cy="273.23" r="1.95" fill="#E64B35"/>
<circle cx="94.8" cy="273.84" r="1.95" fill="#E64B35"/>
<circle cx="94.8" cy="274.58" r="1.95" fill="#E64B35"/>
<circle cx="94.8" cy="275.18" r="1.95" fill="#E64B35"/>
<circle cx="94.8" cy="275.99" r="1.95" fill="#E64B35"/>
<circle cx="94.8" cy="276.42" r="1.95" fill="#E64B35"/>
<circle cx="94.8" cy="277.6" r="1.95" fill="#E64B35"/>
<circle cx="94.8" cy="278.07" r="1.95" fill="#E64B35"/>
<circle cx="94.8" cy="278.42" r="1.95" fill="#E64B35"/>
<circle cx="94.8" cy="279.12" r="1.95" fill="#E64B35"/>
<circle cx="94.8" cy="279.82" r="1.95" fill="#E64B35"/>
<circle cx="94.8" cy="280.47" r="1.95" fill="#E64B35"/>
<circle cx="94.8" cy="280.96" r="1.95" fill="#E64B35"/>
<circle cx="94.8" cy="282.06" r="1.95" fill="#E64B35"/>
<circle cx="94.8" cy="282.8" r="1.95" fill="#E64B35"/>
<circle cx="94.8" cy="283.1" r="1.95" fill="#E64B35"/>
<circle cx="94.8" cy="283.75" r="1.95" fill="#E64B35"/>
<circle cx="94.8" cy="284.13" r="1.95" fill="#E64B35"/>
<circle cx="94.8" cy="284.79" r="1.95" fill="#E64B35"/>
<circle cx="94.8" cy="285.58" r="1.95" fill="#E64B35"/>
<circle cx="94.8" cy="286.17" r="1.95" fill="#E64B35"/>
<circle cx="94.8" cy="287.17" r="1.95" fill="#E64B35"/>
<circle cx="94.8" cy="287.38" r="1.95" fill="#E64B35"/>
<circle cx="94.8" cy="287.93" r="1.95" fill="#E64B35"/>
<circle cx="94.8" cy="289.17" r="1.95" fill="#E64B35"/>
<circle cx="94.8" cy="289.54" r="1.95" fill="#E64B35"/>
<circle cx="94.8" cy="289.93" r="1.95" fill="#E64B35"/>
<circle cx="94.8" cy="290.83" r="1.95" fill="#E64B35"/>
<circle cx="94.8" cy="291.14" r="1.95" fill="#E64B35"/>
<circle cx="94.8" cy="292.1" r="1.95" fill="#E64B35"/>
<circle cx="94.8" cy="293.03" r="1.95" fill="#E64B35"/>
<circle cx="94.8" cy="293.59" r="1.95" fill="#E64B35"/>
<circle cx="94.8" cy="294.13" r="1.95" fill="#E64B35"/>
<circle cx="94.8" cy="294.49" r="1.95" fill="#E64B35"/>
<circle cx="94.8" cy="295.19" r="1.95" fill="#E64B35"/>
<circle cx="94.8" cy="295.71" r="1.95" fill="#E64B35"/>
<circle cx="94.8" cy="296.73" r="1.95" fill="#E64B35"/>
<circle cx="94.8" cy="297.22" r="1.95" fill="#E64B35"/>
<circle cx="94.8" cy="298.02" r="1.95" fill="#E64B35"/>
<circle cx="94.8" cy="298.37" r="1.95" fill="#E64B35"/>
<circle cx="94.8" cy="298.94" r="1.95" fill="#E64B35"/>
<circle cx="94.8" cy="299.96" r="1.95" fill="#E64B35"/>
<circle cx="94.8" cy="300.71" r="1.95" fill="#E64B35"/>
<circle cx="94.8" cy="301.27" r="1.95" fill="#E64B35"/>
<circle cx="94.8" cy="301.88" r="1.95" fill="#E64B35"/>
<circle cx="94.8" cy="302.52" r="1.95" fill="#E64B35"/>
<circle cx="94.8" cy="303.11" r="1.95" fill="#E64B35"/>
<circle cx="94.8" cy="303.43" r="1.95" fill="#E64B35"/>
<circle cx="94.8" cy="304.25" r="1.95" fill="#E64B35"/>
<circle cx="94.8" cy="304.79" r="1.95" fill="#E64B35"/>
<circle cx="94.8" cy="305.22" r="1.95" fill="#E64B35"/>
<circle cx="94.8" cy="305.86" r="1.95" fill="#E64B35"/>
<circle cx="94.8" cy="306.66" r="1.95" fill="#E64B35"/>
<circle cx="94.8" cy="307.29" r="1.95" fill="#E64B35"/>
<circle cx="94.8" cy="308.2" r="1.95" fill="#E64B35"/>
<circle cx="94.8" cy="309.01" r="1.95" fill="#E64B35"/>
<circle cx="94.8" cy="309.33" r="1.95" fill="#E64B35"/>
<circle cx="94.8" cy="310.28" r="1.95" fill="#E64B35"/>
<circle cx="94.8" cy="310.95" r="1.95" fill="#E64B35"/>
<circle cx="94.8" cy="311.57" r="1.95" fill="#E64B35"/>
<circle cx="94.8" cy="311.83" r="1.95" fill="#E64B35"/>
<circle cx="94.8" cy="312.38" r="1.95" fill="#E64B35"/>
<circle cx="94.8" cy="313.03" r="1.95" fill="#E64B35"/>
<circle cx="94.8" cy="313.65" r="1.95" fill="#E64B35"/>
<circle cx="94.8" cy="314.29" r="1.95" fill="#E64B35"/>
<circle cx="94.8" cy="315.2" r="1.95" fill="#E64B35"/>
<circle cx="94.8" cy="316.02" r="1.95" fill="#E64B35"/>
<circle cx="94.8" cy="316.62" r="1.95" fill="#E64B35"/>
<circle cx="94.8" cy="317.03" r="1.95" fill="#E64B35"/>
<circle cx="94.8" cy="317.78" r="1.95" fill="#E64B35"/>
<circle cx="94.8" cy="318.51" r="1.95" fill="#E64B35"/>
<circle cx="94.8" cy="318.69" r="1.95" fill="#E64B35"/>
<circle cx="94.8" cy="319.7" r="1.95" fill="#E64B35"/>
<circle cx="94.8" cy="320.5" r="1.95" fill="#E64B35"/>
<circle cx="94.8" cy="321.06" r="1.95" fill="#E64B35"/>
<circle cx="94.8" cy="321.68" r="1.95" fill="#E64B35"/>
<circle cx="94.8" cy="322.15" r="1.95" fill="#E64B35"/>
<circle cx="94.8" cy="322.59" r="1.95" fill="#E64B35"/>
<circle cx="94.8" cy="323.63" r="1.95" fill="#E64B35"/>
<circle cx="94.8" cy="323.97" r="1.95" fill="#E64B35"/>
<circle cx="94.8" cy="324.91" r="1.95" fill="#E64B35"/>
<circle cx="94.8" cy="325.66" r="1.95" fill="#E64B35"/>
<circle cx="94.8" cy="325.93" r="1.95" fill="#E64B35"/>
<circle cx="94.8" cy="326.58" r="1.95" fill="#E64B35"/>
<circle cx="94.8" cy="327.57" r="1.95" fill="#E64B35"/>
<circle cx="94.8" cy="328.06" r="1.95" fill="#E64B35"/>
<circle cx="94.8" cy="328.35" r="1.95" fill="#E64B35"/>
<circle cx="94.8" cy="328.96" r="1.95" fill="#E64B35"/>
<circle cx="94.8" cy="329.62" r="1.95" fill="#E64B35"/>
<circle cx="94.8" cy="330.74" r="1.95" fill="#E64B35"/>
<circle cx="94.8" cy="331.32" r="1.95" fill="#E64B35"/>
<circle cx="94.8" cy="331.53" r="1.95" fill="#E64B35"/>
<circle cx="94.8" cy="332.61" r="1.95" fill="#E64B35"/>
<circle cx="94.8" cy="333.35" r="1.95" fill="#E64B35"/>
<circle cx="94.8" cy="333.78" r="1.95" fill="#E64B35"/>
<circle cx="94.8" cy="340.8" r="1.95" fill="#E64B35"/>
<circle cx="94.8" cy="355" r="1.95" fill="#E64B35"/>
<circle cx="94.8" cy="361.7" r="1.95" fill="#E64B35"/>
<circle cx="94.8" cy="335.93" r="1.95" fill="#E64B35"/>
<circle cx="94.8" cy="342.52" r="1.95" fill="#E64B35"/>
<circle cx="110" cy="325.8" r="1.95" fill="#4DBBD5"/>
<circle cx="110" cy="299.3" r="1.95" fill="#4DBBD5"/>
<circle cx="110" cy="288.4" r="1.95" fill="#4DBBD5"/>
<circle cx="120.1" cy="263" r="1.95" fill="#E64B35"/>
<circle cx="120.1" cy="288" r="1.95" fill="#E64B35"/>
<circle cx="120.1" cy="277.3" r="1.95" fill="#E64B35"/>
<circle cx="135.3" cy="340.3" r="1.95" fill="#4DBBD5"/>
<circle cx="135.3" cy="348.5" r="1.95" fill="#4DBBD5"/>
<circle cx="135.3" cy="360" r="1.95" fill="#4DBBD5"/>
<circle cx="135.3" cy="361.5" r="1.95" fill="#4DBBD5"/>
<circle cx="135.3" cy="363" r="1.95" fill="#4DBBD5"/>
<circle cx="135.3" cy="364" r="1.95" fill="#4DBBD5"/>
<circle cx="135.3" cy="365" r="1.95" fill="#4DBBD5"/>
<circle cx="135.3" cy="366.5" r="1.95" fill="#4DBBD5"/>
<circle cx="135.3" cy="367.5" r="1.95" fill="#4DBBD5"/>
<circle cx="145.4" cy="227.7" r="1.95" fill="#E64B35"/>
<circle cx="145.4" cy="237" r="1.95" fill="#E64B35"/>
<circle cx="145.4" cy="254.8" r="1.95" fill="#E64B35"/>
<circle cx="145.4" cy="261.4" r="1.95" fill="#E64B35"/>
<circle cx="145.4" cy="286.2" r="1.95" fill="#E64B35"/>
<circle cx="145.4" cy="320.9" r="1.95" fill="#E64B35"/>
<circle cx="145.4" cy="326.4" r="1.95" fill="#E64B35"/>
<circle cx="145.4" cy="330.8" r="1.95" fill="#E64B35"/>
<circle cx="145.4" cy="262.5" r="1.95" fill="#E64B35"/>
<circle cx="160.6" cy="322.7" r="1.95" fill="#4DBBD5"/>
<circle cx="160.6" cy="329.78" r="1.95" fill="#4DBBD5"/>
<circle cx="160.6" cy="330.29" r="1.95" fill="#4DBBD5"/>
<circle cx="160.6" cy="331.42" r="1.95" fill="#4DBBD5"/>
<circle cx="160.6" cy="331.82" r="1.95" fill="#4DBBD5"/>
<circle cx="160.6" cy="332.33" r="1.95" fill="#4DBBD5"/>
<circle cx="160.6" cy="333.14" r="1.95" fill="#4DBBD5"/>
<circle cx="160.6" cy="333.43" r="1.95" fill="#4DBBD5"/>
<circle cx="160.6" cy="334.27" r="1.95" fill="#4DBBD5"/>
<circle cx="160.6" cy="334.82" r="1.95" fill="#4DBBD5"/>
<circle cx="160.6" cy="335.04" r="1.95" fill="#4DBBD5"/>
<circle cx="160.6" cy="335.65" r="1.95" fill="#4DBBD5"/>
<circle cx="160.6" cy="336.25" r="1.95" fill="#4DBBD5"/>
<circle cx="160.6" cy="336.8" r="1.95" fill="#4DBBD5"/>
<circle cx="160.6" cy="337.58" r="1.95" fill="#4DBBD5"/>
<circle cx="160.6" cy="337.97" r="1.95" fill="#4DBBD5"/>
<circle cx="160.6" cy="338.64" r="1.95" fill="#4DBBD5"/>
<circle cx="160.6" cy="339.06" r="1.95" fill="#4DBBD5"/>
<circle cx="160.6" cy="340.09" r="1.95" fill="#4DBBD5"/>
<circle cx="160.6" cy="340.35" r="1.95" fill="#4DBBD5"/>
<circle cx="160.6" cy="340.99" r="1.95" fill="#4DBBD5"/>
<circle cx="160.6" cy="341.64" r="1.95" fill="#4DBBD5"/>
<circle cx="160.6" cy="342.4" r="1.95" fill="#4DBBD5"/>
<circle cx="160.6" cy="342.7" r="1.95" fill="#4DBBD5"/>
<circle cx="160.6" cy="343.57" r="1.95" fill="#4DBBD5"/>
<circle cx="160.6" cy="343.91" r="1.95" fill="#4DBBD5"/>
<circle cx="160.6" cy="344.51" r="1.95" fill="#4DBBD5"/>
<circle cx="160.6" cy="345.08" r="1.95" fill="#4DBBD5"/>
<circle cx="160.6" cy="345.37" r="1.95" fill="#4DBBD5"/>
<circle cx="160.6" cy="346.2" r="1.95" fill="#4DBBD5"/>
<circle cx="160.6" cy="346.63" r="1.95" fill="#4DBBD5"/>
<circle cx="160.6" cy="347.1" r="1.95" fill="#4DBBD5"/>
<circle cx="160.6" cy="348.14" r="1.95" fill="#4DBBD5"/>
<circle cx="160.6" cy="348.36" r="1.95" fill="#4DBBD5"/>
<circle cx="160.6" cy="349.11" r="1.95" fill="#4DBBD5"/>
<circle cx="160.6" cy="349.84" r="1.95" fill="#4DBBD5"/>
<circle cx="160.6" cy="350.32" r="1.95" fill="#4DBBD5"/>
<circle cx="160.6" cy="350.77" r="1.95" fill="#4DBBD5"/>
<circle cx="160.6" cy="351.46" r="1.95" fill="#4DBBD5"/>
<circle cx="160.6" cy="352.06" r="1.95" fill="#4DBBD5"/>
<circle cx="160.6" cy="352.77" r="1.95" fill="#4DBBD5"/>
<circle cx="170.7" cy="255.9" r="1.95" fill="#E64B35"/>
<circle cx="170.7" cy="257.5" r="1.95" fill="#E64B35"/>
<circle cx="170.7" cy="259" r="1.95" fill="#E64B35"/>
<circle cx="170.7" cy="260" r="1.95" fill="#E64B35"/>
<circle cx="170.7" cy="277.3" r="1.95" fill="#E64B35"/>
<circle cx="170.7" cy="282.8" r="1.95" fill="#E64B35"/>
<circle cx="170.7" cy="287.16" r="1.95" fill="#E64B35"/>
<circle cx="170.7" cy="289.32" r="1.95" fill="#E64B35"/>
<circle cx="170.7" cy="290.34" r="1.95" fill="#E64B35"/>
<circle cx="170.7" cy="291.87" r="1.95" fill="#E64B35"/>
<circle cx="170.7" cy="294.09" r="1.95" fill="#E64B35"/>
<circle cx="170.7" cy="295.18" r="1.95" fill="#E64B35"/>
<circle cx="170.7" cy="296.75" r="1.95" fill="#E64B35"/>
<circle cx="170.7" cy="298.53" r="1.95" fill="#E64B35"/>
<circle cx="170.7" cy="300.24" r="1.95" fill="#E64B35"/>
<circle cx="170.7" cy="301.03" r="1.95" fill="#E64B35"/>
<circle cx="170.7" cy="302.76" r="1.95" fill="#E64B35"/>
<circle cx="170.7" cy="304.09" r="1.95" fill="#E64B35"/>
<circle cx="170.7" cy="305.58" r="1.95" fill="#E64B35"/>
<circle cx="170.7" cy="307.34" r="1.95" fill="#E64B35"/>
<circle cx="170.7" cy="308.47" r="1.95" fill="#E64B35"/>
<circle cx="170.7" cy="310.07" r="1.95" fill="#E64B35"/>
<circle cx="170.7" cy="311.47" r="1.95" fill="#E64B35"/>
<circle cx="170.7" cy="313.65" r="1.95" fill="#E64B35"/>
<circle cx="170.7" cy="314.77" r="1.95" fill="#E64B35"/>
<circle cx="170.7" cy="316.52" r="1.95" fill="#E64B35"/>
<circle cx="170.7" cy="318.11" r="1.95" fill="#E64B35"/>
<circle cx="170.7" cy="318.58" r="1.95" fill="#E64B35"/>
<circle cx="170.7" cy="320.51" r="1.95" fill="#E64B35"/>
<circle cx="170.7" cy="322.56" r="1.95" fill="#E64B35"/>
<circle cx="170.7" cy="323.89" r="1.95" fill="#E64B35"/>
<circle cx="170.7" cy="324.34" r="1.95" fill="#E64B35"/>
<circle cx="170.7" cy="325.8" r="1.95" fill="#E64B35"/>
<circle cx="170.7" cy="327.76" r="1.95" fill="#E64B35"/>
<circle cx="170.7" cy="328.7" r="1.95" fill="#E64B35"/>
<circle cx="170.7" cy="330.43" r="1.95" fill="#E64B35"/>
<circle cx="170.7" cy="331.67" r="1.95" fill="#E64B35"/>
<circle cx="170.7" cy="334.04" r="1.95" fill="#E64B35"/>
<circle cx="170.7" cy="335.69" r="1.95" fill="#E64B35"/>
<circle cx="170.7" cy="337.35" r="1.95" fill="#E64B35"/>
<circle cx="170.7" cy="341.9" r="1.95" fill="#E64B35"/>
<circle cx="185.9" cy="251.3" r="1.95" fill="#4DBBD5"/>
<circle cx="185.9" cy="288.4" r="1.95" fill="#4DBBD5"/>
<circle cx="185.9" cy="319.8" r="1.95" fill="#4DBBD5"/>
<circle cx="185.9" cy="324.2" r="1.95" fill="#4DBBD5"/>
<circle cx="185.9" cy="337.5" r="1.95" fill="#4DBBD5"/>
<circle cx="185.9" cy="343" r="1.95" fill="#4DBBD5"/>
<circle cx="185.9" cy="357" r="1.95" fill="#4DBBD5"/>
<circle cx="185.9" cy="361.7" r="1.95" fill="#4DBBD5"/>
<circle cx="196" cy="241.3" r="1.95" fill="#E64B35"/>
<circle cx="196" cy="265.2" r="1.95" fill="#E64B35"/>
<circle cx="196" cy="340.8" r="1.95" fill="#E64B35"/>
<circle cx="196" cy="290" r="1.95" fill="#E64B35"/>
<circle cx="196" cy="302.1" r="1.95" fill="#E64B35"/>
<circle cx="196" cy="319.8" r="1.95" fill="#E64B35"/>
<circle cx="196" cy="329.7" r="1.95" fill="#E64B35"/>
<circle cx="196" cy="325.3" r="1.95" fill="#E64B35"/>
<circle cx="211.2" cy="246.9" r="1.95" fill="#4DBBD5"/>
<circle cx="211.2" cy="263" r="1.95" fill="#4DBBD5"/>
<circle cx="211.2" cy="267" r="1.95" fill="#4DBBD5"/>
<circle cx="211.2" cy="271" r="1.95" fill="#4DBBD5"/>
<circle cx="211.2" cy="276" r="1.95" fill="#4DBBD5"/>
<circle cx="211.2" cy="282.95" r="1.95" fill="#4DBBD5"/>
<circle cx="211.2" cy="284.47" r="1.95" fill="#4DBBD5"/>
<circle cx="211.2" cy="285.39" r="1.95" fill="#4DBBD5"/>
<circle cx="211.2" cy="285.86" r="1.95" fill="#4DBBD5"/>
<circle cx="211.2" cy="287.55" r="1.95" fill="#4DBBD5"/>
<circle cx="211.2" cy="288.61" r="1.95" fill="#4DBBD5"/>
<circle cx="211.2" cy="288.85" r="1.95" fill="#4DBBD5"/>
<circle cx="211.2" cy="290.54" r="1.95" fill="#4DBBD5"/>
<circle cx="211.2" cy="290.97" r="1.95" fill="#4DBBD5"/>
<circle cx="211.2" cy="292.03" r="1.95" fill="#4DBBD5"/>
<circle cx="211.2" cy="293.5" r="1.95" fill="#4DBBD5"/>
<circle cx="211.2" cy="294.32" r="1.95" fill="#4DBBD5"/>
<circle cx="211.2" cy="294.64" r="1.95" fill="#4DBBD5"/>
<circle cx="211.2" cy="295.87" r="1.95" fill="#4DBBD5"/>
<circle cx="211.2" cy="296.93" r="1.95" fill="#4DBBD5"/>
<circle cx="211.2" cy="297.73" r="1.95" fill="#4DBBD5"/>
<circle cx="211.2" cy="298.56" r="1.95" fill="#4DBBD5"/>
<circle cx="211.2" cy="299.66" r="1.95" fill="#4DBBD5"/>
<circle cx="211.2" cy="301.02" r="1.95" fill="#4DBBD5"/>
<circle cx="211.2" cy="301.31" r="1.95" fill="#4DBBD5"/>
<circle cx="211.2" cy="302.81" r="1.95" fill="#4DBBD5"/>
<circle cx="211.2" cy="303.67" r="1.95" fill="#4DBBD5"/>
<circle cx="211.2" cy="304.23" r="1.95" fill="#4DBBD5"/>
<circle cx="211.2" cy="305.51" r="1.95" fill="#4DBBD5"/>
<circle cx="211.2" cy="306.77" r="1.95" fill="#4DBBD5"/>
<circle cx="211.2" cy="307.63" r="1.95" fill="#4DBBD5"/>
<circle cx="211.2" cy="308.17" r="1.95" fill="#4DBBD5"/>
<circle cx="211.2" cy="310.04" r="1.95" fill="#4DBBD5"/>
<circle cx="211.2" cy="310.82" r="1.95" fill="#4DBBD5"/>
<circle cx="211.2" cy="311.97" r="1.95" fill="#4DBBD5"/>
<circle cx="211.2" cy="316" r="1.95" fill="#4DBBD5"/>
<circle cx="211.2" cy="318.5" r="1.95" fill="#4DBBD5"/>
<circle cx="211.2" cy="321" r="1.95" fill="#4DBBD5"/>
<circle cx="211.2" cy="327.5" r="1.95" fill="#4DBBD5"/>
<circle cx="211.2" cy="337.5" r="1.95" fill="#4DBBD5"/>
<circle cx="221.3" cy="233.2" r="1.95" fill="#E64B35"/>
<circle cx="221.3" cy="240.63" r="1.95" fill="#E64B35"/>
<circle cx="221.3" cy="242.1" r="1.95" fill="#E64B35"/>
<circle cx="221.3" cy="243.07" r="1.95" fill="#E64B35"/>
<circle cx="221.3" cy="245.27" r="1.95" fill="#E64B35"/>
<circle cx="221.3" cy="245.89" r="1.95" fill="#E64B35"/>
<circle cx="221.3" cy="246.98" r="1.95" fill="#E64B35"/>
<circle cx="221.3" cy="248.61" r="1.95" fill="#E64B35"/>
<circle cx="221.3" cy="250.49" r="1.95" fill="#E64B35"/>
<circle cx="221.3" cy="251.63" r="1.95" fill="#E64B35"/>
<circle cx="221.3" cy="252.19" r="1.95" fill="#E64B35"/>
<circle cx="221.3" cy="253.31" r="1.95" fill="#E64B35"/>
<circle cx="221.3" cy="255.55" r="1.95" fill="#E64B35"/>
<circle cx="221.3" cy="256.37" r="1.95" fill="#E64B35"/>
<circle cx="221.3" cy="257.8" r="1.95" fill="#E64B35"/>
<circle cx="221.3" cy="258.29" r="1.95" fill="#E64B35"/>
<circle cx="221.3" cy="259.51" r="1.95" fill="#E64B35"/>
<circle cx="221.3" cy="261.57" r="1.95" fill="#E64B35"/>
<circle cx="221.3" cy="262.5" r="1.95" fill="#E64B35"/>
<circle cx="221.3" cy="263.32" r="1.95" fill="#E64B35"/>
<circle cx="221.3" cy="265.67" r="1.95" fill="#E64B35"/>
<circle cx="221.3" cy="266.55" r="1.95" fill="#E64B35"/>
<circle cx="221.3" cy="268.02" r="1.95" fill="#E64B35"/>
<circle cx="221.3" cy="268.38" r="1.95" fill="#E64B35"/>
<circle cx="221.3" cy="270.62" r="1.95" fill="#E64B35"/>
<circle cx="221.3" cy="270.88" r="1.95" fill="#E64B35"/>
<circle cx="221.3" cy="273.15" r="1.95" fill="#E64B35"/>
<circle cx="221.3" cy="273.9" r="1.95" fill="#E64B35"/>
<circle cx="221.3" cy="275.02" r="1.95" fill="#E64B35"/>
<circle cx="221.3" cy="276.55" r="1.95" fill="#E64B35"/>
<circle cx="221.3" cy="278.28" r="1.95" fill="#E64B35"/>
<circle cx="221.3" cy="278.71" r="1.95" fill="#E64B35"/>
<circle cx="221.3" cy="279.8" r="1.95" fill="#E64B35"/>
<circle cx="221.3" cy="281.57" r="1.95" fill="#E64B35"/>
<circle cx="221.3" cy="282.46" r="1.95" fill="#E64B35"/>
<circle cx="221.3" cy="283.56" r="1.95" fill="#E64B35"/>
<circle cx="221.3" cy="284.89" r="1.95" fill="#E64B35"/>
<circle cx="221.3" cy="286.01" r="1.95" fill="#E64B35"/>
<circle cx="221.3" cy="287.47" r="1.95" fill="#E64B35"/>
<circle cx="221.3" cy="288.87" r="1.95" fill="#E64B35"/>
<circle cx="221.3" cy="290.12" r="1.95" fill="#E64B35"/>
<circle cx="221.3" cy="311.4" r="1.95" fill="#E64B35"/>
<circle cx="236.5" cy="281.7" r="1.95" fill="#4DBBD5"/>
<circle cx="236.5" cy="290" r="1.95" fill="#4DBBD5"/>
<circle cx="236.5" cy="301" r="1.95" fill="#4DBBD5"/>
<circle cx="236.5" cy="303.5" r="1.95" fill="#4DBBD5"/>
<circle cx="236.5" cy="306.5" r="1.95" fill="#4DBBD5"/>
<circle cx="236.5" cy="323.1" r="1.95" fill="#4DBBD5"/>
<circle cx="236.5" cy="332.06" r="1.95" fill="#4DBBD5"/>
<circle cx="236.5" cy="332.94" r="1.95" fill="#4DBBD5"/>
<circle cx="236.5" cy="334.94" r="1.95" fill="#4DBBD5"/>
<circle cx="236.5" cy="336.06" r="1.95" fill="#4DBBD5"/>
<circle cx="236.5" cy="338" r="1.95" fill="#4DBBD5"/>
<circle cx="236.5" cy="339.11" r="1.95" fill="#4DBBD5"/>
<circle cx="236.5" cy="341.15" r="1.95" fill="#4DBBD5"/>
<circle cx="236.5" cy="342.41" r="1.95" fill="#4DBBD5"/>
<circle cx="236.5" cy="345.26" r="1.95" fill="#4DBBD5"/>
<circle cx="236.5" cy="346.61" r="1.95" fill="#4DBBD5"/>
<circle cx="236.5" cy="347.67" r="1.95" fill="#4DBBD5"/>
<circle cx="236.5" cy="349.8" r="1.95" fill="#4DBBD5"/>
<circle cx="236.5" cy="352.21" r="1.95" fill="#4DBBD5"/>
<circle cx="236.5" cy="352.5" r="1.95" fill="#4DBBD5"/>
<circle cx="236.5" cy="355.33" r="1.95" fill="#4DBBD5"/>
<circle cx="236.5" cy="356.35" r="1.95" fill="#4DBBD5"/>
<circle cx="236.5" cy="358.11" r="1.95" fill="#4DBBD5"/>
<circle cx="236.5" cy="360.33" r="1.95" fill="#4DBBD5"/>
<circle cx="246.6" cy="240.9" r="1.95" fill="#E64B35"/>
<circle cx="246.6" cy="335.88" r="1.95" fill="#E64B35"/>
<circle cx="246.6" cy="337.54" r="1.95" fill="#E64B35"/>
<circle cx="246.6" cy="339.3" r="1.95" fill="#E64B35"/>
<circle cx="246.6" cy="341.22" r="1.95" fill="#E64B35"/>
<circle cx="246.6" cy="341.76" r="1.95" fill="#E64B35"/>
<circle cx="246.6" cy="343.97" r="1.95" fill="#E64B35"/>
<circle cx="246.6" cy="345.27" r="1.95" fill="#E64B35"/>
<circle cx="246.6" cy="346.65" r="1.95" fill="#E64B35"/>
<circle cx="246.6" cy="347.8" r="1.95" fill="#E64B35"/>
<circle cx="246.6" cy="349.2" r="1.95" fill="#E64B35"/>
<circle cx="246.6" cy="350.25" r="1.95" fill="#E64B35"/>
<circle cx="246.6" cy="351.85" r="1.95" fill="#E64B35"/>
<circle cx="246.6" cy="353.25" r="1.95" fill="#E64B35"/>
<circle cx="246.6" cy="355.73" r="1.95" fill="#E64B35"/>
<circle cx="246.6" cy="356.5" r="1.95" fill="#E64B35"/>
<circle cx="246.6" cy="357.85" r="1.95" fill="#E64B35"/>
<circle cx="246.6" cy="359.22" r="1.95" fill="#E64B35"/>
<circle cx="246.6" cy="361.83" r="1.95" fill="#E64B35"/>
<circle cx="246.6" cy="363.36" r="1.95" fill="#E64B35"/>
<circle cx="246.6" cy="364.55" r="1.95" fill="#E64B35"/>
<circle cx="246.6" cy="365.46" r="1.95" fill="#E64B35"/>
<circle cx="246.6" cy="366.89" r="1.95" fill="#E64B35"/>
<circle cx="246.6" cy="368.45" r="1.95" fill="#E64B35"/>
<circle cx="261.8" cy="301" r="1.95" fill="#4DBBD5"/>
<circle cx="261.8" cy="313.2" r="1.95" fill="#4DBBD5"/>
<circle cx="261.8" cy="319.8" r="1.95" fill="#4DBBD5"/>
<circle cx="261.8" cy="324.51" r="1.95" fill="#4DBBD5"/>
<circle cx="261.8" cy="324.98" r="1.95" fill="#4DBBD5"/>
<circle cx="261.8" cy="325.84" r="1.95" fill="#4DBBD5"/>
<circle cx="261.8" cy="326.39" r="1.95" fill="#4DBBD5"/>
<circle cx="261.8" cy="327.54" r="1.95" fill="#4DBBD5"/>
<circle cx="261.8" cy="328.22" r="1.95" fill="#4DBBD5"/>
<circle cx="261.8" cy="328.6" r="1.95" fill="#4DBBD5"/>
<circle cx="261.8" cy="329.07" r="1.95" fill="#4DBBD5"/>
<circle cx="261.8" cy="330.23" r="1.95" fill="#4DBBD5"/>
<circle cx="261.8" cy="330.46" r="1.95" fill="#4DBBD5"/>
<circle cx="261.8" cy="331.16" r="1.95" fill="#4DBBD5"/>
<circle cx="261.8" cy="331.6" r="1.95" fill="#4DBBD5"/>
<circle cx="261.8" cy="332.53" r="1.95" fill="#4DBBD5"/>
<circle cx="261.8" cy="333.26" r="1.95" fill="#4DBBD5"/>
<circle cx="261.8" cy="333.95" r="1.95" fill="#4DBBD5"/>
<circle cx="261.8" cy="334.42" r="1.95" fill="#4DBBD5"/>
<circle cx="261.8" cy="335.3" r="1.95" fill="#4DBBD5"/>
<circle cx="261.8" cy="335.64" r="1.95" fill="#4DBBD5"/>
<circle cx="261.8" cy="336.48" r="1.95" fill="#4DBBD5"/>
<circle cx="261.8" cy="337.04" r="1.95" fill="#4DBBD5"/>
<circle cx="261.8" cy="337.92" r="1.95" fill="#4DBBD5"/>
<circle cx="261.8" cy="338.35" r="1.95" fill="#4DBBD5"/>
<circle cx="261.8" cy="339.01" r="1.95" fill="#4DBBD5"/>
<circle cx="261.8" cy="339.87" r="1.95" fill="#4DBBD5"/>
<circle cx="261.8" cy="340.5" r="1.95" fill="#4DBBD5"/>
<circle cx="261.8" cy="341.41" r="1.95" fill="#4DBBD5"/>
<circle cx="261.8" cy="342.04" r="1.95" fill="#4DBBD5"/>
<circle cx="261.8" cy="342.86" r="1.95" fill="#4DBBD5"/>
<circle cx="261.8" cy="343.47" r="1.95" fill="#4DBBD5"/>
<circle cx="261.8" cy="344.18" r="1.95" fill="#4DBBD5"/>
<circle cx="261.8" cy="344.97" r="1.95" fill="#4DBBD5"/>
<circle cx="261.8" cy="345.31" r="1.95" fill="#4DBBD5"/>
<circle cx="261.8" cy="345.94" r="1.95" fill="#4DBBD5"/>
<circle cx="261.8" cy="347.05" r="1.95" fill="#4DBBD5"/>
<circle cx="261.8" cy="347.16" r="1.95" fill="#4DBBD5"/>
<circle cx="261.8" cy="348.22" r="1.95" fill="#4DBBD5"/>
<circle cx="261.8" cy="348.84" r="1.95" fill="#4DBBD5"/>
<circle cx="261.8" cy="349.11" r="1.95" fill="#4DBBD5"/>
<circle cx="261.8" cy="350.32" r="1.95" fill="#4DBBD5"/>
<circle cx="261.8" cy="351.03" r="1.95" fill="#4DBBD5"/>
<circle cx="261.8" cy="351.52" r="1.95" fill="#4DBBD5"/>
<circle cx="261.8" cy="352.26" r="1.95" fill="#4DBBD5"/>
<circle cx="261.8" cy="352.99" r="1.95" fill="#4DBBD5"/>
<circle cx="261.8" cy="353.21" r="1.95" fill="#4DBBD5"/>
<circle cx="261.8" cy="354.14" r="1.95" fill="#4DBBD5"/>
<circle cx="261.8" cy="354.8" r="1.95" fill="#4DBBD5"/>
<circle cx="261.8" cy="355.69" r="1.95" fill="#4DBBD5"/>
<circle cx="261.8" cy="356.35" r="1.95" fill="#4DBBD5"/>
<circle cx="261.8" cy="357.03" r="1.95" fill="#4DBBD5"/>
<circle cx="261.8" cy="357.54" r="1.95" fill="#4DBBD5"/>
<circle cx="261.8" cy="358.42" r="1.95" fill="#4DBBD5"/>
<circle cx="261.8" cy="358.95" r="1.95" fill="#4DBBD5"/>
<circle cx="261.8" cy="359.63" r="1.95" fill="#4DBBD5"/>
<circle cx="261.8" cy="360" r="1.95" fill="#4DBBD5"/>
<circle cx="261.8" cy="360.53" r="1.95" fill="#4DBBD5"/>
<circle cx="261.8" cy="361.28" r="1.95" fill="#4DBBD5"/>
<circle cx="261.8" cy="362.1" r="1.95" fill="#4DBBD5"/>
<circle cx="261.8" cy="362.6" r="1.95" fill="#4DBBD5"/>
<circle cx="261.8" cy="363.76" r="1.95" fill="#4DBBD5"/>
<circle cx="261.8" cy="364.25" r="1.95" fill="#4DBBD5"/>
<circle cx="261.8" cy="364.97" r="1.95" fill="#4DBBD5"/>
<circle cx="261.8" cy="365.64" r="1.95" fill="#4DBBD5"/>
<circle cx="261.8" cy="366.35" r="1.95" fill="#4DBBD5"/>
<circle cx="261.8" cy="366.89" r="1.95" fill="#4DBBD5"/>
<circle cx="261.8" cy="367.24" r="1.95" fill="#4DBBD5"/>
<circle cx="261.8" cy="368.45" r="1.95" fill="#4DBBD5"/>
<circle cx="261.8" cy="369.09" r="1.95" fill="#4DBBD5"/>
<circle cx="261.8" cy="369.59" r="1.95" fill="#4DBBD5"/>
<circle cx="261.8" cy="370.29" r="1.95" fill="#4DBBD5"/>
<circle cx="271.9" cy="279.5" r="1.95" fill="#E64B35"/>
<circle cx="271.9" cy="302.62" r="1.95" fill="#E64B35"/>
<circle cx="271.9" cy="302.94" r="1.95" fill="#E64B35"/>
<circle cx="271.9" cy="304.25" r="1.95" fill="#E64B35"/>
<circle cx="271.9" cy="304.65" r="1.95" fill="#E64B35"/>
<circle cx="271.9" cy="305.29" r="1.95" fill="#E64B35"/>
<circle cx="271.9" cy="306.23" r="1.95" fill="#E64B35"/>
<circle cx="271.9" cy="307.38" r="1.95" fill="#E64B35"/>
<circle cx="271.9" cy="307.75" r="1.95" fill="#E64B35"/>
<circle cx="271.9" cy="308.95" r="1.95" fill="#E64B35"/>
<circle cx="271.9" cy="309.92" r="1.95" fill="#E64B35"/>
<circle cx="271.9" cy="310.33" r="1.95" fill="#E64B35"/>
<circle cx="271.9" cy="311.02" r="1.95" fill="#E64B35"/>
<circle cx="271.9" cy="311.88" r="1.95" fill="#E64B35"/>
<circle cx="271.9" cy="312.83" r="1.95" fill="#E64B35"/>
<circle cx="271.9" cy="313.68" r="1.95" fill="#E64B35"/>
<circle cx="271.9" cy="314.34" r="1.95" fill="#E64B35"/>
<circle cx="271.9" cy="315.15" r="1.95" fill="#E64B35"/>
<circle cx="271.9" cy="315.49" r="1.95" fill="#E64B35"/>
<circle cx="271.9" cy="316.33" r="1.95" fill="#E64B35"/>
<circle cx="271.9" cy="317.2" r="1.95" fill="#E64B35"/>
<circle cx="271.9" cy="318.36" r="1.95" fill="#E64B35"/>
<circle cx="271.9" cy="318.8" r="1.95" fill="#E64B35"/>
<circle cx="271.9" cy="319.79" r="1.95" fill="#E64B35"/>
<circle cx="271.9" cy="320.14" r="1.95" fill="#E64B35"/>
<circle cx="271.9" cy="320.96" r="1.95" fill="#E64B35"/>
<circle cx="271.9" cy="321.91" r="1.95" fill="#E64B35"/>
<circle cx="271.9" cy="323.01" r="1.95" fill="#E64B35"/>
<circle cx="271.9" cy="323.81" r="1.95" fill="#E64B35"/>
<circle cx="271.9" cy="324.58" r="1.95" fill="#E64B35"/>
<circle cx="271.9" cy="325.07" r="1.95" fill="#E64B35"/>
<circle cx="271.9" cy="326.03" r="1.95" fill="#E64B35"/>
<circle cx="271.9" cy="326.77" r="1.95" fill="#E64B35"/>
<circle cx="271.9" cy="327.56" r="1.95" fill="#E64B35"/>
<circle cx="271.9" cy="328.07" r="1.95" fill="#E64B35"/>
<circle cx="271.9" cy="329.46" r="1.95" fill="#E64B35"/>
<circle cx="271.9" cy="329.7" r="1.95" fill="#E64B35"/>
<circle cx="271.9" cy="331.09" r="1.95" fill="#E64B35"/>
<circle cx="271.9" cy="331.84" r="1.95" fill="#E64B35"/>
<circle cx="271.9" cy="331.91" r="1.95" fill="#E64B35"/>
<circle cx="271.9" cy="333.04" r="1.95" fill="#E64B35"/>
<circle cx="271.9" cy="334.11" r="1.95" fill="#E64B35"/>
<circle cx="271.9" cy="335.01" r="1.95" fill="#E64B35"/>
<circle cx="271.9" cy="335.38" r="1.95" fill="#E64B35"/>
<circle cx="271.9" cy="336.03" r="1.95" fill="#E64B35"/>
<circle cx="271.9" cy="336.76" r="1.95" fill="#E64B35"/>
<circle cx="271.9" cy="338.12" r="1.95" fill="#E64B35"/>
<circle cx="271.9" cy="338.33" r="1.95" fill="#E64B35"/>
<circle cx="271.9" cy="339.41" r="1.95" fill="#E64B35"/>
<circle cx="271.9" cy="339.85" r="1.95" fill="#E64B35"/>
<circle cx="271.9" cy="340.93" r="1.95" fill="#E64B35"/>
<circle cx="271.9" cy="342.05" r="1.95" fill="#E64B35"/>
<circle cx="271.9" cy="342.19" r="1.95" fill="#E64B35"/>
<circle cx="271.9" cy="343.51" r="1.95" fill="#E64B35"/>
<circle cx="271.9" cy="344.05" r="1.95" fill="#E64B35"/>
<circle cx="271.9" cy="345.13" r="1.95" fill="#E64B35"/>
<circle cx="271.9" cy="345.77" r="1.95" fill="#E64B35"/>
<circle cx="271.9" cy="346.19" r="1.95" fill="#E64B35"/>
<circle cx="271.9" cy="347.5" r="1.95" fill="#E64B35"/>
<circle cx="271.9" cy="347.96" r="1.95" fill="#E64B35"/>
<circle cx="271.9" cy="348.38" r="1.95" fill="#E64B35"/>
<circle cx="271.9" cy="349.15" r="1.95" fill="#E64B35"/>
<circle cx="271.9" cy="350.31" r="1.95" fill="#E64B35"/>
<circle cx="271.9" cy="351.07" r="1.95" fill="#E64B35"/>
<circle cx="271.9" cy="351.73" r="1.95" fill="#E64B35"/>
<circle cx="271.9" cy="352.39" r="1.95" fill="#E64B35"/>
<circle cx="271.9" cy="353.33" r="1.95" fill="#E64B35"/>
<circle cx="271.9" cy="354.1" r="1.95" fill="#E64B35"/>
<circle cx="271.9" cy="355.29" r="1.95" fill="#E64B35"/>
<circle cx="271.9" cy="355.42" r="1.95" fill="#E64B35"/>
<circle cx="271.9" cy="362.8" r="1.95" fill="#E64B35"/>
<circle cx="271.9" cy="371.2" r="1.95" fill="#E64B35"/>
<circle cx="287.1" cy="302.1" r="1.95" fill="#4DBBD5"/>
<circle cx="287.1" cy="309.9" r="1.95" fill="#4DBBD5"/>
<circle cx="287.1" cy="317.6" r="1.95" fill="#4DBBD5"/>
<circle cx="287.1" cy="327.37" r="1.95" fill="#4DBBD5"/>
<circle cx="287.1" cy="328.78" r="1.95" fill="#4DBBD5"/>
<circle cx="287.1" cy="329.15" r="1.95" fill="#4DBBD5"/>
<circle cx="287.1" cy="331.49" r="1.95" fill="#4DBBD5"/>
<circle cx="287.1" cy="332.51" r="1.95" fill="#4DBBD5"/>
<circle cx="287.1" cy="334.05" r="1.95" fill="#4DBBD5"/>
<circle cx="287.1" cy="334.56" r="1.95" fill="#4DBBD5"/>
<circle cx="287.1" cy="335.96" r="1.95" fill="#4DBBD5"/>
<circle cx="287.1" cy="337.28" r="1.95" fill="#4DBBD5"/>
<circle cx="287.1" cy="339.36" r="1.95" fill="#4DBBD5"/>
<circle cx="287.1" cy="340.13" r="1.95" fill="#4DBBD5"/>
<circle cx="287.1" cy="341.13" r="1.95" fill="#4DBBD5"/>
<circle cx="287.1" cy="342.51" r="1.95" fill="#4DBBD5"/>
<circle cx="287.1" cy="343.61" r="1.95" fill="#4DBBD5"/>
<circle cx="287.1" cy="344.61" r="1.95" fill="#4DBBD5"/>
<circle cx="287.1" cy="345.98" r="1.95" fill="#4DBBD5"/>
<circle cx="287.1" cy="348.23" r="1.95" fill="#4DBBD5"/>
<circle cx="287.1" cy="348.81" r="1.95" fill="#4DBBD5"/>
<circle cx="287.1" cy="350.95" r="1.95" fill="#4DBBD5"/>
<circle cx="287.1" cy="351.36" r="1.95" fill="#4DBBD5"/>
<circle cx="287.1" cy="352.68" r="1.95" fill="#4DBBD5"/>
<circle cx="287.1" cy="354.29" r="1.95" fill="#4DBBD5"/>
<circle cx="287.1" cy="355.17" r="1.95" fill="#4DBBD5"/>
<circle cx="287.1" cy="356.7" r="1.95" fill="#4DBBD5"/>
<circle cx="287.1" cy="358.76" r="1.95" fill="#4DBBD5"/>
<circle cx="287.1" cy="359.96" r="1.95" fill="#4DBBD5"/>
<circle cx="287.1" cy="361.16" r="1.95" fill="#4DBBD5"/>
<circle cx="287.1" cy="362.22" r="1.95" fill="#4DBBD5"/>
<circle cx="287.1" cy="363.89" r="1.95" fill="#4DBBD5"/>
<circle cx="297.2" cy="257.5" r="1.95" fill="#E64B35"/>
<circle cx="297.2" cy="273.4" r="1.95" fill="#E64B35"/>
<circle cx="297.2" cy="282.34" r="1.95" fill="#E64B35"/>
<circle cx="297.2" cy="283.47" r="1.95" fill="#E64B35"/>
<circle cx="297.2" cy="285.63" r="1.95" fill="#E64B35"/>
<circle cx="297.2" cy="286.24" r="1.95" fill="#E64B35"/>
<circle cx="297.2" cy="289.35" r="1.95" fill="#E64B35"/>
<circle cx="297.2" cy="290.68" r="1.95" fill="#E64B35"/>
<circle cx="297.2" cy="301.55" r="1.95" fill="#E64B35"/>
<circle cx="297.2" cy="303.38" r="1.95" fill="#E64B35"/>
<circle cx="297.2" cy="304.7" r="1.95" fill="#E64B35"/>
<circle cx="297.2" cy="306.26" r="1.95" fill="#E64B35"/>
<circle cx="297.2" cy="310.12" r="1.95" fill="#E64B35"/>
<circle cx="297.2" cy="310.53" r="1.95" fill="#E64B35"/>
<circle cx="297.2" cy="313.3" r="1.95" fill="#E64B35"/>
<circle cx="297.2" cy="315.09" r="1.95" fill="#E64B35"/>
<circle cx="297.2" cy="317.05" r="1.95" fill="#E64B35"/>
<circle cx="297.2" cy="320.01" r="1.95" fill="#E64B35"/>
<circle cx="297.2" cy="322.55" r="1.95" fill="#E64B35"/>
<circle cx="297.2" cy="323.13" r="1.95" fill="#E64B35"/>
<circle cx="297.2" cy="326" r="1.95" fill="#E64B35"/>
<circle cx="297.2" cy="327.33" r="1.95" fill="#E64B35"/>
<circle cx="297.2" cy="329.91" r="1.95" fill="#E64B35"/>
<circle cx="297.2" cy="331.63" r="1.95" fill="#E64B35"/>
<circle cx="297.2" cy="333.22" r="1.95" fill="#E64B35"/>
<circle cx="297.2" cy="335.26" r="1.95" fill="#E64B35"/>
<circle cx="297.2" cy="337.41" r="1.95" fill="#E64B35"/>
<circle cx="297.2" cy="340.9" r="1.95" fill="#E64B35"/>
<circle cx="297.2" cy="342.11" r="1.95" fill="#E64B35"/>
<circle cx="297.2" cy="343.6" r="1.95" fill="#E64B35"/>
<circle cx="297.2" cy="362.8" r="1.95" fill="#E64B35"/>
<circle cx="312.4" cy="303.7" r="1.95" fill="#4DBBD5"/>
<circle cx="312.4" cy="309.4" r="1.95" fill="#4DBBD5"/>
<circle cx="312.4" cy="328.31" r="1.95" fill="#4DBBD5"/>
<circle cx="312.4" cy="329.29" r="1.95" fill="#4DBBD5"/>
<circle cx="312.4" cy="329.7" r="1.95" fill="#4DBBD5"/>
<circle cx="312.4" cy="330.32" r="1.95" fill="#4DBBD5"/>
<circle cx="312.4" cy="331.26" r="1.95" fill="#4DBBD5"/>
<circle cx="312.4" cy="332.07" r="1.95" fill="#4DBBD5"/>
<circle cx="312.4" cy="333.19" r="1.95" fill="#4DBBD5"/>
<circle cx="312.4" cy="333.87" r="1.95" fill="#4DBBD5"/>
<circle cx="312.4" cy="334.9" r="1.95" fill="#4DBBD5"/>
<circle cx="312.4" cy="335.81" r="1.95" fill="#4DBBD5"/>
<circle cx="312.4" cy="336.99" r="1.95" fill="#4DBBD5"/>
<circle cx="312.4" cy="338.17" r="1.95" fill="#4DBBD5"/>
<circle cx="312.4" cy="338.95" r="1.95" fill="#4DBBD5"/>
<circle cx="312.4" cy="339.54" r="1.95" fill="#4DBBD5"/>
<circle cx="312.4" cy="340.44" r="1.95" fill="#4DBBD5"/>
<circle cx="312.4" cy="341.44" r="1.95" fill="#4DBBD5"/>
<circle cx="312.4" cy="342.21" r="1.95" fill="#4DBBD5"/>
<circle cx="312.4" cy="343.07" r="1.95" fill="#4DBBD5"/>
<circle cx="312.4" cy="343.72" r="1.95" fill="#4DBBD5"/>
<circle cx="312.4" cy="344.81" r="1.95" fill="#4DBBD5"/>
<circle cx="312.4" cy="346.33" r="1.95" fill="#4DBBD5"/>
<circle cx="312.4" cy="346.47" r="1.95" fill="#4DBBD5"/>
<circle cx="312.4" cy="347.71" r="1.95" fill="#4DBBD5"/>
<circle cx="312.4" cy="348.72" r="1.95" fill="#4DBBD5"/>
<circle cx="312.4" cy="349.82" r="1.95" fill="#4DBBD5"/>
<circle cx="312.4" cy="350.14" r="1.95" fill="#4DBBD5"/>
<circle cx="312.4" cy="351.09" r="1.95" fill="#4DBBD5"/>
<circle cx="312.4" cy="351.97" r="1.95" fill="#4DBBD5"/>
<circle cx="312.4" cy="353" r="1.95" fill="#4DBBD5"/>
<circle cx="312.4" cy="353.94" r="1.95" fill="#4DBBD5"/>
<circle cx="312.4" cy="355.29" r="1.95" fill="#4DBBD5"/>
<circle cx="312.4" cy="356.1" r="1.95" fill="#4DBBD5"/>
<circle cx="312.4" cy="357.02" r="1.95" fill="#4DBBD5"/>
<circle cx="312.4" cy="357.15" r="1.95" fill="#4DBBD5"/>
<circle cx="312.4" cy="358.06" r="1.95" fill="#4DBBD5"/>
<circle cx="312.4" cy="359.56" r="1.95" fill="#4DBBD5"/>
<circle cx="312.4" cy="360.63" r="1.95" fill="#4DBBD5"/>
<circle cx="312.4" cy="361.15" r="1.95" fill="#4DBBD5"/>
<circle cx="312.4" cy="362.15" r="1.95" fill="#4DBBD5"/>
<circle cx="312.4" cy="362.52" r="1.95" fill="#4DBBD5"/>
<circle cx="312.4" cy="363.77" r="1.95" fill="#4DBBD5"/>
<circle cx="312.4" cy="365.15" r="1.95" fill="#4DBBD5"/>
<circle cx="312.4" cy="365.95" r="1.95" fill="#4DBBD5"/>
<circle cx="312.4" cy="366.88" r="1.95" fill="#4DBBD5"/>
<circle cx="312.4" cy="367.88" r="1.95" fill="#4DBBD5"/>
<circle cx="312.4" cy="368.13" r="1.95" fill="#4DBBD5"/>
<circle cx="312.4" cy="368.9" r="1.95" fill="#4DBBD5"/>
<circle cx="312.4" cy="369.84" r="1.95" fill="#4DBBD5"/>
<circle cx="322.5" cy="253" r="1.95" fill="#E64B35"/>
<circle cx="322.5" cy="270.7" r="1.95" fill="#E64B35"/>
<circle cx="322.5" cy="274" r="1.95" fill="#E64B35"/>
<circle cx="322.5" cy="278.4" r="1.95" fill="#E64B35"/>
<circle cx="322.5" cy="284" r="1.95" fill="#E64B35"/>
<circle cx="322.5" cy="288.4" r="1.95" fill="#E64B35"/>
<circle cx="322.5" cy="298.6" r="1.95" fill="#E64B35"/>
<circle cx="322.5" cy="300.61" r="1.95" fill="#E64B35"/>
<circle cx="322.5" cy="302.79" r="1.95" fill="#E64B35"/>
<circle cx="322.5" cy="304.15" r="1.95" fill="#E64B35"/>
<circle cx="322.5" cy="305.75" r="1.95" fill="#E64B35"/>
<circle cx="322.5" cy="307.68" r="1.95" fill="#E64B35"/>
<circle cx="322.5" cy="308.88" r="1.95" fill="#E64B35"/>
<circle cx="322.5" cy="310.78" r="1.95" fill="#E64B35"/>
<circle cx="322.5" cy="311.62" r="1.95" fill="#E64B35"/>
<circle cx="322.5" cy="314.64" r="1.95" fill="#E64B35"/>
<circle cx="322.5" cy="315.42" r="1.95" fill="#E64B35"/>
<circle cx="322.5" cy="318.34" r="1.95" fill="#E64B35"/>
<circle cx="322.5" cy="319.6" r="1.95" fill="#E64B35"/>
<circle cx="322.5" cy="320.74" r="1.95" fill="#E64B35"/>
<circle cx="322.5" cy="322.17" r="1.95" fill="#E64B35"/>
<circle cx="322.5" cy="324.11" r="1.95" fill="#E64B35"/>
<circle cx="322.5" cy="326.51" r="1.95" fill="#E64B35"/>
<circle cx="322.5" cy="328.35" r="1.95" fill="#E64B35"/>
<circle cx="322.5" cy="329.07" r="1.95" fill="#E64B35"/>
<circle cx="322.5" cy="330.73" r="1.95" fill="#E64B35"/>
<circle cx="322.5" cy="333.24" r="1.95" fill="#E64B35"/>
<circle cx="322.5" cy="335.08" r="1.95" fill="#E64B35"/>
<circle cx="322.5" cy="336.47" r="1.95" fill="#E64B35"/>
<circle cx="322.5" cy="337.92" r="1.95" fill="#E64B35"/>
<circle cx="322.5" cy="340.3" r="1.95" fill="#E64B35"/>
<circle cx="322.5" cy="341.01" r="1.95" fill="#E64B35"/>
<circle cx="322.5" cy="343.25" r="1.95" fill="#E64B35"/>
<circle cx="322.5" cy="345.26" r="1.95" fill="#E64B35"/>
<circle cx="322.5" cy="347.85" r="1.95" fill="#E64B35"/>
<circle cx="322.5" cy="349.04" r="1.95" fill="#E64B35"/>
<circle cx="322.5" cy="351.19" r="1.95" fill="#E64B35"/>
<circle cx="322.5" cy="352.21" r="1.95" fill="#E64B35"/>
<circle cx="322.5" cy="353.52" r="1.95" fill="#E64B35"/>
<circle cx="322.5" cy="355.28" r="1.95" fill="#E64B35"/>
<circle cx="322.5" cy="358.25" r="1.95" fill="#E64B35"/>
<circle cx="322.5" cy="359.53" r="1.95" fill="#E64B35"/>
<circle cx="322.5" cy="360.58" r="1.95" fill="#E64B35"/>
<circle cx="322.5" cy="361.82" r="1.95" fill="#E64B35"/>
<circle cx="322.5" cy="364.37" r="1.95" fill="#E64B35"/>
<circle cx="322.5" cy="366.41" r="1.95" fill="#E64B35"/>
<circle cx="322.5" cy="367.7" r="1.95" fill="#E64B35"/>
<circle cx="322.5" cy="369.15" r="1.95" fill="#E64B35"/>
<circle cx="322.5" cy="371.59" r="1.95" fill="#E64B35"/>
<circle cx="322.5" cy="373.77" r="1.95" fill="#E64B35"/>
<circle cx="337.7" cy="263.6" r="1.95" fill="#4DBBD5"/>
<circle cx="337.7" cy="286.2" r="1.95" fill="#4DBBD5"/>
<circle cx="337.7" cy="291.7" r="1.95" fill="#4DBBD5"/>
<circle cx="337.7" cy="294" r="1.95" fill="#4DBBD5"/>
<circle cx="337.7" cy="292.2" r="1.95" fill="#4DBBD5"/>
<circle cx="337.7" cy="301.18" r="1.95" fill="#4DBBD5"/>
<circle cx="337.7" cy="301.82" r="1.95" fill="#4DBBD5"/>
<circle cx="337.7" cy="302.85" r="1.95" fill="#4DBBD5"/>
<circle cx="337.7" cy="303.71" r="1.95" fill="#4DBBD5"/>
<circle cx="337.7" cy="304.71" r="1.95" fill="#4DBBD5"/>
<circle cx="337.7" cy="305.12" r="1.95" fill="#4DBBD5"/>
<circle cx="337.7" cy="306.39" r="1.95" fill="#4DBBD5"/>
<circle cx="337.7" cy="307.13" r="1.95" fill="#4DBBD5"/>
<circle cx="337.7" cy="307.74" r="1.95" fill="#4DBBD5"/>
<circle cx="337.7" cy="308.29" r="1.95" fill="#4DBBD5"/>
<circle cx="337.7" cy="309.69" r="1.95" fill="#4DBBD5"/>
<circle cx="337.7" cy="309.96" r="1.95" fill="#4DBBD5"/>
<circle cx="337.7" cy="311.16" r="1.95" fill="#4DBBD5"/>
<circle cx="337.7" cy="311.48" r="1.95" fill="#4DBBD5"/>
<circle cx="337.7" cy="312.27" r="1.95" fill="#4DBBD5"/>
<circle cx="337.7" cy="313.49" r="1.95" fill="#4DBBD5"/>
<circle cx="337.7" cy="313.91" r="1.95" fill="#4DBBD5"/>
<circle cx="337.7" cy="315.23" r="1.95" fill="#4DBBD5"/>
<circle cx="337.7" cy="315.66" r="1.95" fill="#4DBBD5"/>
<circle cx="337.7" cy="316.21" r="1.95" fill="#4DBBD5"/>
<circle cx="337.7" cy="317.03" r="1.95" fill="#4DBBD5"/>
<circle cx="337.7" cy="317.97" r="1.95" fill="#4DBBD5"/>
<circle cx="337.7" cy="318.96" r="1.95" fill="#4DBBD5"/>
<circle cx="337.7" cy="319.98" r="1.95" fill="#4DBBD5"/>
<circle cx="337.7" cy="320.13" r="1.95" fill="#4DBBD5"/>
<circle cx="337.7" cy="321.12" r="1.95" fill="#4DBBD5"/>
<circle cx="337.7" cy="321.77" r="1.95" fill="#4DBBD5"/>
<circle cx="337.7" cy="323.17" r="1.95" fill="#4DBBD5"/>
<circle cx="337.7" cy="323.3" r="1.95" fill="#4DBBD5"/>
<circle cx="337.7" cy="324.02" r="1.95" fill="#4DBBD5"/>
<circle cx="337.7" cy="324.82" r="1.95" fill="#4DBBD5"/>
<circle cx="337.7" cy="325.88" r="1.95" fill="#4DBBD5"/>
<circle cx="337.7" cy="327.07" r="1.95" fill="#4DBBD5"/>
<circle cx="337.7" cy="327.85" r="1.95" fill="#4DBBD5"/>
<circle cx="337.7" cy="328.52" r="1.95" fill="#4DBBD5"/>
<circle cx="337.7" cy="329.53" r="1.95" fill="#4DBBD5"/>
<circle cx="337.7" cy="330.27" r="1.95" fill="#4DBBD5"/>
<circle cx="337.7" cy="330.58" r="1.95" fill="#4DBBD5"/>
<circle cx="337.7" cy="331.26" r="1.95" fill="#4DBBD5"/>
<circle cx="337.7" cy="332.65" r="1.95" fill="#4DBBD5"/>
<circle cx="337.7" cy="333.29" r="1.95" fill="#4DBBD5"/>
<circle cx="337.7" cy="333.52" r="1.95" fill="#4DBBD5"/>
<circle cx="337.7" cy="334.81" r="1.95" fill="#4DBBD5"/>
<circle cx="337.7" cy="335.38" r="1.95" fill="#4DBBD5"/>
<circle cx="337.7" cy="336.16" r="1.95" fill="#4DBBD5"/>
<circle cx="337.7" cy="336.92" r="1.95" fill="#4DBBD5"/>
<circle cx="337.7" cy="337.59" r="1.95" fill="#4DBBD5"/>
<circle cx="337.7" cy="338.25" r="1.95" fill="#4DBBD5"/>
<circle cx="337.7" cy="339.26" r="1.95" fill="#4DBBD5"/>
<circle cx="337.7" cy="340.11" r="1.95" fill="#4DBBD5"/>
<circle cx="337.7" cy="341.38" r="1.95" fill="#4DBBD5"/>
<circle cx="337.7" cy="341.51" r="1.95" fill="#4DBBD5"/>
<circle cx="337.7" cy="342.97" r="1.95" fill="#4DBBD5"/>
<circle cx="347.8" cy="257" r="1.95" fill="#E64B35"/>
<circle cx="347.8" cy="269.6" r="1.95" fill="#E64B35"/>
<circle cx="347.8" cy="272" r="1.95" fill="#E64B35"/>
<circle cx="347.8" cy="274" r="1.95" fill="#E64B35"/>
<circle cx="347.8" cy="276.2" r="1.95" fill="#E64B35"/>
<circle cx="347.8" cy="278.4" r="1.95" fill="#E64B35"/>
<circle cx="347.8" cy="280.85" r="1.95" fill="#E64B35"/>
<circle cx="347.8" cy="282.21" r="1.95" fill="#E64B35"/>
<circle cx="347.8" cy="283.94" r="1.95" fill="#E64B35"/>
<circle cx="347.8" cy="285.12" r="1.95" fill="#E64B35"/>
<circle cx="347.8" cy="285.85" r="1.95" fill="#E64B35"/>
<circle cx="347.8" cy="286.58" r="1.95" fill="#E64B35"/>
<circle cx="347.8" cy="288.26" r="1.95" fill="#E64B35"/>
<circle cx="347.8" cy="289.33" r="1.95" fill="#E64B35"/>
<circle cx="347.8" cy="291.16" r="1.95" fill="#E64B35"/>
<circle cx="347.8" cy="291.48" r="1.95" fill="#E64B35"/>
<circle cx="347.8" cy="292.87" r="1.95" fill="#E64B35"/>
<circle cx="347.8" cy="294.68" r="1.95" fill="#E64B35"/>
<circle cx="347.8" cy="294.84" r="1.95" fill="#E64B35"/>
<circle cx="347.8" cy="296.47" r="1.95" fill="#E64B35"/>
<circle cx="347.8" cy="298.13" r="1.95" fill="#E64B35"/>
<circle cx="347.8" cy="299.26" r="1.95" fill="#E64B35"/>
<circle cx="347.8" cy="299.59" r="1.95" fill="#E64B35"/>
<circle cx="347.8" cy="300.76" r="1.95" fill="#E64B35"/>
<circle cx="347.8" cy="301.98" r="1.95" fill="#E64B35"/>
<circle cx="347.8" cy="304.18" r="1.95" fill="#E64B35"/>
<circle cx="347.8" cy="304.58" r="1.95" fill="#E64B35"/>
<circle cx="347.8" cy="306.34" r="1.95" fill="#E64B35"/>
<circle cx="347.8" cy="307.7" r="1.95" fill="#E64B35"/>
<circle cx="347.8" cy="308.23" r="1.95" fill="#E64B35"/>
<circle cx="347.8" cy="309.33" r="1.95" fill="#E64B35"/>
<circle cx="347.8" cy="311.33" r="1.95" fill="#E64B35"/>
<circle cx="347.8" cy="312.11" r="1.95" fill="#E64B35"/>
<circle cx="347.8" cy="312.87" r="1.95" fill="#E64B35"/>
<circle cx="347.8" cy="314.59" r="1.95" fill="#E64B35"/>
<circle cx="347.8" cy="315.3" r="1.95" fill="#E64B35"/>
<circle cx="347.8" cy="316.44" r="1.95" fill="#E64B35"/>
<circle cx="347.8" cy="317.3" r="1.95" fill="#E64B35"/>
<circle cx="347.8" cy="319.37" r="1.95" fill="#E64B35"/>
<circle cx="347.8" cy="320.75" r="1.95" fill="#E64B35"/>
<circle cx="347.8" cy="321.6" r="1.95" fill="#E64B35"/>
<circle cx="347.8" cy="323.15" r="1.95" fill="#E64B35"/>
<circle cx="347.8" cy="323.24" r="1.95" fill="#E64B35"/>
<circle cx="347.8" cy="324.67" r="1.95" fill="#E64B35"/>
<circle cx="347.8" cy="326.14" r="1.95" fill="#E64B35"/>
<circle cx="347.8" cy="327.9" r="1.95" fill="#E64B35"/>
<circle cx="347.8" cy="329.08" r="1.95" fill="#E64B35"/>
<circle cx="347.8" cy="329.59" r="1.95" fill="#E64B35"/>
<circle cx="347.8" cy="330.61" r="1.95" fill="#E64B35"/>
<circle cx="347.8" cy="332.01" r="1.95" fill="#E64B35"/>
<circle cx="347.8" cy="333.27" r="1.95" fill="#E64B35"/>
<circle cx="347.8" cy="334.96" r="1.95" fill="#E64B35"/>
<circle cx="347.8" cy="335.27" r="1.95" fill="#E64B35"/>
<circle cx="347.8" cy="337.18" r="1.95" fill="#E64B35"/>
<circle cx="347.8" cy="338.29" r="1.95" fill="#E64B35"/>
<circle cx="347.8" cy="351.4" r="1.95" fill="#E64B35"/>
<circle cx="347.8" cy="361.3" r="1.95" fill="#E64B35"/>
<circle cx="363" cy="259" r="1.95" fill="#4DBBD5"/>
<circle cx="363" cy="276.2" r="1.95" fill="#4DBBD5"/>
<circle cx="363" cy="278.4" r="1.95" fill="#4DBBD5"/>
<circle cx="363" cy="290.03" r="1.95" fill="#4DBBD5"/>
<circle cx="363" cy="291.91" r="1.95" fill="#4DBBD5"/>
<circle cx="363" cy="293.56" r="1.95" fill="#4DBBD5"/>
<circle cx="363" cy="294.99" r="1.95" fill="#4DBBD5"/>
<circle cx="363" cy="296.95" r="1.95" fill="#4DBBD5"/>
<circle cx="363" cy="298.63" r="1.95" fill="#4DBBD5"/>
<circle cx="363" cy="299.92" r="1.95" fill="#4DBBD5"/>
<circle cx="363" cy="300.19" r="1.95" fill="#4DBBD5"/>
<circle cx="363" cy="301.21" r="1.95" fill="#4DBBD5"/>
<circle cx="363" cy="302.63" r="1.95" fill="#4DBBD5"/>
<circle cx="363" cy="303.08" r="1.95" fill="#4DBBD5"/>
<circle cx="363" cy="303.82" r="1.95" fill="#4DBBD5"/>
<circle cx="363" cy="304.71" r="1.95" fill="#4DBBD5"/>
<circle cx="363" cy="306.09" r="1.95" fill="#4DBBD5"/>
<circle cx="363" cy="306.79" r="1.95" fill="#4DBBD5"/>
<circle cx="363" cy="308.3" r="1.95" fill="#4DBBD5"/>
<circle cx="363" cy="309.12" r="1.95" fill="#4DBBD5"/>
<circle cx="363" cy="310.13" r="1.95" fill="#4DBBD5"/>
<circle cx="363" cy="310.38" r="1.95" fill="#4DBBD5"/>
<circle cx="363" cy="311.13" r="1.95" fill="#4DBBD5"/>
<circle cx="363" cy="312.05" r="1.95" fill="#4DBBD5"/>
<circle cx="363" cy="313.33" r="1.95" fill="#4DBBD5"/>
<circle cx="363" cy="314.43" r="1.95" fill="#4DBBD5"/>
<circle cx="363" cy="315.1" r="1.95" fill="#4DBBD5"/>
<circle cx="363" cy="315.82" r="1.95" fill="#4DBBD5"/>
<circle cx="363" cy="316.9" r="1.95" fill="#4DBBD5"/>
<circle cx="363" cy="317.99" r="1.95" fill="#4DBBD5"/>
<circle cx="363" cy="318.95" r="1.95" fill="#4DBBD5"/>
<circle cx="363" cy="319.93" r="1.95" fill="#4DBBD5"/>
<circle cx="363" cy="320.93" r="1.95" fill="#4DBBD5"/>
<circle cx="363" cy="321.68" r="1.95" fill="#4DBBD5"/>
<circle cx="363" cy="322.09" r="1.95" fill="#4DBBD5"/>
<circle cx="363" cy="323.66" r="1.95" fill="#4DBBD5"/>
<circle cx="363" cy="324.07" r="1.95" fill="#4DBBD5"/>
<circle cx="363" cy="325.23" r="1.95" fill="#4DBBD5"/>
<circle cx="363" cy="325.96" r="1.95" fill="#4DBBD5"/>
<circle cx="363" cy="327.21" r="1.95" fill="#4DBBD5"/>
<circle cx="363" cy="327.63" r="1.95" fill="#4DBBD5"/>
<circle cx="363" cy="328.58" r="1.95" fill="#4DBBD5"/>
<circle cx="363" cy="329.49" r="1.95" fill="#4DBBD5"/>
<circle cx="363" cy="330.32" r="1.95" fill="#4DBBD5"/>
<circle cx="363" cy="331.89" r="1.95" fill="#4DBBD5"/>
<circle cx="363" cy="340.8" r="1.95" fill="#4DBBD5"/>
<circle cx="363" cy="343.6" r="1.95" fill="#4DBBD5"/>
<circle cx="363" cy="360.2" r="1.95" fill="#4DBBD5"/>
<circle cx="373.1" cy="248" r="1.95" fill="#E64B35"/>
<circle cx="373.1" cy="252" r="1.95" fill="#E64B35"/>
<circle cx="373.1" cy="258.23" r="1.95" fill="#E64B35"/>
<circle cx="373.1" cy="259.17" r="1.95" fill="#E64B35"/>
<circle cx="373.1" cy="260.52" r="1.95" fill="#E64B35"/>
<circle cx="373.1" cy="262.54" r="1.95" fill="#E64B35"/>
<circle cx="373.1" cy="263.19" r="1.95" fill="#E64B35"/>
<circle cx="373.1" cy="264.1" r="1.95" fill="#E64B35"/>
<circle cx="373.1" cy="266.09" r="1.95" fill="#E64B35"/>
<circle cx="373.1" cy="267.16" r="1.95" fill="#E64B35"/>
<circle cx="373.1" cy="268.85" r="1.95" fill="#E64B35"/>
<circle cx="373.1" cy="268.99" r="1.95" fill="#E64B35"/>
<circle cx="373.1" cy="270.72" r="1.95" fill="#E64B35"/>
<circle cx="373.1" cy="272.42" r="1.95" fill="#E64B35"/>
<circle cx="373.1" cy="273.71" r="1.95" fill="#E64B35"/>
<circle cx="373.1" cy="275.06" r="1.95" fill="#E64B35"/>
<circle cx="373.1" cy="275.22" r="1.95" fill="#E64B35"/>
<circle cx="373.1" cy="276.8" r="1.95" fill="#E64B35"/>
<circle cx="373.1" cy="277.85" r="1.95" fill="#E64B35"/>
<circle cx="373.1" cy="279.2" r="1.95" fill="#E64B35"/>
<circle cx="373.1" cy="281.45" r="1.95" fill="#E64B35"/>
<circle cx="373.1" cy="282.22" r="1.95" fill="#E64B35"/>
<circle cx="373.1" cy="283.92" r="1.95" fill="#E64B35"/>
<circle cx="373.1" cy="284.48" r="1.95" fill="#E64B35"/>
<circle cx="373.1" cy="286.36" r="1.95" fill="#E64B35"/>
<circle cx="373.1" cy="287.1" r="1.95" fill="#E64B35"/>
<circle cx="373.1" cy="288.12" r="1.95" fill="#E64B35"/>
<circle cx="373.1" cy="290.04" r="1.95" fill="#E64B35"/>
<circle cx="373.1" cy="291.51" r="1.95" fill="#E64B35"/>
<circle cx="373.1" cy="291.71" r="1.95" fill="#E64B35"/>
<circle cx="373.1" cy="293.59" r="1.95" fill="#E64B35"/>
<circle cx="373.1" cy="294.89" r="1.95" fill="#E64B35"/>
<circle cx="373.1" cy="295.64" r="1.95" fill="#E64B35"/>
<circle cx="373.1" cy="297.09" r="1.95" fill="#E64B35"/>
<circle cx="373.1" cy="298.07" r="1.95" fill="#E64B35"/>
<circle cx="373.1" cy="299.41" r="1.95" fill="#E64B35"/>
<circle cx="373.1" cy="300.74" r="1.95" fill="#E64B35"/>
<circle cx="373.1" cy="302.43" r="1.95" fill="#E64B35"/>
<circle cx="373.1" cy="303.76" r="1.95" fill="#E64B35"/>
<circle cx="373.1" cy="304.46" r="1.95" fill="#E64B35"/>
<circle cx="373.1" cy="305.48" r="1.95" fill="#E64B35"/>
<circle cx="373.1" cy="307.14" r="1.95" fill="#E64B35"/>
<circle cx="373.1" cy="308.85" r="1.95" fill="#E64B35"/>
<circle cx="373.1" cy="309.48" r="1.95" fill="#E64B35"/>
<circle cx="373.1" cy="310.91" r="1.95" fill="#E64B35"/>
<circle cx="373.1" cy="312.03" r="1.95" fill="#E64B35"/>
<circle cx="373.1" cy="314.04" r="1.95" fill="#E64B35"/>
<circle cx="373.1" cy="324.2" r="1.95" fill="#E64B35"/>
<circle cx="388.3" cy="249.3" r="1.95" fill="#4DBBD5"/>
<circle cx="388.3" cy="255.7" r="1.95" fill="#4DBBD5"/>
<circle cx="388.3" cy="265.2" r="1.95" fill="#4DBBD5"/>
<circle cx="388.3" cy="319.8" r="1.95" fill="#4DBBD5"/>
<circle cx="398.4" cy="274" r="1.95" fill="#E64B35"/>
<circle cx="398.4" cy="285" r="1.95" fill="#E64B35"/>
<circle cx="398.4" cy="280.6" r="1.95" fill="#E64B35"/>
<circle cx="398.4" cy="285.5" r="1.95" fill="#E64B35"/>
<circle cx="413.6" cy="332" r="1.95" fill="#4DBBD5"/>
<circle cx="413.6" cy="350.7" r="1.95" fill="#4DBBD5"/>
<circle cx="413.6" cy="363.5" r="1.95" fill="#4DBBD5"/>
<circle cx="423.7" cy="329.7" r="1.95" fill="#E64B35"/>
<circle cx="423.7" cy="295.5" r="1.95" fill="#E64B35"/>
<circle cx="423.7" cy="341.9" r="1.95" fill="#E64B35"/>
<circle cx="438.9" cy="312.7" r="1.95" fill="#4DBBD5"/>
<circle cx="438.9" cy="322.44" r="1.95" fill="#4DBBD5"/>
<circle cx="438.9" cy="322.85" r="1.95" fill="#4DBBD5"/>
<circle cx="438.9" cy="323.68" r="1.95" fill="#4DBBD5"/>
<circle cx="438.9" cy="324.72" r="1.95" fill="#4DBBD5"/>
<circle cx="438.9" cy="325.64" r="1.95" fill="#4DBBD5"/>
<circle cx="438.9" cy="326.51" r="1.95" fill="#4DBBD5"/>
<circle cx="438.9" cy="326.87" r="1.95" fill="#4DBBD5"/>
<circle cx="438.9" cy="327.73" r="1.95" fill="#4DBBD5"/>
<circle cx="438.9" cy="328.96" r="1.95" fill="#4DBBD5"/>
<circle cx="438.9" cy="329.53" r="1.95" fill="#4DBBD5"/>
<circle cx="438.9" cy="330.23" r="1.95" fill="#4DBBD5"/>
<circle cx="438.9" cy="331.05" r="1.95" fill="#4DBBD5"/>
<circle cx="438.9" cy="332.36" r="1.95" fill="#4DBBD5"/>
<circle cx="438.9" cy="332.65" r="1.95" fill="#4DBBD5"/>
<circle cx="438.9" cy="333.65" r="1.95" fill="#4DBBD5"/>
<circle cx="438.9" cy="334.29" r="1.95" fill="#4DBBD5"/>
<circle cx="438.9" cy="335.13" r="1.95" fill="#4DBBD5"/>
<circle cx="438.9" cy="336.29" r="1.95" fill="#4DBBD5"/>
<circle cx="438.9" cy="337.2" r="1.95" fill="#4DBBD5"/>
<circle cx="438.9" cy="337.49" r="1.95" fill="#4DBBD5"/>
<circle cx="438.9" cy="338.16" r="1.95" fill="#4DBBD5"/>
<circle cx="438.9" cy="339.38" r="1.95" fill="#4DBBD5"/>
<circle cx="438.9" cy="339.76" r="1.95" fill="#4DBBD5"/>
<circle cx="438.9" cy="340.4" r="1.95" fill="#4DBBD5"/>
<circle cx="438.9" cy="341.92" r="1.95" fill="#4DBBD5"/>
<circle cx="438.9" cy="342.34" r="1.95" fill="#4DBBD5"/>
<circle cx="438.9" cy="343.46" r="1.95" fill="#4DBBD5"/>
<circle cx="438.9" cy="343.92" r="1.95" fill="#4DBBD5"/>
<circle cx="438.9" cy="345.11" r="1.95" fill="#4DBBD5"/>
<circle cx="438.9" cy="345.57" r="1.95" fill="#4DBBD5"/>
<circle cx="438.9" cy="346.13" r="1.95" fill="#4DBBD5"/>
<circle cx="438.9" cy="346.81" r="1.95" fill="#4DBBD5"/>
<circle cx="438.9" cy="348.04" r="1.95" fill="#4DBBD5"/>
<circle cx="438.9" cy="348.91" r="1.95" fill="#4DBBD5"/>
<circle cx="438.9" cy="349.93" r="1.95" fill="#4DBBD5"/>
<circle cx="438.9" cy="350.07" r="1.95" fill="#4DBBD5"/>
<circle cx="438.9" cy="351.3" r="1.95" fill="#4DBBD5"/>
<circle cx="438.9" cy="351.9" r="1.95" fill="#4DBBD5"/>
<circle cx="438.9" cy="352.8" r="1.95" fill="#4DBBD5"/>
<circle cx="438.9" cy="353.32" r="1.95" fill="#4DBBD5"/>
<circle cx="438.9" cy="354.23" r="1.95" fill="#4DBBD5"/>
<circle cx="438.9" cy="355.22" r="1.95" fill="#4DBBD5"/>
<circle cx="438.9" cy="356.34" r="1.95" fill="#4DBBD5"/>
<circle cx="438.9" cy="356.49" r="1.95" fill="#4DBBD5"/>
<circle cx="438.9" cy="357.59" r="1.95" fill="#4DBBD5"/>
<circle cx="438.9" cy="358.64" r="1.95" fill="#4DBBD5"/>
<circle cx="438.9" cy="359.57" r="1.95" fill="#4DBBD5"/>
<circle cx="438.9" cy="359.76" r="1.95" fill="#4DBBD5"/>
<circle cx="438.9" cy="360.5" r="1.95" fill="#4DBBD5"/>
<circle cx="438.9" cy="361.95" r="1.95" fill="#4DBBD5"/>
<circle cx="438.9" cy="362.78" r="1.95" fill="#4DBBD5"/>
<circle cx="449" cy="317.6" r="1.95" fill="#E64B35"/>
<circle cx="449" cy="323.36" r="1.95" fill="#E64B35"/>
<circle cx="449" cy="323.78" r="1.95" fill="#E64B35"/>
<circle cx="449" cy="325.16" r="1.95" fill="#E64B35"/>
<circle cx="449" cy="325.5" r="1.95" fill="#E64B35"/>
<circle cx="449" cy="326.62" r="1.95" fill="#E64B35"/>
<circle cx="449" cy="327.14" r="1.95" fill="#E64B35"/>
<circle cx="449" cy="328.03" r="1.95" fill="#E64B35"/>
<circle cx="449" cy="328.28" r="1.95" fill="#E64B35"/>
<circle cx="449" cy="329.48" r="1.95" fill="#E64B35"/>
<circle cx="449" cy="329.8" r="1.95" fill="#E64B35"/>
<circle cx="449" cy="330.67" r="1.95" fill="#E64B35"/>
<circle cx="449" cy="331.73" r="1.95" fill="#E64B35"/>
<circle cx="449" cy="332.46" r="1.95" fill="#E64B35"/>
<circle cx="449" cy="332.72" r="1.95" fill="#E64B35"/>
<circle cx="449" cy="333.48" r="1.95" fill="#E64B35"/>
<circle cx="449" cy="334.35" r="1.95" fill="#E64B35"/>
<circle cx="449" cy="335.18" r="1.95" fill="#E64B35"/>
<circle cx="449" cy="335.82" r="1.95" fill="#E64B35"/>
<circle cx="449" cy="336.36" r="1.95" fill="#E64B35"/>
<circle cx="449" cy="337.19" r="1.95" fill="#E64B35"/>
<circle cx="449" cy="338.28" r="1.95" fill="#E64B35"/>
<circle cx="449" cy="339.14" r="1.95" fill="#E64B35"/>
<circle cx="449" cy="339.25" r="1.95" fill="#E64B35"/>
<circle cx="449" cy="340.37" r="1.95" fill="#E64B35"/>
<circle cx="449" cy="341.25" r="1.95" fill="#E64B35"/>
<circle cx="449" cy="341.46" r="1.95" fill="#E64B35"/>
<circle cx="449" cy="342.79" r="1.95" fill="#E64B35"/>
<circle cx="449" cy="342.99" r="1.95" fill="#E64B35"/>
<circle cx="449" cy="344.09" r="1.95" fill="#E64B35"/>
<circle cx="449" cy="344.79" r="1.95" fill="#E64B35"/>
<circle cx="449" cy="345.58" r="1.95" fill="#E64B35"/>
<circle cx="449" cy="346.08" r="1.95" fill="#E64B35"/>
<circle cx="449" cy="346.9" r="1.95" fill="#E64B35"/>
<circle cx="449" cy="347.76" r="1.95" fill="#E64B35"/>
<circle cx="449" cy="348.38" r="1.95" fill="#E64B35"/>
<circle cx="449" cy="349.29" r="1.95" fill="#E64B35"/>
<circle cx="449" cy="349.87" r="1.95" fill="#E64B35"/>
<circle cx="449" cy="350.6" r="1.95" fill="#E64B35"/>
<circle cx="449" cy="351.03" r="1.95" fill="#E64B35"/>
<circle cx="449" cy="352.21" r="1.95" fill="#E64B35"/>
<circle cx="449" cy="352.85" r="1.95" fill="#E64B35"/>
<circle cx="449" cy="353.4" r="1.95" fill="#E64B35"/>
<circle cx="449" cy="354.53" r="1.95" fill="#E64B35"/>
<circle cx="449" cy="355.28" r="1.95" fill="#E64B35"/>
<circle cx="449" cy="355.78" r="1.95" fill="#E64B35"/>
<circle cx="449" cy="356.31" r="1.95" fill="#E64B35"/>
<circle cx="449" cy="357.26" r="1.95" fill="#E64B35"/>
<circle cx="449" cy="357.73" r="1.95" fill="#E64B35"/>
<circle cx="449" cy="358.48" r="1.95" fill="#E64B35"/>
<circle cx="449" cy="359.44" r="1.95" fill="#E64B35"/>
<circle cx="449" cy="359.93" r="1.95" fill="#E64B35"/>
<circle cx="464.2" cy="334.8" r="1.95" fill="#4DBBD5"/>
<circle cx="464.2" cy="336.5" r="1.95" fill="#4DBBD5"/>
<circle cx="464.2" cy="339.7" r="1.95" fill="#4DBBD5"/>
<circle cx="464.2" cy="342" r="1.95" fill="#4DBBD5"/>
<circle cx="464.2" cy="344" r="1.95" fill="#4DBBD5"/>
<circle cx="464.2" cy="346" r="1.95" fill="#4DBBD5"/>
<circle cx="464.2" cy="348.5" r="1.95" fill="#4DBBD5"/>
<circle cx="464.2" cy="350.5" r="1.95" fill="#4DBBD5"/>
<circle cx="464.2" cy="356.2" r="1.95" fill="#4DBBD5"/>
<circle cx="474.3" cy="255.3" r="1.95" fill="#E64B35"/>
<circle cx="474.3" cy="293.9" r="1.95" fill="#E64B35"/>
<circle cx="474.3" cy="303.2" r="1.95" fill="#E64B35"/>
<circle cx="474.3" cy="310.3" r="1.95" fill="#E64B35"/>
<circle cx="474.3" cy="322" r="1.95" fill="#E64B35"/>
<circle cx="474.3" cy="323.5" r="1.95" fill="#E64B35"/>
<circle cx="474.3" cy="325.3" r="1.95" fill="#E64B35"/>
<circle cx="474.3" cy="351.4" r="1.95" fill="#E64B35"/>
<circle cx="474.3" cy="356.2" r="1.95" fill="#E64B35"/>
<circle cx="489.5" cy="311" r="1.95" fill="#4DBBD5"/>
<circle cx="489.5" cy="356.2" r="1.95" fill="#4DBBD5"/>
<circle cx="499.6" cy="296.6" r="1.95" fill="#E64B35"/>
<circle cx="499.6" cy="332.6" r="1.95" fill="#E64B35"/>
<circle cx="514.8" cy="299.9" r="1.95" fill="#4DBBD5"/>
<circle cx="524.9" cy="318.7" r="1.95" fill="#E64B35"/>
<circle cx="540.1" cy="287.7" r="1.95" fill="#4DBBD5"/>
<circle cx="540.1" cy="291.7" r="1.95" fill="#4DBBD5"/>
<circle cx="540.1" cy="296.8" r="1.95" fill="#4DBBD5"/>
<circle cx="540.1" cy="304.3" r="1.95" fill="#4DBBD5"/>
<circle cx="540.1" cy="317.6" r="1.95" fill="#4DBBD5"/>
<circle cx="540.1" cy="323.55" r="1.95" fill="#4DBBD5"/>
<circle cx="540.1" cy="324.87" r="1.95" fill="#4DBBD5"/>
<circle cx="540.1" cy="325.53" r="1.95" fill="#4DBBD5"/>
<circle cx="540.1" cy="327.51" r="1.95" fill="#4DBBD5"/>
<circle cx="540.1" cy="328.06" r="1.95" fill="#4DBBD5"/>
<circle cx="540.1" cy="330.11" r="1.95" fill="#4DBBD5"/>
<circle cx="540.1" cy="331.4" r="1.95" fill="#4DBBD5"/>
<circle cx="540.1" cy="332.31" r="1.95" fill="#4DBBD5"/>
<circle cx="540.1" cy="332.99" r="1.95" fill="#4DBBD5"/>
<circle cx="540.1" cy="334.78" r="1.95" fill="#4DBBD5"/>
<circle cx="540.1" cy="335.87" r="1.95" fill="#4DBBD5"/>
<circle cx="540.1" cy="337.82" r="1.95" fill="#4DBBD5"/>
<circle cx="540.1" cy="338.05" r="1.95" fill="#4DBBD5"/>
<circle cx="540.1" cy="340.18" r="1.95" fill="#4DBBD5"/>
<circle cx="540.1" cy="341.6" r="1.95" fill="#4DBBD5"/>
<circle cx="540.1" cy="342.51" r="1.95" fill="#4DBBD5"/>
<circle cx="540.1" cy="343.85" r="1.95" fill="#4DBBD5"/>
<circle cx="540.1" cy="344.32" r="1.95" fill="#4DBBD5"/>
<circle cx="540.1" cy="346.54" r="1.95" fill="#4DBBD5"/>
<circle cx="540.1" cy="347.17" r="1.95" fill="#4DBBD5"/>
<circle cx="540.1" cy="348.99" r="1.95" fill="#4DBBD5"/>
<circle cx="540.1" cy="350.18" r="1.95" fill="#4DBBD5"/>
<circle cx="540.1" cy="350.48" r="1.95" fill="#4DBBD5"/>
<circle cx="540.1" cy="352.5" r="1.95" fill="#4DBBD5"/>
<circle cx="540.1" cy="353.91" r="1.95" fill="#4DBBD5"/>
<circle cx="540.1" cy="361.3" r="1.95" fill="#4DBBD5"/>
<circle cx="540.1" cy="365.5" r="1.95" fill="#4DBBD5"/>
<circle cx="550.2" cy="249.7" r="1.95" fill="#E64B35"/>
<circle cx="550.2" cy="276.2" r="1.95" fill="#E64B35"/>
<circle cx="550.2" cy="286.2" r="1.95" fill="#E64B35"/>
<circle cx="550.2" cy="293.41" r="1.95" fill="#E64B35"/>
<circle cx="550.2" cy="295.62" r="1.95" fill="#E64B35"/>
<circle cx="550.2" cy="298.02" r="1.95" fill="#E64B35"/>
<circle cx="550.2" cy="298.71" r="1.95" fill="#E64B35"/>
<circle cx="550.2" cy="301.69" r="1.95" fill="#E64B35"/>
<circle cx="550.2" cy="302.34" r="1.95" fill="#E64B35"/>
<circle cx="550.2" cy="304.98" r="1.95" fill="#E64B35"/>
<circle cx="550.2" cy="305.54" r="1.95" fill="#E64B35"/>
<circle cx="550.2" cy="307.87" r="1.95" fill="#E64B35"/>
<circle cx="550.2" cy="310.3" r="1.95" fill="#E64B35"/>
<circle cx="550.2" cy="310.79" r="1.95" fill="#E64B35"/>
<circle cx="550.2" cy="312.6" r="1.95" fill="#E64B35"/>
<circle cx="550.2" cy="314.73" r="1.95" fill="#E64B35"/>
<circle cx="550.2" cy="316.13" r="1.95" fill="#E64B35"/>
<circle cx="550.2" cy="317.36" r="1.95" fill="#E64B35"/>
<circle cx="550.2" cy="319.32" r="1.95" fill="#E64B35"/>
<circle cx="550.2" cy="321" r="1.95" fill="#E64B35"/>
<circle cx="550.2" cy="324.04" r="1.95" fill="#E64B35"/>
<circle cx="550.2" cy="325.31" r="1.95" fill="#E64B35"/>
<circle cx="550.2" cy="327.4" r="1.95" fill="#E64B35"/>
<circle cx="550.2" cy="327.87" r="1.95" fill="#E64B35"/>
<circle cx="550.2" cy="330.63" r="1.95" fill="#E64B35"/>
<circle cx="550.2" cy="331.2" r="1.95" fill="#E64B35"/>
<circle cx="550.2" cy="333.63" r="1.95" fill="#E64B35"/>
<circle cx="550.2" cy="335.52" r="1.95" fill="#E64B35"/>
<circle cx="550.2" cy="336.76" r="1.95" fill="#E64B35"/>
<circle cx="550.2" cy="339.35" r="1.95" fill="#E64B35"/>
<circle cx="550.2" cy="340.52" r="1.95" fill="#E64B35"/>
<circle cx="550.2" cy="342.28" r="1.95" fill="#E64B35"/>
<circle cx="565.4" cy="284" r="1.95" fill="#4DBBD5"/>
<circle cx="565.4" cy="290.6" r="1.95" fill="#4DBBD5"/>
<circle cx="565.4" cy="294" r="1.95" fill="#4DBBD5"/>
<circle cx="565.4" cy="297.2" r="1.95" fill="#4DBBD5"/>
<circle cx="565.4" cy="297.95" r="1.95" fill="#4DBBD5"/>
<circle cx="565.4" cy="298.14" r="1.95" fill="#4DBBD5"/>
<circle cx="565.4" cy="299.74" r="1.95" fill="#4DBBD5"/>
<circle cx="565.4" cy="300.28" r="1.95" fill="#4DBBD5"/>
<circle cx="565.4" cy="300.93" r="1.95" fill="#4DBBD5"/>
<circle cx="565.4" cy="302.12" r="1.95" fill="#4DBBD5"/>
<circle cx="565.4" cy="302.51" r="1.95" fill="#4DBBD5"/>
<circle cx="565.4" cy="303.98" r="1.95" fill="#4DBBD5"/>
<circle cx="565.4" cy="304.47" r="1.95" fill="#4DBBD5"/>
<circle cx="565.4" cy="305.14" r="1.95" fill="#4DBBD5"/>
<circle cx="565.4" cy="306.33" r="1.95" fill="#4DBBD5"/>
<circle cx="565.4" cy="306.9" r="1.95" fill="#4DBBD5"/>
<circle cx="565.4" cy="307.53" r="1.95" fill="#4DBBD5"/>
<circle cx="565.4" cy="308.86" r="1.95" fill="#4DBBD5"/>
<circle cx="565.4" cy="309.12" r="1.95" fill="#4DBBD5"/>
<circle cx="565.4" cy="310.62" r="1.95" fill="#4DBBD5"/>
<circle cx="565.4" cy="310.99" r="1.95" fill="#4DBBD5"/>
<circle cx="565.4" cy="312.16" r="1.95" fill="#4DBBD5"/>
<circle cx="565.4" cy="313.3" r="1.95" fill="#4DBBD5"/>
<circle cx="565.4" cy="313.81" r="1.95" fill="#4DBBD5"/>
<circle cx="565.4" cy="314.73" r="1.95" fill="#4DBBD5"/>
<circle cx="565.4" cy="315.28" r="1.95" fill="#4DBBD5"/>
<circle cx="565.4" cy="315.86" r="1.95" fill="#4DBBD5"/>
<circle cx="565.4" cy="316.74" r="1.95" fill="#4DBBD5"/>
<circle cx="565.4" cy="317.68" r="1.95" fill="#4DBBD5"/>
<circle cx="565.4" cy="318.93" r="1.95" fill="#4DBBD5"/>
<circle cx="565.4" cy="319.62" r="1.95" fill="#4DBBD5"/>
<circle cx="565.4" cy="320.53" r="1.95" fill="#4DBBD5"/>
<circle cx="565.4" cy="321.71" r="1.95" fill="#4DBBD5"/>
<circle cx="565.4" cy="321.91" r="1.95" fill="#4DBBD5"/>
<circle cx="565.4" cy="322.84" r="1.95" fill="#4DBBD5"/>
<circle cx="565.4" cy="324.05" r="1.95" fill="#4DBBD5"/>
<circle cx="565.4" cy="324.36" r="1.95" fill="#4DBBD5"/>
<circle cx="565.4" cy="325.19" r="1.95" fill="#4DBBD5"/>
<circle cx="565.4" cy="326.34" r="1.95" fill="#4DBBD5"/>
<circle cx="565.4" cy="326.98" r="1.95" fill="#4DBBD5"/>
<circle cx="565.4" cy="328.04" r="1.95" fill="#4DBBD5"/>
<circle cx="565.4" cy="328.77" r="1.95" fill="#4DBBD5"/>
<circle cx="565.4" cy="329.92" r="1.95" fill="#4DBBD5"/>
<circle cx="565.4" cy="330.78" r="1.95" fill="#4DBBD5"/>
<circle cx="565.4" cy="331.3" r="1.95" fill="#4DBBD5"/>
<circle cx="565.4" cy="332.5" r="1.95" fill="#4DBBD5"/>
<circle cx="565.4" cy="333.23" r="1.95" fill="#4DBBD5"/>
<circle cx="565.4" cy="333.78" r="1.95" fill="#4DBBD5"/>
<circle cx="565.4" cy="335.31" r="1.95" fill="#4DBBD5"/>
<circle cx="565.4" cy="335.57" r="1.95" fill="#4DBBD5"/>
<circle cx="565.4" cy="336.34" r="1.95" fill="#4DBBD5"/>
<circle cx="565.4" cy="337.14" r="1.95" fill="#4DBBD5"/>
<circle cx="565.4" cy="338.45" r="1.95" fill="#4DBBD5"/>
<circle cx="565.4" cy="339.5" r="1.95" fill="#4DBBD5"/>
<circle cx="565.4" cy="340.27" r="1.95" fill="#4DBBD5"/>
<circle cx="565.4" cy="340.8" r="1.95" fill="#4DBBD5"/>
<circle cx="565.4" cy="341.53" r="1.95" fill="#4DBBD5"/>
<circle cx="565.4" cy="342.16" r="1.95" fill="#4DBBD5"/>
<circle cx="575.5" cy="266.3" r="1.95" fill="#E64B35"/>
<circle cx="575.5" cy="272.9" r="1.95" fill="#E64B35"/>
<circle cx="575.5" cy="278.97" r="1.95" fill="#E64B35"/>
<circle cx="575.5" cy="279.78" r="1.95" fill="#E64B35"/>
<circle cx="575.5" cy="280.48" r="1.95" fill="#E64B35"/>
<circle cx="575.5" cy="281.63" r="1.95" fill="#E64B35"/>
<circle cx="575.5" cy="282.33" r="1.95" fill="#E64B35"/>
<circle cx="575.5" cy="283.65" r="1.95" fill="#E64B35"/>
<circle cx="575.5" cy="284.36" r="1.95" fill="#E64B35"/>
<circle cx="575.5" cy="284.81" r="1.95" fill="#E64B35"/>
<circle cx="575.5" cy="286.28" r="1.95" fill="#E64B35"/>
<circle cx="575.5" cy="286.4" r="1.95" fill="#E64B35"/>
<circle cx="575.5" cy="287.72" r="1.95" fill="#E64B35"/>
<circle cx="575.5" cy="288.49" r="1.95" fill="#E64B35"/>
<circle cx="575.5" cy="289.23" r="1.95" fill="#E64B35"/>
<circle cx="575.5" cy="289.96" r="1.95" fill="#E64B35"/>
<circle cx="575.5" cy="291.48" r="1.95" fill="#E64B35"/>
<circle cx="575.5" cy="291.68" r="1.95" fill="#E64B35"/>
<circle cx="575.5" cy="293.05" r="1.95" fill="#E64B35"/>
<circle cx="575.5" cy="294.28" r="1.95" fill="#E64B35"/>
<circle cx="575.5" cy="294.45" r="1.95" fill="#E64B35"/>
<circle cx="575.5" cy="295.39" r="1.95" fill="#E64B35"/>
<circle cx="575.5" cy="296.64" r="1.95" fill="#E64B35"/>
<circle cx="575.5" cy="297.43" r="1.95" fill="#E64B35"/>
<circle cx="575.5" cy="298.44" r="1.95" fill="#E64B35"/>
<circle cx="575.5" cy="299.47" r="1.95" fill="#E64B35"/>
<circle cx="575.5" cy="299.79" r="1.95" fill="#E64B35"/>
<circle cx="575.5" cy="300.8" r="1.95" fill="#E64B35"/>
<circle cx="575.5" cy="301.67" r="1.95" fill="#E64B35"/>
<circle cx="575.5" cy="302.34" r="1.95" fill="#E64B35"/>
<circle cx="575.5" cy="303.96" r="1.95" fill="#E64B35"/>
<circle cx="575.5" cy="304.76" r="1.95" fill="#E64B35"/>
<circle cx="575.5" cy="305.58" r="1.95" fill="#E64B35"/>
<circle cx="575.5" cy="305.84" r="1.95" fill="#E64B35"/>
<circle cx="575.5" cy="307.46" r="1.95" fill="#E64B35"/>
<circle cx="575.5" cy="308.26" r="1.95" fill="#E64B35"/>
<circle cx="575.5" cy="308.9" r="1.95" fill="#E64B35"/>
<circle cx="575.5" cy="310.03" r="1.95" fill="#E64B35"/>
<circle cx="575.5" cy="310.66" r="1.95" fill="#E64B35"/>
<circle cx="575.5" cy="311.34" r="1.95" fill="#E64B35"/>
<circle cx="575.5" cy="312.12" r="1.95" fill="#E64B35"/>
<circle cx="575.5" cy="313.12" r="1.95" fill="#E64B35"/>
<circle cx="575.5" cy="313.83" r="1.95" fill="#E64B35"/>
<circle cx="575.5" cy="314.98" r="1.95" fill="#E64B35"/>
<circle cx="575.5" cy="316.23" r="1.95" fill="#E64B35"/>
<circle cx="575.5" cy="317.07" r="1.95" fill="#E64B35"/>
<circle cx="575.5" cy="318.08" r="1.95" fill="#E64B35"/>
<circle cx="575.5" cy="318.85" r="1.95" fill="#E64B35"/>
<circle cx="575.5" cy="319.34" r="1.95" fill="#E64B35"/>
<circle cx="575.5" cy="320.48" r="1.95" fill="#E64B35"/>
<circle cx="575.5" cy="321.26" r="1.95" fill="#E64B35"/>
<circle cx="575.5" cy="322.46" r="1.95" fill="#E64B35"/>
<circle cx="575.5" cy="323.11" r="1.95" fill="#E64B35"/>
<circle cx="575.5" cy="323.76" r="1.95" fill="#E64B35"/>
<circle cx="575.5" cy="324.98" r="1.95" fill="#E64B35"/>
<circle cx="575.5" cy="333" r="1.95" fill="#E64B35"/>
<circle cx="575.5" cy="340.3" r="1.95" fill="#E64B35"/>
<circle cx="590.7" cy="302.9" r="1.95" fill="#4DBBD5"/>
<circle cx="590.7" cy="317.6" r="1.95" fill="#4DBBD5"/>
<circle cx="600.8" cy="302" r="1.95" fill="#E64B35"/>
<circle cx="600.8" cy="345.5" r="1.95" fill="#E64B35"/>
<circle cx="616" cy="274.1" r="1.95" fill="#4DBBD5"/>
<circle cx="616" cy="293.1" r="1.95" fill="#4DBBD5"/>
<circle cx="616" cy="295.73" r="1.95" fill="#4DBBD5"/>
<circle cx="616" cy="296.45" r="1.95" fill="#4DBBD5"/>
<circle cx="616" cy="301.16" r="1.95" fill="#4DBBD5"/>
<circle cx="616" cy="301.54" r="1.95" fill="#4DBBD5"/>
<circle cx="616" cy="305.07" r="1.95" fill="#4DBBD5"/>
<circle cx="616" cy="307.84" r="1.95" fill="#4DBBD5"/>
<circle cx="616" cy="312.11" r="1.95" fill="#4DBBD5"/>
<circle cx="616" cy="315.51" r="1.95" fill="#4DBBD5"/>
<circle cx="616" cy="317.78" r="1.95" fill="#4DBBD5"/>
<circle cx="616" cy="319.43" r="1.95" fill="#4DBBD5"/>
<circle cx="616" cy="323.83" r="1.95" fill="#4DBBD5"/>
<circle cx="616" cy="325.1" r="1.95" fill="#4DBBD5"/>
<circle cx="616" cy="327.68" r="1.95" fill="#4DBBD5"/>
<circle cx="616" cy="332.4" r="1.95" fill="#4DBBD5"/>
<circle cx="616" cy="334.45" r="1.95" fill="#4DBBD5"/>
<circle cx="616" cy="337.46" r="1.95" fill="#4DBBD5"/>
<circle cx="616" cy="340.22" r="1.95" fill="#4DBBD5"/>
<circle cx="616" cy="343.94" r="1.95" fill="#4DBBD5"/>
<circle cx="616" cy="345.33" r="1.95" fill="#4DBBD5"/>
<circle cx="616" cy="349.21" r="1.95" fill="#4DBBD5"/>
<circle cx="616" cy="351.64" r="1.95" fill="#4DBBD5"/>
<circle cx="626.1" cy="279.4" r="1.95" fill="#E64B35"/>
<circle cx="626.1" cy="303" r="1.95" fill="#E64B35"/>
<circle cx="626.1" cy="311.8" r="1.95" fill="#E64B35"/>
<circle cx="626.1" cy="313.7" r="1.95" fill="#E64B35"/>
<circle cx="626.1" cy="320.6" r="1.95" fill="#E64B35"/>
<circle cx="626.1" cy="327.5" r="1.95" fill="#E64B35"/>
<circle cx="626.1" cy="329.5" r="1.95" fill="#E64B35"/>
<circle cx="626.1" cy="331.4" r="1.95" fill="#E64B35"/>
<circle cx="626.1" cy="339.2" r="1.95" fill="#E64B35"/>
<circle cx="626.1" cy="342" r="1.95" fill="#E64B35"/>
<circle cx="626.1" cy="345" r="1.95" fill="#E64B35"/>
<circle cx="626.1" cy="349" r="1.95" fill="#E64B35"/>
<circle cx="626.1" cy="358.8" r="1.95" fill="#E64B35"/>
<circle cx="626.1" cy="361.5" r="1.95" fill="#E64B35"/>
<circle cx="626.1" cy="364.7" r="1.95" fill="#E64B35"/>
<circle cx="626.1" cy="309.65" r="1.95" fill="#E64B35"/>
<circle cx="626.1" cy="314.14" r="1.95" fill="#E64B35"/>
<circle cx="626.1" cy="324.12" r="1.95" fill="#E64B35"/>
<circle cx="626.1" cy="330.67" r="1.95" fill="#E64B35"/>
<circle cx="626.1" cy="336.39" r="1.95" fill="#E64B35"/>
<circle cx="626.1" cy="343.39" r="1.95" fill="#E64B35"/>
<circle cx="626.1" cy="354.33" r="1.95" fill="#E64B35"/>
<circle cx="626.1" cy="357.85" r="1.95" fill="#E64B35"/>
<rect x="49.4" y="212.8" width="586.8" height="164.5" fill="none" stroke="#000" stroke-width="1.1"/>
<line x1="45" y1="376.7" x2="49.4" y2="376.7" stroke="#000" stroke-width="1" />
<text x="42.5" y="379.9" font-size="9.1" text-anchor="end" fill="#000" >0</text>
<line x1="45" y1="338" x2="49.4" y2="338" stroke="#000" stroke-width="1" />
<text x="42.5" y="341.2" font-size="9.1" text-anchor="end" fill="#000" >2</text>
<line x1="45" y1="299.3" x2="49.4" y2="299.3" stroke="#000" stroke-width="1" />
<text x="42.5" y="302.5" font-size="9.1" text-anchor="end" fill="#000" >4</text>
<line x1="45" y1="260.6" x2="49.4" y2="260.6" stroke="#000" stroke-width="1" />
<text x="42.5" y="263.8" font-size="9.1" text-anchor="end" fill="#000" >6</text>
<line x1="45" y1="221.9" x2="49.4" y2="221.9" stroke="#000" stroke-width="1" />
<text x="42.5" y="225.1" font-size="9.1" text-anchor="end" fill="#000" >8</text>
<line x1="64.45" y1="377.3" x2="64.45" y2="381.7" stroke="#000" stroke-width="1" />
<text x="68.75" y="389.9" font-size="9.1" text-anchor="end" fill="#000" transform="rotate(-45 68.75 389.9)">BLCA</text>
<line x1="89.75" y1="377.3" x2="89.75" y2="381.7" stroke="#000" stroke-width="1" />
<text x="94.05" y="389.9" font-size="9.1" text-anchor="end" fill="#000" transform="rotate(-45 94.05 389.9)">BRCA</text>
<line x1="115.05" y1="377.3" x2="115.05" y2="381.7" stroke="#000" stroke-width="1" />
<text x="119.35" y="389.9" font-size="9.1" text-anchor="end" fill="#000" transform="rotate(-45 119.35 389.9)">CESC</text>
<line x1="140.35" y1="377.3" x2="140.35" y2="381.7" stroke="#000" stroke-width="1" />
<text x="144.65" y="389.9" font-size="9.1" text-anchor="end" fill="#000" transform="rotate(-45 144.65 389.9)">CHOL</text>
<line x1="165.65" y1="377.3" x2="165.65" y2="381.7" stroke="#000" stroke-width="1" />
<text x="169.95" y="389.9" font-size="9.1" text-anchor="end" fill="#000" transform="rotate(-45 169.95 389.9)">COAD</text>
<line x1="190.95" y1="377.3" x2="190.95" y2="381.7" stroke="#000" stroke-width="1" />
<text x="195.25" y="389.9" font-size="9.1" text-anchor="end" fill="#000" transform="rotate(-45 195.25 389.9)">ESCA</text>
<line x1="216.25" y1="377.3" x2="216.25" y2="381.7" stroke="#000" stroke-width="1" />
<text x="220.55" y="389.9" font-size="9.1" text-anchor="end" fill="#000" transform="rotate(-45 220.55 389.9)">HNSC</text>
<line x1="241.55" y1="377.3" x2="241.55" y2="381.7" stroke="#000" stroke-width="1" />
<text x="245.85" y="389.9" font-size="9.1" text-anchor="end" fill="#000" transform="rotate(-45 245.85 389.9)">KICH</text>
<line x1="266.85" y1="377.3" x2="266.85" y2="381.7" stroke="#000" stroke-width="1" />
<text x="271.15" y="389.9" font-size="9.1" text-anchor="end" fill="#000" transform="rotate(-45 271.15 389.9)">KIRC</text>
<line x1="292.15" y1="377.3" x2="292.15" y2="381.7" stroke="#000" stroke-width="1" />
<text x="296.45" y="389.9" font-size="9.1" text-anchor="end" fill="#000" transform="rotate(-45 296.45 389.9)">KIRP</text>
<line x1="317.45" y1="377.3" x2="317.45" y2="381.7" stroke="#000" stroke-width="1" />
<text x="321.75" y="389.9" font-size="9.1" text-anchor="end" fill="#000" transform="rotate(-45 321.75 389.9)">LIHC</text>
<line x1="342.75" y1="377.3" x2="342.75" y2="381.7" stroke="#000" stroke-width="1" />
<text x="347.05" y="389.9" font-size="9.1" text-anchor="end" fill="#000" transform="rotate(-45 347.05 389.9)">LUAD</text>
<line x1="368.05" y1="377.3" x2="368.05" y2="381.7" stroke="#000" stroke-width="1" />
<text x="372.35" y="389.9" font-size="9.1" text-anchor="end" fill="#000" transform="rotate(-45 372.35 389.9)">LUSC</text>
<line x1="393.35" y1="377.3" x2="393.35" y2="381.7" stroke="#000" stroke-width="1" />
<text x="397.65" y="389.9" font-size="9.1" text-anchor="end" fill="#000" transform="rotate(-45 397.65 389.9)">PAAD</text>
<line x1="418.65" y1="377.3" x2="418.65" y2="381.7" stroke="#000" stroke-width="1" />
<text x="422.95" y="389.9" font-size="9.1" text-anchor="end" fill="#000" transform="rotate(-45 422.95 389.9)">PCPG</text>
<line x1="443.95" y1="377.3" x2="443.95" y2="381.7" stroke="#000" stroke-width="1" />
<text x="448.25" y="389.9" font-size="9.1" text-anchor="end" fill="#000" transform="rotate(-45 448.25 389.9)">PRAD</text>
<line x1="469.25" y1="377.3" x2="469.25" y2="381.7" stroke="#000" stroke-width="1" />
<text x="473.55" y="389.9" font-size="9.1" text-anchor="end" fill="#000" transform="rotate(-45 473.55 389.9)">READ</text>
<line x1="494.55" y1="377.3" x2="494.55" y2="381.7" stroke="#000" stroke-width="1" />
<text x="498.85" y="389.9" font-size="9.1" text-anchor="end" fill="#000" transform="rotate(-45 498.85 389.9)">SARC</text>
<line x1="519.85" y1="377.3" x2="519.85" y2="381.7" stroke="#000" stroke-width="1" />
<text x="524.15" y="389.9" font-size="9.1" text-anchor="end" fill="#000" transform="rotate(-45 524.15 389.9)">SKCM</text>
<line x1="545.15" y1="377.3" x2="545.15" y2="381.7" stroke="#000" stroke-width="1" />
<text x="549.45" y="389.9" font-size="9.1" text-anchor="end" fill="#000" transform="rotate(-45 549.45 389.9)">STAD</text>
<line x1="570.45" y1="377.3" x2="570.45" y2="381.7" stroke="#000" stroke-width="1" />
<text x="574.75" y="389.9" font-size="9.1" text-anchor="end" fill="#000" transform="rotate(-45 574.75 389.9)">THCA</text>
<line x1="595.75" y1="377.3" x2="595.75" y2="381.7" stroke="#000" stroke-width="1" />
<text x="600.05" y="389.9" font-size="9.1" text-anchor="end" fill="#000" transform="rotate(-45 600.05 389.9)">THYM</text>
<line x1="621.05" y1="377.3" x2="621.05" y2="381.7" stroke="#000" stroke-width="1" />
<text x="625.35" y="389.9" font-size="9.1" text-anchor="end" fill="#000" transform="rotate(-45 625.35 389.9)">UCEC</text>
<text x="17.3" y="295" font-size="10.6" text-anchor="middle" fill="#000" style="stroke-width:0.1px" transform="rotate(-90 17.3 295)">The expression of SPHK1</text>
<text x="27.1" y="295" font-size="10.6" text-anchor="middle" fill="#000" style="stroke-width:0.1px" transform="rotate(-90 27.1 295)">Log<tspan font-size="7.6" dy="2.4">2</tspan><tspan dy="-2.4"> (TPM+1)</tspan></text>
<text x="1" y="215.4" font-size="17.5" text-anchor="start" fill="#000" >B</text>
<circle cx="645.9" cy="291.8" r="2" fill="#4DBBD5"/>
<circle cx="645.9" cy="302.5" r="2" fill="#E64B35"/>
<text x="656" y="294.7" font-size="9.2" text-anchor="start" fill="#000" >Normal</text>
<text x="656" y="305.7" font-size="9.2" text-anchor="start" fill="#000" >Tumor</text>
</svg></body></html>
